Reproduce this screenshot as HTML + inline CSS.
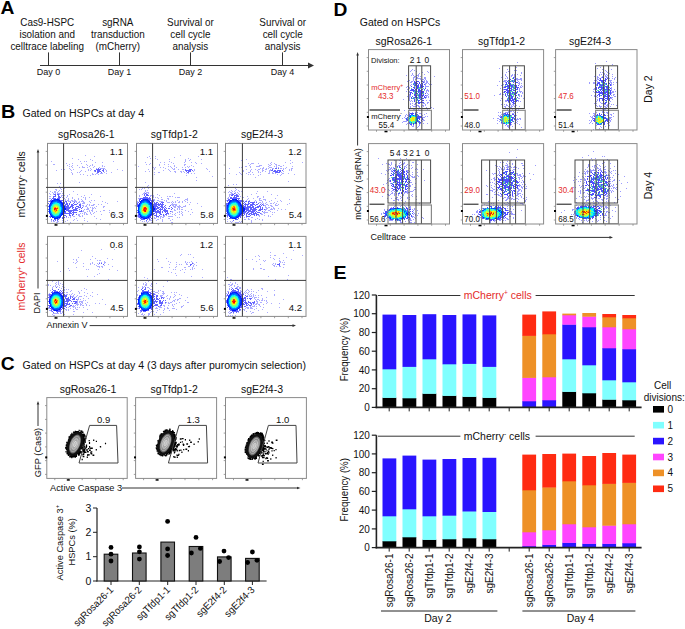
<!DOCTYPE html>
<html><head><meta charset="utf-8"><style>
html,body{margin:0;padding:0;background:#fff;}
svg{display:block;}
text{font-family:"Liberation Sans",sans-serif;}
</style></head><body>
<svg width="685" height="629" viewBox="0 0 685 629">
<defs><radialGradient id="cg" cx="50%" cy="50%" r="50%"><stop offset="0" stop-color="#c4c4c4"/><stop offset=".6" stop-color="#999"/><stop offset="1" stop-color="#606060"/></radialGradient></defs>
<rect width="685" height="629" fill="#fff"/>
<text transform="translate(0.6 14.3) scale(1.1 1)" font-size="17.5" font-weight="bold" fill="#000">A</text>
<path d="M40 65.5L310 65.5" stroke="#333" stroke-width="1"/>
<path d="M308 62.6L314 65.5L308 68.4Z" fill="#333"/>
<path d="M48.5 52.4L48.5 65.5" stroke="#333" stroke-width="1"/>
<path d="M119.5 52.4L119.5 65.5" stroke="#333" stroke-width="1"/>
<path d="M190.5 52.4L190.5 65.5" stroke="#333" stroke-width="1"/>
<path d="M282.5 52.4L282.5 65.5" stroke="#333" stroke-width="1"/>
<text transform="translate(47.2 26) scale(1 1.04)" text-anchor="middle" fill="#111" font-size="9.9">Cas9-HSPC</text>
<text transform="translate(47.2 38) scale(1 1.04)" text-anchor="middle" fill="#111" font-size="9.9">isolation and</text>
<text transform="translate(47.2 50) scale(1 1.04)" text-anchor="middle" fill="#111" font-size="9.9">celltrace labeling</text>
<text transform="translate(48.5 74.6) scale(1 1.04)" text-anchor="middle" fill="#111" font-size="9">Day 0</text>
<text transform="translate(117.8 26) scale(1 1.04)" text-anchor="middle" fill="#111" font-size="9.9">sgRNA</text>
<text transform="translate(117.8 38) scale(1 1.04)" text-anchor="middle" fill="#111" font-size="9.9">transduction</text>
<text transform="translate(117.8 50) scale(1 1.04)" text-anchor="middle" fill="#111" font-size="9.9">(mCherry)</text>
<text transform="translate(119.5 74.6) scale(1 1.04)" text-anchor="middle" fill="#111" font-size="9">Day 1</text>
<text transform="translate(190.4 26) scale(1 1.04)" text-anchor="middle" fill="#111" font-size="9.9">Survival or</text>
<text transform="translate(190.4 38) scale(1 1.04)" text-anchor="middle" fill="#111" font-size="9.9">cell cycle</text>
<text transform="translate(190.4 50) scale(1 1.04)" text-anchor="middle" fill="#111" font-size="9.9">analysis</text>
<text transform="translate(190.5 74.6) scale(1 1.04)" text-anchor="middle" fill="#111" font-size="9">Day 2</text>
<text transform="translate(282.7 26) scale(1 1.04)" text-anchor="middle" fill="#111" font-size="9.9">Survival or</text>
<text transform="translate(282.7 38) scale(1 1.04)" text-anchor="middle" fill="#111" font-size="9.9">cell cycle</text>
<text transform="translate(282.7 50) scale(1 1.04)" text-anchor="middle" fill="#111" font-size="9.9">analysis</text>
<text transform="translate(282.5 74.6) scale(1 1.04)" text-anchor="middle" fill="#111" font-size="9">Day 4</text>
<text transform="translate(1 117.6) scale(1.13 1)" font-size="17.5" font-weight="bold" fill="#000">B</text>
<text transform="translate(22.4 116.6) scale(1 1.04)" fill="#111" font-size="10.6">Gated on HSPCs at day 4</text>
<text transform="translate(86.4 137.6) scale(1 1.04)" text-anchor="middle" fill="#111" font-size="10.5">sgRosa26-1</text>
<text transform="translate(174.3 137.6) scale(1 1.04)" text-anchor="middle" fill="#111" font-size="10.5">sgTfdp1-2</text>
<text transform="translate(262 137.6) scale(1 1.04)" text-anchor="middle" fill="#111" font-size="10.5">sgE2f4-3</text>
<path d="M85 155.5h1M94 156.5h1M72 158.5h1M78 159.5h1M90 159.5h1M92 160.5h1M51 161.5h1M80 161.5h1M84 161.5h1M86 161.5h1M113 161.5h1M95 162.5h1M102 162.5h1M66 163.5h1M72 163.5h1M81 163.5h1M53 164.5h1M54 164.5h1M69 164.5h1M86 164.5h1M92 164.5h1M67 165.5h1M72 165.5h1M77 165.5h1M87 165.5h1M90 165.5h1M92 165.5h1M102 165.5h1M69 166.5h1M71 166.5h1M82 166.5h1M89 166.5h1M94 166.5h1M102 166.5h1M104 166.5h1M72 167.5h1M79 167.5h1M82 167.5h1M83 167.5h1M84 167.5h1M87 167.5h1M93 167.5h1M99 167.5h1M69 168.5h1M90 168.5h1M96 168.5h1M100 168.5h1M101 168.5h1M102 168.5h1M103 168.5h1M104 168.5h1M61 169.5h1M64 169.5h1M70 169.5h1M73 169.5h1M88 169.5h1M91 169.5h1M105 169.5h1M117 169.5h1M56 170.5h1M71 170.5h1M81 170.5h1M88 170.5h1M90 170.5h1M106 170.5h1M122 170.5h1M80 171.5h1M85 171.5h1M94 171.5h1M106 171.5h1M71 172.5h1M77 172.5h1M79 172.5h1M104 172.5h1M111 172.5h1M72 173.5h1M92 173.5h1M96 173.5h1M97 173.5h1M100 173.5h1M101 173.5h1M102 173.5h1M106 173.5h1M72 174.5h1M80 174.5h1M83 174.5h1M92 174.5h1M93 174.5h1M95 174.5h1M98 174.5h1M87 175.5h1M90 175.5h1M79 182.5h1M57 183.5h1M60 183.5h1M59 186.5h1M60 188.5h1M64 188.5h1M55 189.5h1M56 189.5h1M61 189.5h1M56 190.5h1M59 190.5h1M50 191.5h1M54 191.5h1M55 191.5h1M58 191.5h1M61 191.5h1M73 191.5h1M52 192.5h1M54 192.5h1M55 192.5h1M57 192.5h1M49 193.5h1M53 193.5h1M55 193.5h1M57 193.5h1M58 193.5h1M59 193.5h1M60 193.5h1M62 193.5h1M50 194.5h1M53 194.5h1M59 194.5h1M69 194.5h1M77 194.5h1M91 194.5h1M61 195.5h1M62 195.5h1M64 195.5h1M67 195.5h1M84 195.5h1M49 196.5h1M50 196.5h1M61 196.5h1M67 196.5h1M81 196.5h1M100 196.5h1M62 197.5h1M63 197.5h1M66 197.5h1M72 197.5h1M83 197.5h1M85 197.5h1M89 197.5h1M49 198.5h1M50 198.5h1M64 198.5h1M68 198.5h1M72 198.5h1M78 198.5h1M85 198.5h1M65 199.5h1M68 199.5h1M74 199.5h1M78 199.5h1M81 199.5h1M85 199.5h1M65 200.5h1M67 200.5h1M68 200.5h1M71 200.5h1M72 200.5h1M74 200.5h1M75 200.5h1M82 200.5h1M91 200.5h1M94 200.5h1M48 201.5h1M68 201.5h1M69 201.5h1M70 201.5h1M72 201.5h1M73 201.5h1M74 201.5h1M75 201.5h1M76 201.5h1M79 201.5h1M81 201.5h1M82 201.5h1M83 201.5h1M89 201.5h1M102 201.5h1M117 201.5h1M76 202.5h1M78 202.5h1M79 202.5h1M83 202.5h1M84 202.5h1M90 202.5h1M105 202.5h1M80 203.5h1M82 203.5h1M83 203.5h1M84 203.5h1M107 203.5h1M87 204.5h1M89 204.5h1M93 204.5h1M94 204.5h1M98 204.5h1M101 204.5h1M82 205.5h1M83 205.5h1M86 205.5h1M89 205.5h1M91 205.5h1M92 205.5h1M93 205.5h1M83 206.5h1M85 206.5h1M86 206.5h1M96 206.5h1M103 206.5h1M104 206.5h1M87 207.5h1M90 207.5h1M92 207.5h1M94 207.5h1M103 207.5h1M87 208.5h1M88 208.5h1M92 208.5h1M93 208.5h1M95 208.5h1M84 209.5h1M86 209.5h1M87 209.5h1M88 209.5h1M92 209.5h1M83 210.5h1M89 210.5h1M91 210.5h1M92 210.5h1M103 210.5h1M104 210.5h1M109 210.5h1M82 211.5h1M83 211.5h1M87 211.5h1M89 211.5h1M92 211.5h1M96 211.5h1M100 211.5h1M84 212.5h1M85 212.5h1M90 212.5h1M94 212.5h1M109 212.5h1M80 213.5h1M82 213.5h1M84 213.5h1M86 213.5h1M90 213.5h1M93 213.5h1M78 214.5h1M79 214.5h1M84 214.5h1M86 214.5h1M87 214.5h1M91 214.5h1M101 214.5h1M115 214.5h1M78 215.5h1M79 215.5h1M82 215.5h1M70 216.5h1M73 216.5h1M74 216.5h1M79 216.5h1M80 216.5h1M82 216.5h1M94 216.5h1M66 217.5h1M68 217.5h1M70 217.5h1M63 218.5h1M76 218.5h1M84 218.5h1M96 218.5h1M74 219.5h1M100 219.5h1M51 220.5h1M62 220.5h1M67 220.5h1M73 220.5h1M77 220.5h1M84 220.5h1M51 221.5h1M53 221.5h1M54 221.5h1M57 221.5h1M58 221.5h1M65 221.5h1M87 221.5h1M56 222.5h1M57 222.5h1M62 222.5h1M70 222.5h1" stroke="#3a3aff" stroke-opacity="0.42" stroke-width="1"/>
<path d="M98 168.5h1M96 169.5h1M97 169.5h1M98 169.5h1M99 169.5h1M100 169.5h1M103 169.5h1M94 170.5h1M95 170.5h1M97 170.5h1M98 170.5h1M99 170.5h1M102 170.5h1M103 170.5h1M95 171.5h1M97 171.5h1M98 171.5h1M99 171.5h1M100 171.5h1M103 171.5h1M97 172.5h1M98 172.5h1M101 172.5h1M54 194.5h1M55 194.5h1M57 194.5h1M58 194.5h1M55 195.5h1M58 195.5h1M53 196.5h1M54 196.5h1M55 196.5h1M58 196.5h1M59 196.5h1M53 197.5h1M58 197.5h1M59 197.5h1M60 197.5h1M52 198.5h1M53 198.5h1M54 198.5h1M55 198.5h1M57 198.5h1M58 198.5h1M59 198.5h1M51 199.5h1M53 199.5h1M59 199.5h1M63 199.5h1M50 200.5h1M51 200.5h1M60 200.5h1M61 200.5h1M62 200.5h1M49 201.5h1M50 201.5h1M61 201.5h1M65 201.5h1M66 201.5h1M50 202.5h1M62 202.5h1M64 202.5h1M66 202.5h1M70 202.5h1M74 202.5h1M48 203.5h1M63 203.5h1M64 203.5h1M66 203.5h1M67 203.5h1M69 203.5h1M73 203.5h1M77 203.5h1M49 204.5h1M63 204.5h1M65 204.5h1M66 204.5h1M67 204.5h1M69 204.5h1M71 204.5h1M72 204.5h1M74 204.5h1M75 204.5h1M76 204.5h1M79 204.5h1M80 204.5h1M64 205.5h1M65 205.5h1M67 205.5h1M68 205.5h1M71 205.5h1M72 205.5h1M73 205.5h1M79 205.5h1M80 205.5h1M48 206.5h1M65 206.5h1M66 206.5h1M67 206.5h1M68 206.5h1M70 206.5h1M71 206.5h1M72 206.5h1M76 206.5h1M77 206.5h1M78 206.5h1M80 206.5h1M65 207.5h1M66 207.5h1M67 207.5h1M68 207.5h1M69 207.5h1M70 207.5h1M72 207.5h1M73 207.5h1M75 207.5h1M78 207.5h1M79 207.5h1M80 207.5h1M82 207.5h1M66 208.5h1M67 208.5h1M68 208.5h1M69 208.5h1M72 208.5h1M75 208.5h1M76 208.5h1M77 208.5h1M81 208.5h1M48 209.5h1M66 209.5h1M67 209.5h1M68 209.5h1M73 209.5h1M74 209.5h1M75 209.5h1M76 209.5h1M79 209.5h1M66 210.5h1M67 210.5h1M68 210.5h1M69 210.5h1M70 210.5h1M71 210.5h1M72 210.5h1M73 210.5h1M74 210.5h1M75 210.5h1M76 210.5h1M77 210.5h1M81 210.5h1M48 211.5h1M65 211.5h1M68 211.5h1M69 211.5h1M70 211.5h1M71 211.5h1M73 211.5h1M79 211.5h1M80 211.5h1M81 211.5h1M64 212.5h1M65 212.5h1M69 212.5h1M70 212.5h1M72 212.5h1M73 212.5h1M74 212.5h1M75 212.5h1M76 212.5h1M49 213.5h1M63 213.5h1M64 213.5h1M65 213.5h1M66 213.5h1M67 213.5h1M68 213.5h1M69 213.5h1M70 213.5h1M71 213.5h1M73 213.5h1M63 214.5h1M69 214.5h1M72 214.5h1M73 214.5h1M76 214.5h1M50 215.5h1M63 215.5h1M64 215.5h1M65 215.5h1M69 215.5h1M70 215.5h1M72 215.5h1M49 216.5h1M50 216.5h1M63 216.5h1M66 216.5h1M50 217.5h1M60 217.5h1M62 217.5h1M64 217.5h1M58 218.5h1M59 218.5h1M62 218.5h1M51 219.5h1M54 219.5h1M55 219.5h1M57 219.5h1M58 219.5h1M53 220.5h1M55 220.5h1M57 220.5h1" stroke="#2e2eff" stroke-opacity="0.75" stroke-width="1"/>
<path d="M57 199.5h1M58 199.5h1M52 200.5h1M59 200.5h1M51 201.5h1M52 201.5h1M60 201.5h1M51 202.5h1M61 202.5h1M50 203.5h1M62 203.5h1M62 204.5h1M63 205.5h1M49 206.5h1M63 206.5h1M64 206.5h1M64 207.5h1M64 208.5h1M65 208.5h1M64 209.5h1M65 209.5h1M63 211.5h1M64 211.5h1M63 212.5h1M62 213.5h1M50 214.5h1M62 214.5h1M51 216.5h1M60 216.5h1M52 217.5h1M59 217.5h1M54 218.5h1M55 218.5h1M57 218.5h1" stroke="#0019ff" stroke-width="1"/>
<path d="M54 199.5h1M55 199.5h1M56 199.5h1M53 200.5h1M54 200.5h1M57 200.5h1M58 200.5h1M59 201.5h1M60 202.5h1M61 203.5h1M50 204.5h1M49 205.5h1M62 205.5h1M49 207.5h1M62 207.5h1M63 207.5h1M49 208.5h1M63 208.5h1M49 209.5h1M63 209.5h1M49 210.5h1M63 210.5h1M64 210.5h1M49 211.5h1M49 212.5h1M62 212.5h1M61 213.5h1M61 214.5h1M51 215.5h1M61 215.5h1M52 216.5h1M53 217.5h1M57 217.5h1M58 217.5h1M56 218.5h1" stroke="#0032ff" stroke-width="1"/>
<path d="M55 200.5h1M56 200.5h1M53 201.5h1M58 201.5h1M51 203.5h1M61 204.5h1M50 205.5h1M61 205.5h1M62 206.5h1M62 208.5h1M62 209.5h1M62 210.5h1M62 211.5h1M50 213.5h1M60 215.5h1M59 216.5h1M54 217.5h1M55 217.5h1M56 217.5h1" stroke="#004cff" stroke-width="1"/>
<path d="M54 201.5h1M55 201.5h1M57 201.5h1M52 202.5h1M58 202.5h1M59 202.5h1M52 203.5h1M60 203.5h1M51 204.5h1M50 206.5h1M61 206.5h1M50 211.5h1M61 211.5h1M50 212.5h1M61 212.5h1M51 214.5h1M60 214.5h1M52 215.5h1M59 215.5h1M53 216.5h1M54 216.5h1M57 216.5h1M58 216.5h1" stroke="#0065ff" stroke-width="1"/>
<path d="M56 201.5h1M57 202.5h1M60 204.5h1M50 208.5h1M61 210.5h1M51 213.5h1M60 213.5h1M56 216.5h1" stroke="#007fff" stroke-width="1"/>
<path d="M53 202.5h1M59 203.5h1M51 205.5h1M60 205.5h1M50 207.5h1M61 207.5h1M61 209.5h1M50 210.5h1M59 214.5h1" stroke="#0099ff" stroke-width="1"/>
<path d="M54 202.5h1M60 206.5h1M61 208.5h1M50 209.5h1M60 212.5h1M52 214.5h1M53 215.5h1M58 215.5h1M55 216.5h1" stroke="#00b2ff" stroke-width="1"/>
<path d="M55 202.5h1M56 202.5h1M53 203.5h1M51 212.5h1" stroke="#00ccff" stroke-width="1"/>
<path d="M54 203.5h1M52 204.5h1M59 213.5h1M57 215.5h1" stroke="#00e5ff" stroke-width="1"/>
<path d="M58 203.5h1M59 204.5h1M59 205.5h1M60 207.5h1M60 208.5h1M60 210.5h1M51 211.5h1M60 211.5h1M54 215.5h1M55 215.5h1" stroke="#00ffff" stroke-width="1"/>
<path d="M55 203.5h1M56 203.5h1M53 204.5h1M58 204.5h1M52 205.5h1M51 206.5h1M51 207.5h1M58 214.5h1M56 215.5h1" stroke="#19ffe5" stroke-width="1"/>
<path d="M57 203.5h1M52 206.5h1M59 206.5h1M51 208.5h1M51 209.5h1M60 209.5h1M51 210.5h1M52 212.5h1M59 212.5h1M52 213.5h1M53 214.5h1M56 214.5h1" stroke="#32ffcc" stroke-width="1"/>
<path d="M57 204.5h1M58 205.5h1M59 207.5h1M59 210.5h1M53 213.5h1M58 213.5h1M54 214.5h1M55 214.5h1M57 214.5h1" stroke="#4cffb2" stroke-width="1"/>
<path d="M54 204.5h1M55 204.5h1M53 205.5h1M52 207.5h1M52 208.5h1M59 208.5h1M59 209.5h1M52 211.5h1M59 211.5h1M54 213.5h1M57 213.5h1" stroke="#65ff99" stroke-width="1"/>
<path d="M56 204.5h1M57 205.5h1M53 206.5h1M52 210.5h1M58 210.5h1M53 212.5h1M54 212.5h1M58 212.5h1M56 213.5h1" stroke="#7fff7f" stroke-width="1"/>
<path d="M54 205.5h1M56 205.5h1M54 206.5h1M58 206.5h1M52 209.5h1M58 211.5h1M57 212.5h1" stroke="#99ff65" stroke-width="1"/>
<path d="M55 205.5h1M57 206.5h1M58 207.5h1M53 209.5h1M55 213.5h1" stroke="#b2ff4c" stroke-width="1"/>
<path d="M53 208.5h1M58 208.5h1M53 211.5h1M57 211.5h1" stroke="#cbff33" stroke-width="1"/>
<path d="M55 206.5h1M58 209.5h1" stroke="#e5ff19" stroke-width="1"/>
<path d="M56 206.5h1M56 207.5h1M57 209.5h1M53 210.5h1M56 212.5h1" stroke="#ffff00" stroke-width="1"/>
<path d="M53 207.5h1M57 210.5h1M54 211.5h1M56 211.5h1M55 212.5h1" stroke="#ffe500" stroke-width="1"/>
<path d="M54 207.5h1M57 207.5h1M55 210.5h1" stroke="#ffb200" stroke-width="1"/>
<path d="M54 210.5h1M55 211.5h1" stroke="#ff9900" stroke-width="1"/>
<path d="M55 207.5h1" stroke="#ff7f00" stroke-width="1"/>
<path d="M56 208.5h1M55 209.5h1M56 209.5h1" stroke="#ff4c00" stroke-width="1"/>
<path d="M57 208.5h1M56 210.5h1" stroke="#ff3300" stroke-width="1"/>
<path d="M54 208.5h1" stroke="#ff1900" stroke-width="1"/>
<path d="M55 208.5h1M54 209.5h1" stroke="#ff0000" stroke-width="1"/>
<rect x="47.5" y="143.4" width="80" height="80" fill="none" stroke="#8a8a8a" stroke-width="1"/>
<path d="M47.5 151.4h-1.8M47.5 165h-1.8M47.5 178.6h-1.8M47.5 192.2h-1.8M47.5 205.8h-1.8M47.5 219.4h-1.8M55.5 223.4v1.8M69.1 223.4v1.8M82.7 223.4v1.8M96.3 223.4v1.8M109.9 223.4v1.8M123.5 223.4v1.8" stroke="#888" stroke-width=".8"/>
<path d="M63.6 143.4L63.6 223.4" stroke="#3a3a3a" stroke-width="1"/>
<path d="M46 187.4L127.5 187.4" stroke="#3a3a3a" stroke-width="1"/>
<text transform="translate(123.1 154.6) scale(1 1.04)" text-anchor="end" fill="#111" font-size="9.6">1.1</text>
<text transform="translate(123.5 218.4) scale(1 1.04)" text-anchor="end" fill="#111" font-size="9.6">6.3</text>
<rect x="45.9" y="214.9" width="2" height="2" fill="#000"/>
<rect x="54.5" y="224.2" width="3" height="1.5" fill="#000"/>
<path d="M180 155.5h1M149 156.5h1M155 156.5h1M198 156.5h1M147 157.5h1M174 157.5h1M150 158.5h1M155 158.5h1M188 158.5h1M157 159.5h1M169 159.5h1M185 159.5h1M190 159.5h1M201 159.5h1M152 160.5h1M185 160.5h1M189 160.5h1M169 161.5h1M185 161.5h1M145 162.5h1M160 162.5h1M164 162.5h1M171 162.5h1M184 162.5h1M191 162.5h1M195 162.5h1M150 163.5h1M173 163.5h1M196 163.5h1M201 163.5h1M146 164.5h1M149 164.5h1M159 164.5h1M164 164.5h1M168 164.5h1M184 164.5h1M185 164.5h1M159 165.5h1M174 165.5h1M184 165.5h1M191 165.5h1M138 166.5h1M152 166.5h1M168 166.5h1M170 166.5h1M174 166.5h1M187 166.5h1M189 166.5h1M193 166.5h1M152 167.5h1M153 167.5h1M155 167.5h1M160 167.5h1M163 167.5h1M171 167.5h1M176 167.5h1M182 167.5h1M185 167.5h1M188 167.5h1M152 168.5h1M154 168.5h1M165 168.5h1M172 168.5h1M174 168.5h1M206 168.5h1M148 169.5h1M154 169.5h1M168 169.5h1M173 169.5h1M174 169.5h1M178 169.5h1M182 169.5h1M183 169.5h1M194 169.5h1M207 169.5h1M152 170.5h1M163 170.5h1M169 170.5h1M194 170.5h1M145 171.5h1M149 171.5h1M170 171.5h1M174 171.5h1M175 171.5h1M180 171.5h1M181 171.5h1M183 171.5h1M193 171.5h1M209 171.5h1M154 172.5h1M158 172.5h1M159 172.5h1M175 172.5h1M181 172.5h1M184 172.5h1M186 173.5h1M188 173.5h1M191 173.5h1M194 173.5h1M154 174.5h1M186 175.5h1M212 176.5h1M196 177.5h1M196 180.5h1M145 182.5h1M148 185.5h1M147 186.5h1M142 188.5h1M144 188.5h1M148 188.5h1M139 189.5h1M141 189.5h1M145 190.5h1M147 190.5h1M145 191.5h1M144 192.5h1M146 192.5h1M147 192.5h1M148 192.5h1M143 193.5h1M144 193.5h1M146 193.5h1M148 193.5h1M174 193.5h1M142 194.5h1M157 194.5h1M139 195.5h1M150 195.5h1M151 195.5h1M153 195.5h1M159 195.5h1M139 196.5h1M150 196.5h1M152 196.5h1M153 196.5h1M167 196.5h1M169 196.5h1M170 196.5h1M172 196.5h1M153 197.5h1M155 197.5h1M157 197.5h1M161 197.5h1M175 197.5h1M177 197.5h1M178 197.5h1M179 197.5h1M138 198.5h1M139 198.5h1M158 198.5h1M167 198.5h1M168 198.5h1M187 198.5h1M153 199.5h1M154 199.5h1M161 199.5h1M162 199.5h1M168 199.5h1M185 199.5h1M186 199.5h1M187 199.5h1M154 200.5h1M157 200.5h1M158 200.5h1M164 200.5h1M166 200.5h1M177 200.5h1M184 200.5h1M187 200.5h1M137 201.5h1M159 201.5h1M160 201.5h1M161 201.5h1M162 201.5h1M166 201.5h1M172 201.5h1M175 201.5h1M179 201.5h1M182 201.5h1M185 201.5h1M137 202.5h1M167 202.5h1M168 202.5h1M169 202.5h1M171 202.5h1M173 202.5h1M175 202.5h1M178 202.5h1M179 202.5h1M182 202.5h1M187 202.5h1M190 202.5h1M172 203.5h1M197 203.5h1M171 204.5h1M172 204.5h1M173 204.5h1M174 204.5h1M175 204.5h1M176 204.5h1M189 204.5h1M172 205.5h1M173 205.5h1M175 205.5h1M176 205.5h1M179 205.5h1M185 205.5h1M173 206.5h1M174 206.5h1M175 206.5h1M177 206.5h1M178 206.5h1M179 206.5h1M180 206.5h1M183 206.5h1M184 206.5h1M185 206.5h1M201 206.5h1M174 207.5h1M175 207.5h1M178 207.5h1M179 207.5h1M181 207.5h1M182 207.5h1M177 208.5h1M179 208.5h1M174 209.5h1M177 209.5h1M179 209.5h1M181 209.5h1M182 209.5h1M191 209.5h1M174 210.5h1M175 210.5h1M185 210.5h1M171 211.5h1M172 211.5h1M179 211.5h1M181 211.5h1M188 211.5h1M172 212.5h1M177 212.5h1M179 212.5h1M182 212.5h1M192 212.5h1M170 213.5h1M175 213.5h1M181 213.5h1M168 214.5h1M172 214.5h1M174 214.5h1M179 214.5h1M182 214.5h1M190 214.5h1M137 215.5h1M164 215.5h1M166 215.5h1M175 215.5h1M182 215.5h1M137 216.5h1M160 216.5h1M161 216.5h1M163 216.5h1M164 216.5h1M168 216.5h1M169 216.5h1M170 216.5h1M171 216.5h1M172 216.5h1M138 217.5h1M154 217.5h1M156 217.5h1M158 217.5h1M160 217.5h1M162 217.5h1M163 217.5h1M177 217.5h1M179 217.5h1M152 218.5h1M154 218.5h1M155 218.5h1M160 218.5h1M168 218.5h1M169 218.5h1M150 219.5h1M157 219.5h1M158 219.5h1M162 219.5h1M172 219.5h1M140 220.5h1M149 220.5h1M150 220.5h1M151 220.5h1M156 220.5h1M162 220.5h1M170 220.5h1M142 221.5h1M144 221.5h1M146 221.5h1M148 221.5h1M162 221.5h1M147 222.5h1M151 222.5h1M152 222.5h1M171 222.5h1M172 222.5h1" stroke="#3a3aff" stroke-opacity="0.42" stroke-width="1"/>
<path d="M185 169.5h1M189 169.5h1M190 169.5h1M191 169.5h1M185 170.5h1M186 170.5h1M187 170.5h1M188 170.5h1M189 170.5h1M190 170.5h1M192 170.5h1M186 171.5h1M188 171.5h1M189 171.5h1M190 171.5h1M187 172.5h1M188 172.5h1M145 193.5h1M144 194.5h1M146 194.5h1M147 194.5h1M144 195.5h1M146 195.5h1M147 195.5h1M148 195.5h1M145 196.5h1M143 197.5h1M144 197.5h1M145 197.5h1M146 197.5h1M147 197.5h1M149 197.5h1M140 198.5h1M141 198.5h1M142 198.5h1M143 198.5h1M144 198.5h1M145 198.5h1M146 198.5h1M147 198.5h1M148 198.5h1M149 198.5h1M150 198.5h1M139 199.5h1M140 199.5h1M142 199.5h1M148 199.5h1M149 199.5h1M150 199.5h1M139 200.5h1M149 200.5h1M150 200.5h1M151 200.5h1M153 200.5h1M139 201.5h1M151 201.5h1M153 201.5h1M138 202.5h1M151 202.5h1M152 202.5h1M154 202.5h1M156 202.5h1M157 202.5h1M161 202.5h1M162 202.5h1M163 202.5h1M137 203.5h1M152 203.5h1M154 203.5h1M155 203.5h1M156 203.5h1M158 203.5h1M160 203.5h1M162 203.5h1M137 204.5h1M138 204.5h1M152 204.5h1M153 204.5h1M154 204.5h1M155 204.5h1M156 204.5h1M157 204.5h1M158 204.5h1M159 204.5h1M160 204.5h1M161 204.5h1M162 204.5h1M163 204.5h1M137 205.5h1M153 205.5h1M154 205.5h1M155 205.5h1M156 205.5h1M158 205.5h1M159 205.5h1M161 205.5h1M162 205.5h1M165 205.5h1M170 205.5h1M137 206.5h1M154 206.5h1M155 206.5h1M156 206.5h1M157 206.5h1M160 206.5h1M161 206.5h1M162 206.5h1M164 206.5h1M169 206.5h1M154 207.5h1M155 207.5h1M157 207.5h1M158 207.5h1M159 207.5h1M161 207.5h1M162 207.5h1M163 207.5h1M165 207.5h1M171 207.5h1M155 208.5h1M156 208.5h1M157 208.5h1M158 208.5h1M160 208.5h1M162 208.5h1M164 208.5h1M166 208.5h1M168 208.5h1M169 208.5h1M172 208.5h1M155 209.5h1M156 209.5h1M159 209.5h1M160 209.5h1M161 209.5h1M162 209.5h1M164 209.5h1M165 209.5h1M171 209.5h1M137 210.5h1M154 210.5h1M155 210.5h1M157 210.5h1M158 210.5h1M160 210.5h1M163 210.5h1M164 210.5h1M165 210.5h1M166 210.5h1M167 210.5h1M154 211.5h1M155 211.5h1M156 211.5h1M157 211.5h1M158 211.5h1M159 211.5h1M160 211.5h1M162 211.5h1M164 211.5h1M165 211.5h1M166 211.5h1M167 211.5h1M170 211.5h1M137 212.5h1M155 212.5h1M156 212.5h1M157 212.5h1M158 212.5h1M159 212.5h1M160 212.5h1M162 212.5h1M165 212.5h1M167 212.5h1M138 213.5h1M152 213.5h1M153 213.5h1M154 213.5h1M156 213.5h1M159 213.5h1M160 213.5h1M166 213.5h1M167 213.5h1M168 213.5h1M138 214.5h1M152 214.5h1M153 214.5h1M156 214.5h1M160 214.5h1M161 214.5h1M163 214.5h1M165 214.5h1M166 214.5h1M138 215.5h1M139 215.5h1M151 215.5h1M154 215.5h1M155 215.5h1M156 215.5h1M159 215.5h1M163 215.5h1M138 216.5h1M139 216.5h1M150 216.5h1M156 216.5h1M157 216.5h1M158 216.5h1M139 217.5h1M140 217.5h1M149 217.5h1M150 217.5h1M140 218.5h1M141 218.5h1M142 218.5h1M147 218.5h1M148 218.5h1M149 218.5h1M151 218.5h1M141 219.5h1M142 219.5h1M143 219.5h1M144 219.5h1M147 219.5h1M149 219.5h1M146 220.5h1" stroke="#2e2eff" stroke-opacity="0.75" stroke-width="1"/>
<path d="M143 199.5h1M145 199.5h1M147 199.5h1M141 200.5h1M140 201.5h1M149 201.5h1M140 202.5h1M150 202.5h1M139 203.5h1M150 203.5h1M151 203.5h1M138 205.5h1M152 205.5h1M138 206.5h1M153 206.5h1M152 207.5h1M153 207.5h1M153 208.5h1M154 208.5h1M153 209.5h1M154 209.5h1M153 210.5h1M138 211.5h1M152 211.5h1M153 211.5h1M138 212.5h1M152 212.5h1M139 214.5h1M151 214.5h1M150 215.5h1M140 216.5h1M141 217.5h1M148 217.5h1M144 218.5h1M145 218.5h1M146 218.5h1" stroke="#0019ff" stroke-width="1"/>
<path d="M144 199.5h1M146 199.5h1M142 200.5h1M143 200.5h1M146 200.5h1M147 200.5h1M148 200.5h1M141 201.5h1M148 201.5h1M149 202.5h1M139 204.5h1M151 204.5h1M139 205.5h1M152 206.5h1M138 207.5h1M138 208.5h1M152 208.5h1M138 209.5h1M152 209.5h1M138 210.5h1M152 210.5h1M151 212.5h1M151 213.5h1M150 214.5h1M140 215.5h1M148 216.5h1M149 216.5h1M142 217.5h1M147 217.5h1M143 218.5h1" stroke="#0032ff" stroke-width="1"/>
<path d="M144 200.5h1M145 200.5h1M142 201.5h1M147 201.5h1M141 202.5h1M148 202.5h1M140 203.5h1M149 203.5h1M150 204.5h1M150 205.5h1M151 205.5h1M151 206.5h1M151 207.5h1M151 208.5h1M151 209.5h1M151 210.5h1M151 211.5h1M139 213.5h1M140 214.5h1M149 215.5h1M141 216.5h1M143 217.5h1M144 217.5h1M145 217.5h1M146 217.5h1" stroke="#004cff" stroke-width="1"/>
<path d="M143 201.5h1M146 201.5h1M147 202.5h1M149 204.5h1M139 206.5h1M150 206.5h1M150 207.5h1M150 210.5h1M139 211.5h1M150 211.5h1M139 212.5h1M150 212.5h1M150 213.5h1M149 214.5h1M141 215.5h1M148 215.5h1M142 216.5h1M143 216.5h1M147 216.5h1" stroke="#0065ff" stroke-width="1"/>
<path d="M144 201.5h1M145 201.5h1M142 202.5h1M143 202.5h1M141 203.5h1M140 204.5h1M139 207.5h1M150 208.5h1M147 215.5h1M144 216.5h1M146 216.5h1" stroke="#007fff" stroke-width="1"/>
<path d="M146 202.5h1M148 203.5h1M140 205.5h1M139 208.5h1M140 213.5h1M149 213.5h1M148 214.5h1" stroke="#0099ff" stroke-width="1"/>
<path d="M144 202.5h1M148 204.5h1M139 209.5h1M150 209.5h1M149 211.5h1M140 212.5h1M149 212.5h1M145 216.5h1" stroke="#00b2ff" stroke-width="1"/>
<path d="M145 202.5h1M147 203.5h1M140 206.5h1M139 210.5h1M141 214.5h1M142 215.5h1" stroke="#00ccff" stroke-width="1"/>
<path d="M141 204.5h1M149 205.5h1M149 206.5h1M148 213.5h1" stroke="#00e5ff" stroke-width="1"/>
<path d="M142 203.5h1M146 203.5h1M149 207.5h1M149 209.5h1M147 214.5h1M143 215.5h1M145 215.5h1M146 215.5h1" stroke="#00ffff" stroke-width="1"/>
<path d="M143 203.5h1M142 204.5h1M141 205.5h1M148 205.5h1M149 208.5h1M140 209.5h1M140 210.5h1M140 211.5h1M142 214.5h1M144 215.5h1" stroke="#19ffe5" stroke-width="1"/>
<path d="M145 203.5h1M147 204.5h1M140 207.5h1M140 208.5h1M149 210.5h1M148 212.5h1M141 213.5h1M142 213.5h1M146 214.5h1" stroke="#32ffcc" stroke-width="1"/>
<path d="M144 203.5h1M141 206.5h1M148 206.5h1M148 207.5h1M141 212.5h1M147 213.5h1M143 214.5h1" stroke="#4cffb2" stroke-width="1"/>
<path d="M143 204.5h1M144 204.5h1M145 204.5h1M146 204.5h1M142 205.5h1M146 205.5h1M147 205.5h1M142 206.5h1M147 206.5h1M141 207.5h1M141 208.5h1M141 211.5h1M148 211.5h1M147 212.5h1M144 214.5h1M145 214.5h1" stroke="#65ff99" stroke-width="1"/>
<path d="M146 206.5h1M148 208.5h1M141 209.5h1M148 209.5h1M141 210.5h1M148 210.5h1M142 212.5h1M144 213.5h1M145 213.5h1" stroke="#7fff7f" stroke-width="1"/>
<path d="M145 205.5h1M147 207.5h1M143 213.5h1M146 213.5h1" stroke="#99ff65" stroke-width="1"/>
<path d="M143 205.5h1M144 205.5h1M142 207.5h1M147 208.5h1M147 211.5h1M146 212.5h1" stroke="#b2ff4c" stroke-width="1"/>
<path d="M142 208.5h1M147 209.5h1M147 210.5h1" stroke="#cbff33" stroke-width="1"/>
<path d="M145 206.5h1M142 211.5h1M145 212.5h1" stroke="#e5ff19" stroke-width="1"/>
<path d="M143 206.5h1M144 206.5h1M142 209.5h1M143 212.5h1M144 212.5h1" stroke="#ffff00" stroke-width="1"/>
<path d="M146 207.5h1M143 211.5h1M146 211.5h1" stroke="#ffe500" stroke-width="1"/>
<path d="M143 207.5h1M142 210.5h1M146 210.5h1" stroke="#ffcb00" stroke-width="1"/>
<path d="M143 208.5h1" stroke="#ff7f00" stroke-width="1"/>
<path d="M146 209.5h1M143 210.5h1" stroke="#ff4c00" stroke-width="1"/>
<path d="M144 207.5h1M146 208.5h1M143 209.5h1M145 209.5h1M144 211.5h1" stroke="#ff3300" stroke-width="1"/>
<path d="M145 207.5h1M145 208.5h1M144 209.5h1" stroke="#ff1900" stroke-width="1"/>
<path d="M144 208.5h1M144 210.5h1M145 210.5h1M145 211.5h1" stroke="#ff0000" stroke-width="1"/>
<rect x="136.5" y="143.4" width="81" height="80" fill="none" stroke="#8a8a8a" stroke-width="1"/>
<path d="M136.5 151.4h-1.8M136.5 165h-1.8M136.5 178.6h-1.8M136.5 192.2h-1.8M136.5 205.8h-1.8M136.5 219.4h-1.8M144.5 223.4v1.8M158.3 223.4v1.8M172.1 223.4v1.8M185.9 223.4v1.8M199.7 223.4v1.8M213.5 223.4v1.8" stroke="#888" stroke-width=".8"/>
<path d="M152.6 143.4L152.6 223.4" stroke="#3a3a3a" stroke-width="1"/>
<path d="M135 187.4L217.5 187.4" stroke="#3a3a3a" stroke-width="1"/>
<text transform="translate(213.1 154.6) scale(1 1.04)" text-anchor="end" fill="#111" font-size="9.6">1.1</text>
<text transform="translate(213.5 218.4) scale(1 1.04)" text-anchor="end" fill="#111" font-size="9.6">5.8</text>
<rect x="134.9" y="214.9" width="2" height="2" fill="#000"/>
<rect x="143.5" y="224.2" width="3" height="1.5" fill="#000"/>
<path d="M246 159.5h1M241 160.5h1M290 160.5h1M271 162.5h1M285 162.5h1M292 162.5h1M302 162.5h1M248 163.5h1M251 163.5h1M252 163.5h1M253 163.5h1M258 163.5h1M270 163.5h1M274 163.5h1M290 163.5h1M250 164.5h1M268 164.5h1M271 164.5h1M275 164.5h1M276 164.5h1M249 165.5h1M259 165.5h1M260 165.5h1M261 165.5h1M269 165.5h1M270 165.5h1M276 165.5h1M278 165.5h1M279 165.5h1M283 165.5h1M242 166.5h1M245 166.5h1M246 166.5h1M250 166.5h1M256 166.5h1M257 166.5h1M258 166.5h1M259 166.5h1M268 166.5h1M274 166.5h1M276 166.5h1M280 166.5h1M281 166.5h1M292 166.5h1M239 167.5h1M241 167.5h1M250 167.5h1M263 167.5h1M269 167.5h1M270 167.5h1M271 167.5h1M276 167.5h1M278 167.5h1M286 167.5h1M229 168.5h1M260 168.5h1M262 168.5h1M263 168.5h1M266 168.5h1M268 168.5h1M272 168.5h1M273 168.5h1M280 168.5h1M281 168.5h1M283 168.5h1M285 168.5h1M291 168.5h1M292 168.5h1M246 169.5h1M251 169.5h1M255 169.5h1M258 169.5h1M259 169.5h1M262 169.5h1M265 169.5h1M266 169.5h1M270 169.5h1M283 169.5h1M289 169.5h1M291 169.5h1M243 170.5h1M250 170.5h1M257 170.5h1M262 170.5h1M263 170.5h1M269 170.5h1M270 170.5h1M289 170.5h1M291 170.5h1M243 171.5h1M250 171.5h1M258 171.5h1M262 171.5h1M265 171.5h1M269 171.5h1M283 171.5h1M239 172.5h1M248 172.5h1M249 172.5h1M252 172.5h1M258 172.5h1M260 172.5h1M269 172.5h1M272 172.5h1M281 172.5h1M229 173.5h1M240 173.5h1M246 173.5h1M268 173.5h1M269 173.5h1M272 173.5h1M273 173.5h1M275 173.5h1M282 173.5h1M283 173.5h1M288 173.5h1M236 174.5h1M241 174.5h1M248 174.5h1M250 174.5h1M253 174.5h1M260 174.5h1M277 174.5h1M281 174.5h1M294 174.5h1M258 175.5h1M280 175.5h1M255 177.5h1M288 181.5h1M233 184.5h1M236 184.5h1M228 185.5h1M235 188.5h1M236 189.5h1M231 190.5h1M235 190.5h1M238 190.5h1M229 191.5h1M232 191.5h1M234 191.5h1M239 191.5h1M241 191.5h1M257 191.5h1M267 191.5h1M228 192.5h1M230 192.5h1M231 192.5h1M235 192.5h1M237 192.5h1M231 193.5h1M232 193.5h1M235 193.5h1M238 193.5h1M256 193.5h1M229 194.5h1M230 194.5h1M231 194.5h1M237 194.5h1M239 194.5h1M251 194.5h1M271 194.5h1M229 195.5h1M238 195.5h1M277 195.5h1M229 196.5h1M240 196.5h1M247 196.5h1M257 196.5h1M258 196.5h1M263 196.5h1M228 197.5h1M242 197.5h1M243 197.5h1M257 197.5h1M263 197.5h1M227 198.5h1M228 198.5h1M248 198.5h1M253 198.5h1M259 198.5h1M260 198.5h1M275 198.5h1M247 199.5h1M259 199.5h1M263 199.5h1M264 199.5h1M265 199.5h1M289 199.5h1M226 200.5h1M243 200.5h1M246 200.5h1M249 200.5h1M255 200.5h1M259 200.5h1M260 200.5h1M261 200.5h1M265 200.5h1M271 200.5h1M280 200.5h1M254 201.5h1M256 201.5h1M262 201.5h1M269 201.5h1M277 201.5h1M281 201.5h1M259 202.5h1M260 202.5h1M262 202.5h1M266 202.5h1M274 202.5h1M261 203.5h1M263 203.5h1M265 203.5h1M270 203.5h1M271 203.5h1M273 203.5h1M276 203.5h1M289 203.5h1M263 204.5h1M266 204.5h1M267 204.5h1M275 204.5h1M278 204.5h1M287 204.5h1M264 205.5h1M265 205.5h1M268 205.5h1M270 205.5h1M271 205.5h1M275 205.5h1M276 205.5h1M277 205.5h1M265 206.5h1M271 206.5h1M272 206.5h1M265 207.5h1M266 207.5h1M268 207.5h1M269 207.5h1M273 207.5h1M266 208.5h1M267 208.5h1M271 208.5h1M273 208.5h1M274 208.5h1M278 208.5h1M265 209.5h1M266 209.5h1M270 209.5h1M271 209.5h1M272 209.5h1M274 209.5h1M281 209.5h1M285 209.5h1M265 210.5h1M268 210.5h1M269 210.5h1M277 210.5h1M264 211.5h1M270 211.5h1M263 212.5h1M264 212.5h1M265 212.5h1M266 212.5h1M267 212.5h1M272 212.5h1M274 212.5h1M261 213.5h1M264 213.5h1M261 214.5h1M262 214.5h1M272 214.5h1M226 215.5h1M258 215.5h1M259 215.5h1M264 215.5h1M268 215.5h1M259 216.5h1M268 216.5h1M270 216.5h1M227 217.5h1M244 217.5h1M246 217.5h1M251 217.5h1M252 217.5h1M248 218.5h1M257 218.5h1M227 219.5h1M244 219.5h1M245 219.5h1M248 219.5h1M249 219.5h1M255 219.5h1M259 219.5h1M262 219.5h1M251 220.5h1M262 220.5h1M227 221.5h1M230 221.5h1M232 221.5h1M239 221.5h1M241 221.5h1M251 221.5h1M231 222.5h1M235 222.5h1M236 222.5h1M237 222.5h1M238 222.5h1M240 222.5h1M251 222.5h1" stroke="#3a3aff" stroke-opacity="0.42" stroke-width="1"/>
<path d="M275 168.5h1M276 168.5h1M278 168.5h1M272 169.5h1M271 170.5h1M272 170.5h1M274 170.5h1M275 170.5h1M277 170.5h1M278 170.5h1M279 170.5h1M280 170.5h1M282 170.5h1M273 171.5h1M274 171.5h1M275 171.5h1M276 171.5h1M277 171.5h1M279 171.5h1M280 171.5h1M275 172.5h1M276 172.5h1M277 172.5h1M278 172.5h1M279 172.5h1M234 193.5h1M232 194.5h1M233 194.5h1M236 194.5h1M231 195.5h1M232 195.5h1M234 195.5h1M235 195.5h1M236 195.5h1M237 195.5h1M234 196.5h1M236 196.5h1M237 196.5h1M238 196.5h1M230 197.5h1M231 197.5h1M233 197.5h1M234 197.5h1M235 197.5h1M236 197.5h1M230 198.5h1M231 198.5h1M232 198.5h1M233 198.5h1M234 198.5h1M235 198.5h1M236 198.5h1M237 198.5h1M238 198.5h1M239 198.5h1M228 199.5h1M229 199.5h1M238 199.5h1M227 200.5h1M228 200.5h1M229 200.5h1M238 200.5h1M239 200.5h1M240 200.5h1M241 200.5h1M227 201.5h1M239 201.5h1M240 201.5h1M241 201.5h1M243 201.5h1M245 201.5h1M246 201.5h1M248 201.5h1M249 201.5h1M228 202.5h1M240 202.5h1M244 202.5h1M248 202.5h1M250 202.5h1M251 202.5h1M252 202.5h1M253 202.5h1M254 202.5h1M256 202.5h1M226 203.5h1M227 203.5h1M243 203.5h1M245 203.5h1M248 203.5h1M249 203.5h1M252 203.5h1M253 203.5h1M258 203.5h1M226 204.5h1M227 204.5h1M241 204.5h1M244 204.5h1M245 204.5h1M246 204.5h1M247 204.5h1M248 204.5h1M250 204.5h1M251 204.5h1M252 204.5h1M253 204.5h1M254 204.5h1M256 204.5h1M257 204.5h1M260 204.5h1M262 204.5h1M226 205.5h1M243 205.5h1M245 205.5h1M247 205.5h1M250 205.5h1M251 205.5h1M252 205.5h1M255 205.5h1M259 205.5h1M261 205.5h1M263 205.5h1M226 206.5h1M243 206.5h1M244 206.5h1M245 206.5h1M247 206.5h1M248 206.5h1M249 206.5h1M250 206.5h1M252 206.5h1M253 206.5h1M257 206.5h1M258 206.5h1M259 206.5h1M260 206.5h1M226 207.5h1M244 207.5h1M245 207.5h1M246 207.5h1M247 207.5h1M248 207.5h1M249 207.5h1M250 207.5h1M251 207.5h1M252 207.5h1M253 207.5h1M255 207.5h1M256 207.5h1M257 207.5h1M258 207.5h1M260 207.5h1M262 207.5h1M226 208.5h1M245 208.5h1M246 208.5h1M247 208.5h1M248 208.5h1M250 208.5h1M251 208.5h1M253 208.5h1M254 208.5h1M255 208.5h1M260 208.5h1M262 208.5h1M226 209.5h1M245 209.5h1M246 209.5h1M247 209.5h1M248 209.5h1M250 209.5h1M251 209.5h1M252 209.5h1M253 209.5h1M254 209.5h1M255 209.5h1M256 209.5h1M259 209.5h1M260 209.5h1M261 209.5h1M262 209.5h1M264 209.5h1M226 210.5h1M246 210.5h1M247 210.5h1M248 210.5h1M249 210.5h1M250 210.5h1M252 210.5h1M253 210.5h1M254 210.5h1M255 210.5h1M258 210.5h1M259 210.5h1M260 210.5h1M226 211.5h1M244 211.5h1M245 211.5h1M246 211.5h1M248 211.5h1M249 211.5h1M250 211.5h1M251 211.5h1M252 211.5h1M253 211.5h1M254 211.5h1M256 211.5h1M262 211.5h1M243 212.5h1M244 212.5h1M245 212.5h1M247 212.5h1M248 212.5h1M251 212.5h1M252 212.5h1M253 212.5h1M255 212.5h1M257 212.5h1M258 212.5h1M259 212.5h1M226 213.5h1M227 213.5h1M242 213.5h1M243 213.5h1M244 213.5h1M246 213.5h1M247 213.5h1M249 213.5h1M250 213.5h1M251 213.5h1M253 213.5h1M254 213.5h1M255 213.5h1M256 213.5h1M260 213.5h1M227 214.5h1M241 214.5h1M242 214.5h1M244 214.5h1M246 214.5h1M248 214.5h1M249 214.5h1M251 214.5h1M252 214.5h1M253 214.5h1M254 214.5h1M256 214.5h1M257 214.5h1M258 214.5h1M227 215.5h1M228 215.5h1M240 215.5h1M241 215.5h1M242 215.5h1M243 215.5h1M246 215.5h1M250 215.5h1M254 215.5h1M256 215.5h1M227 216.5h1M239 216.5h1M240 216.5h1M246 216.5h1M247 216.5h1M248 216.5h1M249 216.5h1M238 217.5h1M240 217.5h1M229 218.5h1M230 218.5h1M231 218.5h1M236 218.5h1M238 218.5h1M235 219.5h1M236 219.5h1M237 219.5h1M233 220.5h1" stroke="#2e2eff" stroke-opacity="0.75" stroke-width="1"/>
<path d="M232 199.5h1M233 199.5h1M235 199.5h1M236 199.5h1M230 200.5h1M231 200.5h1M236 200.5h1M237 200.5h1M229 201.5h1M230 201.5h1M238 201.5h1M229 202.5h1M239 202.5h1M228 203.5h1M240 203.5h1M240 204.5h1M227 205.5h1M240 205.5h1M241 205.5h1M241 206.5h1M242 206.5h1M242 207.5h1M243 207.5h1M242 208.5h1M243 208.5h1M244 208.5h1M243 209.5h1M244 209.5h1M242 210.5h1M243 210.5h1M244 210.5h1M242 211.5h1M243 211.5h1M227 212.5h1M242 212.5h1M241 213.5h1M240 214.5h1M239 215.5h1M229 216.5h1M238 216.5h1M230 217.5h1M237 217.5h1M234 218.5h1M235 218.5h1" stroke="#0019ff" stroke-width="1"/>
<path d="M234 199.5h1M233 200.5h1M235 200.5h1M237 201.5h1M238 202.5h1M239 203.5h1M228 204.5h1M227 206.5h1M227 207.5h1M241 207.5h1M227 208.5h1M241 208.5h1M241 209.5h1M242 209.5h1M227 210.5h1M241 210.5h1M241 211.5h1M241 212.5h1M240 213.5h1M228 214.5h1M239 214.5h1M231 217.5h1M236 217.5h1M232 218.5h1M233 218.5h1" stroke="#0032ff" stroke-width="1"/>
<path d="M232 200.5h1M234 200.5h1M231 201.5h1M236 201.5h1M237 202.5h1M229 203.5h1M238 203.5h1M239 204.5h1M228 205.5h1M240 206.5h1M240 207.5h1M240 208.5h1M227 209.5h1M240 209.5h1M240 210.5h1M227 211.5h1M240 211.5h1M240 212.5h1M228 213.5h1M239 213.5h1M229 215.5h1M238 215.5h1M230 216.5h1M236 216.5h1M237 216.5h1M232 217.5h1M233 217.5h1M234 217.5h1M235 217.5h1" stroke="#004cff" stroke-width="1"/>
<path d="M232 201.5h1M233 201.5h1M234 201.5h1M235 201.5h1M230 202.5h1M238 204.5h1M239 205.5h1M228 206.5h1M239 206.5h1M228 211.5h1M228 212.5h1M239 212.5h1M229 214.5h1M238 214.5h1M230 215.5h1M237 215.5h1M231 216.5h1" stroke="#0065ff" stroke-width="1"/>
<path d="M231 202.5h1M236 202.5h1M238 205.5h1M228 207.5h1M228 209.5h1M228 210.5h1M239 210.5h1M239 211.5h1M229 213.5h1M238 213.5h1M232 216.5h1M235 216.5h1" stroke="#007fff" stroke-width="1"/>
<path d="M232 202.5h1M230 203.5h1M237 203.5h1M229 204.5h1M239 207.5h1M239 208.5h1M239 209.5h1M231 215.5h1" stroke="#0099ff" stroke-width="1"/>
<path d="M233 202.5h1M234 202.5h1M228 208.5h1M229 212.5h1M237 214.5h1M236 215.5h1M233 216.5h1M234 216.5h1" stroke="#00b2ff" stroke-width="1"/>
<path d="M235 202.5h1M231 203.5h1M230 204.5h1M237 204.5h1M229 205.5h1M238 206.5h1M238 212.5h1M230 214.5h1M232 215.5h1" stroke="#00ccff" stroke-width="1"/>
<path d="M236 203.5h1M229 206.5h1M237 213.5h1" stroke="#00e5ff" stroke-width="1"/>
<path d="M232 203.5h1M238 207.5h1M238 208.5h1M230 213.5h1M236 214.5h1M233 215.5h1M235 215.5h1" stroke="#00ffff" stroke-width="1"/>
<path d="M233 203.5h1M230 205.5h1M229 207.5h1M238 209.5h1M238 210.5h1M238 211.5h1M234 215.5h1" stroke="#19ffe5" stroke-width="1"/>
<path d="M234 203.5h1M235 203.5h1M232 204.5h1M235 204.5h1M236 204.5h1M236 205.5h1M237 205.5h1M229 208.5h1M229 209.5h1M229 210.5h1M229 211.5h1M237 212.5h1M231 214.5h1" stroke="#32ffcc" stroke-width="1"/>
<path d="M231 204.5h1M234 204.5h1M231 205.5h1M230 206.5h1M237 206.5h1M237 207.5h1M237 210.5h1M230 211.5h1M237 211.5h1M230 212.5h1M231 213.5h1M236 213.5h1M232 214.5h1M234 214.5h1M235 214.5h1" stroke="#4cffb2" stroke-width="1"/>
<path d="M230 207.5h1M237 208.5h1M237 209.5h1M233 214.5h1" stroke="#65ff99" stroke-width="1"/>
<path d="M233 204.5h1M233 205.5h1M236 206.5h1M236 207.5h1M230 208.5h1M230 209.5h1M230 210.5h1M231 212.5h1M236 212.5h1M232 213.5h1M235 213.5h1" stroke="#7fff7f" stroke-width="1"/>
<path d="M232 205.5h1M234 205.5h1M231 206.5h1M236 211.5h1M234 213.5h1" stroke="#99ff65" stroke-width="1"/>
<path d="M235 205.5h1M231 210.5h1M236 210.5h1M233 212.5h1M233 213.5h1" stroke="#b2ff4c" stroke-width="1"/>
<path d="M231 208.5h1M236 208.5h1M236 209.5h1M231 211.5h1M232 212.5h1M235 212.5h1" stroke="#cbff33" stroke-width="1"/>
<path d="M232 211.5h1" stroke="#e5ff19" stroke-width="1"/>
<path d="M232 206.5h1M235 206.5h1M235 211.5h1" stroke="#ffff00" stroke-width="1"/>
<path d="M231 207.5h1M235 207.5h1M234 211.5h1M234 212.5h1" stroke="#ffe500" stroke-width="1"/>
<path d="M231 209.5h1M233 211.5h1" stroke="#ffcb00" stroke-width="1"/>
<path d="M232 207.5h1M235 208.5h1M232 210.5h1" stroke="#ffb200" stroke-width="1"/>
<path d="M234 206.5h1M233 207.5h1M232 209.5h1M235 210.5h1" stroke="#ff9900" stroke-width="1"/>
<path d="M233 206.5h1M235 209.5h1" stroke="#ff7f00" stroke-width="1"/>
<path d="M233 210.5h1M234 210.5h1" stroke="#ff6500" stroke-width="1"/>
<path d="M234 207.5h1M232 208.5h1" stroke="#ff4c00" stroke-width="1"/>
<path d="M234 208.5h1" stroke="#ff3300" stroke-width="1"/>
<path d="M233 208.5h1" stroke="#ff1900" stroke-width="1"/>
<path d="M233 209.5h1M234 209.5h1" stroke="#ff0000" stroke-width="1"/>
<rect x="225.5" y="143.4" width="80.5" height="80" fill="none" stroke="#8a8a8a" stroke-width="1"/>
<path d="M225.5 151.4h-1.8M225.5 165h-1.8M225.5 178.6h-1.8M225.5 192.2h-1.8M225.5 205.8h-1.8M225.5 219.4h-1.8M233.5 223.4v1.8M247.2 223.4v1.8M260.9 223.4v1.8M274.6 223.4v1.8M288.3 223.4v1.8M302 223.4v1.8" stroke="#888" stroke-width=".8"/>
<path d="M242.4 143.4L242.4 223.4" stroke="#3a3a3a" stroke-width="1"/>
<path d="M224 187.4L306 187.4" stroke="#3a3a3a" stroke-width="1"/>
<text transform="translate(301.6 154.6) scale(1 1.04)" text-anchor="end" fill="#111" font-size="9.6">1.2</text>
<text transform="translate(302 218.4) scale(1 1.04)" text-anchor="end" fill="#111" font-size="9.6">5.4</text>
<rect x="223.9" y="214.9" width="2" height="2" fill="#000"/>
<rect x="232.5" y="224.2" width="3" height="1.5" fill="#000"/>
<path d="M101 249.5h1M114 249.5h1M81 250.5h1M92 256.5h1M78 257.5h1M95 258.5h1M107 258.5h1M73 259.5h1M76 259.5h1M90 259.5h1M112 259.5h1M76 260.5h1M97 260.5h1M99 260.5h1M100 260.5h1M57 261.5h1M77 261.5h1M104 261.5h1M73 262.5h1M76 262.5h1M92 262.5h1M99 262.5h1M101 262.5h1M104 262.5h1M105 262.5h1M75 263.5h1M83 263.5h1M90 263.5h1M92 263.5h1M97 263.5h1M104 263.5h1M90 264.5h1M94 264.5h1M98 264.5h1M108 264.5h1M96 265.5h1M104 265.5h1M83 266.5h1M97 266.5h1M98 266.5h1M99 266.5h1M101 266.5h1M102 266.5h1M112 266.5h1M76 267.5h1M99 267.5h1M102 267.5h1M68 268.5h1M86 269.5h1M88 269.5h1M98 269.5h1M109 269.5h1M69 270.5h1M117 270.5h1M60 271.5h1M99 273.5h1M97 274.5h1M87 276.5h1M94 276.5h1M108 279.5h1M53 280.5h1M52 281.5h1M58 281.5h1M56 282.5h1M58 282.5h1M55 283.5h1M58 283.5h1M60 283.5h1M48 284.5h1M56 284.5h1M58 284.5h1M62 284.5h1M48 285.5h1M50 285.5h1M55 285.5h1M59 285.5h1M53 286.5h1M55 286.5h1M57 286.5h1M62 286.5h1M52 287.5h1M59 287.5h1M64 287.5h1M52 288.5h1M61 288.5h1M84 288.5h1M63 289.5h1M64 289.5h1M66 289.5h1M68 289.5h1M86 289.5h1M50 290.5h1M62 290.5h1M64 290.5h1M71 290.5h1M81 290.5h1M70 291.5h1M78 291.5h1M64 292.5h1M66 292.5h1M67 292.5h1M79 292.5h1M84 292.5h1M92 292.5h1M49 293.5h1M72 293.5h1M79 293.5h1M87 293.5h1M48 294.5h1M66 294.5h1M67 294.5h1M69 294.5h1M71 294.5h1M74 294.5h1M97 294.5h1M48 295.5h1M70 295.5h1M73 295.5h1M77 295.5h1M84 295.5h1M90 295.5h1M71 296.5h1M72 296.5h1M73 296.5h1M76 296.5h1M79 296.5h1M80 296.5h1M81 296.5h1M86 296.5h1M92 296.5h1M74 297.5h1M75 297.5h1M78 297.5h1M78 298.5h1M83 298.5h1M88 298.5h1M77 299.5h1M78 299.5h1M80 299.5h1M102 299.5h1M77 300.5h1M83 300.5h1M85 300.5h1M77 301.5h1M79 301.5h1M80 301.5h1M81 301.5h1M82 301.5h1M77 302.5h1M79 302.5h1M81 302.5h1M82 302.5h1M87 302.5h1M76 303.5h1M77 303.5h1M80 303.5h1M82 303.5h1M85 303.5h1M95 303.5h1M99 303.5h1M76 304.5h1M77 304.5h1M78 304.5h1M80 304.5h1M81 304.5h1M86 304.5h1M105 304.5h1M73 305.5h1M75 305.5h1M77 305.5h1M80 305.5h1M82 305.5h1M83 305.5h1M86 305.5h1M89 305.5h1M70 306.5h1M72 306.5h1M73 306.5h1M74 306.5h1M48 307.5h1M68 307.5h1M73 307.5h1M75 307.5h1M77 307.5h1M79 307.5h1M83 307.5h1M48 308.5h1M49 308.5h1M70 308.5h1M75 308.5h1M65 309.5h1M66 309.5h1M68 309.5h1M73 309.5h1M76 309.5h1M77 309.5h1M87 309.5h1M49 310.5h1M50 310.5h1M66 310.5h1M68 310.5h1M51 311.5h1M62 311.5h1M63 311.5h1M73 311.5h1M74 311.5h1M60 312.5h1M62 312.5h1M83 312.5h1M92 312.5h1M53 313.5h1M54 313.5h1M55 313.5h1M56 313.5h1M57 313.5h1M58 313.5h1M60 313.5h1M61 313.5h1M63 313.5h1M52 314.5h1M64 314.5h1M73 314.5h1M53 315.5h1M54 315.5h1" stroke="#3a3aff" stroke-opacity="0.42" stroke-width="1"/>
<path d="M99 263.5h1M101 263.5h1M103 264.5h1M56 287.5h1M52 289.5h1M58 289.5h1M53 290.5h1M54 290.5h1M55 290.5h1M60 290.5h1M52 291.5h1M54 291.5h1M55 291.5h1M56 291.5h1M57 291.5h1M59 291.5h1M61 291.5h1M51 292.5h1M52 292.5h1M53 292.5h1M59 292.5h1M60 292.5h1M62 292.5h1M60 293.5h1M61 293.5h1M62 293.5h1M49 294.5h1M50 294.5h1M51 294.5h1M61 294.5h1M63 294.5h1M64 294.5h1M49 295.5h1M50 295.5h1M62 295.5h1M63 295.5h1M64 295.5h1M65 295.5h1M66 295.5h1M49 296.5h1M63 296.5h1M64 296.5h1M65 296.5h1M66 296.5h1M70 296.5h1M48 297.5h1M49 297.5h1M63 297.5h1M65 297.5h1M68 297.5h1M70 297.5h1M72 297.5h1M49 298.5h1M65 298.5h1M66 298.5h1M67 298.5h1M68 298.5h1M70 298.5h1M73 298.5h1M74 298.5h1M64 299.5h1M66 299.5h1M67 299.5h1M68 299.5h1M69 299.5h1M72 299.5h1M73 299.5h1M74 299.5h1M76 299.5h1M64 300.5h1M66 300.5h1M67 300.5h1M68 300.5h1M69 300.5h1M70 300.5h1M48 301.5h1M64 301.5h1M65 301.5h1M66 301.5h1M67 301.5h1M68 301.5h1M71 301.5h1M73 301.5h1M74 301.5h1M75 301.5h1M76 301.5h1M64 302.5h1M67 302.5h1M75 302.5h1M76 302.5h1M64 303.5h1M65 303.5h1M66 303.5h1M67 303.5h1M69 303.5h1M72 303.5h1M74 303.5h1M75 303.5h1M64 304.5h1M66 304.5h1M67 304.5h1M68 304.5h1M69 304.5h1M48 305.5h1M49 305.5h1M63 305.5h1M64 305.5h1M65 305.5h1M66 305.5h1M70 305.5h1M71 305.5h1M49 306.5h1M62 306.5h1M63 306.5h1M64 306.5h1M65 306.5h1M69 306.5h1M49 307.5h1M62 307.5h1M66 307.5h1M50 308.5h1M51 308.5h1M62 308.5h1M63 308.5h1M64 308.5h1M51 309.5h1M52 309.5h1M60 309.5h1M61 309.5h1M51 310.5h1M53 310.5h1M58 310.5h1M59 310.5h1M60 310.5h1M52 311.5h1M56 311.5h1M57 311.5h1M58 311.5h1M59 311.5h1M60 311.5h1M53 312.5h1M57 312.5h1" stroke="#2e2eff" stroke-opacity="0.75" stroke-width="1"/>
<path d="M54 292.5h1M56 292.5h1M57 292.5h1M58 292.5h1M52 293.5h1M59 293.5h1M60 294.5h1M51 295.5h1M61 295.5h1M50 296.5h1M62 296.5h1M62 297.5h1M63 298.5h1M49 299.5h1M63 299.5h1M49 300.5h1M49 301.5h1M63 301.5h1M49 302.5h1M63 302.5h1M49 303.5h1M63 303.5h1M63 304.5h1M50 306.5h1M51 307.5h1M61 307.5h1M60 308.5h1M59 309.5h1M54 310.5h1M55 310.5h1M56 310.5h1M57 310.5h1" stroke="#0019ff" stroke-width="1"/>
<path d="M55 292.5h1M53 293.5h1M52 294.5h1M61 296.5h1M50 297.5h1M62 298.5h1M62 299.5h1M63 300.5h1M62 302.5h1M50 304.5h1M62 304.5h1M50 305.5h1M62 305.5h1M61 306.5h1M60 307.5h1M52 308.5h1M53 309.5h1M54 309.5h1M58 309.5h1" stroke="#0032ff" stroke-width="1"/>
<path d="M54 293.5h1M55 293.5h1M56 293.5h1M57 293.5h1M58 293.5h1M59 294.5h1M52 295.5h1M60 295.5h1M51 296.5h1M61 297.5h1M50 298.5h1M61 298.5h1M62 300.5h1M62 301.5h1M50 303.5h1M62 303.5h1M61 305.5h1M52 307.5h1M53 308.5h1M59 308.5h1M55 309.5h1M56 309.5h1M57 309.5h1" stroke="#004cff" stroke-width="1"/>
<path d="M53 294.5h1M54 294.5h1M58 294.5h1M59 295.5h1M60 296.5h1M51 297.5h1M50 299.5h1M61 299.5h1M50 300.5h1M50 302.5h1M61 303.5h1M61 304.5h1M51 306.5h1M60 306.5h1M59 307.5h1M56 308.5h1M57 308.5h1M58 308.5h1" stroke="#0065ff" stroke-width="1"/>
<path d="M55 294.5h1M56 294.5h1M57 294.5h1M50 301.5h1M61 301.5h1M61 302.5h1M51 305.5h1M60 305.5h1M53 307.5h1M54 308.5h1M55 308.5h1" stroke="#007fff" stroke-width="1"/>
<path d="M53 295.5h1M58 295.5h1M52 296.5h1M60 297.5h1M60 298.5h1M61 300.5h1M51 304.5h1M52 306.5h1" stroke="#0099ff" stroke-width="1"/>
<path d="M59 296.5h1M51 298.5h1" stroke="#00b2ff" stroke-width="1"/>
<path d="M57 295.5h1M60 304.5h1M59 306.5h1M57 307.5h1M58 307.5h1" stroke="#00ccff" stroke-width="1"/>
<path d="M54 295.5h1M55 295.5h1M56 295.5h1M52 297.5h1M51 299.5h1M51 300.5h1M60 300.5h1M51 301.5h1M51 302.5h1M51 303.5h1M60 303.5h1" stroke="#00e5ff" stroke-width="1"/>
<path d="M53 296.5h1M58 296.5h1M59 297.5h1M60 299.5h1M60 301.5h1M60 302.5h1M52 305.5h1M54 307.5h1" stroke="#00ffff" stroke-width="1"/>
<path d="M52 298.5h1M59 305.5h1M53 306.5h1M58 306.5h1M55 307.5h1M56 307.5h1" stroke="#19ffe5" stroke-width="1"/>
<path d="M57 296.5h1M53 297.5h1M59 298.5h1M54 306.5h1" stroke="#32ffcc" stroke-width="1"/>
<path d="M54 296.5h1M55 296.5h1M58 297.5h1M52 299.5h1M59 299.5h1M52 303.5h1M52 304.5h1M59 304.5h1M53 305.5h1M58 305.5h1M56 306.5h1M57 306.5h1" stroke="#4cffb2" stroke-width="1"/>
<path d="M56 296.5h1M54 297.5h1M57 297.5h1M53 298.5h1M52 300.5h1M59 300.5h1M52 301.5h1M59 301.5h1M52 302.5h1M59 302.5h1M59 303.5h1M53 304.5h1M58 304.5h1M55 306.5h1" stroke="#65ff99" stroke-width="1"/>
<path d="M55 297.5h1M56 297.5h1M54 298.5h1M58 298.5h1M54 304.5h1M54 305.5h1M57 305.5h1" stroke="#7fff7f" stroke-width="1"/>
<path d="M58 299.5h1M53 302.5h1M53 303.5h1M58 303.5h1M55 305.5h1" stroke="#99ff65" stroke-width="1"/>
<path d="M57 298.5h1M53 301.5h1M56 305.5h1" stroke="#b2ff4c" stroke-width="1"/>
<path d="M56 298.5h1M57 299.5h1M53 300.5h1M58 301.5h1M57 304.5h1" stroke="#cbff33" stroke-width="1"/>
<path d="M53 299.5h1M58 300.5h1M58 302.5h1" stroke="#e5ff19" stroke-width="1"/>
<path d="M54 303.5h1M55 304.5h1M56 304.5h1" stroke="#ffff00" stroke-width="1"/>
<path d="M55 298.5h1M56 303.5h1" stroke="#ffe500" stroke-width="1"/>
<path d="M54 299.5h1M57 302.5h1M57 303.5h1" stroke="#ffcb00" stroke-width="1"/>
<path d="M55 301.5h1M57 301.5h1M54 302.5h1" stroke="#ffb200" stroke-width="1"/>
<path d="M56 299.5h1" stroke="#ff9900" stroke-width="1"/>
<path d="M54 300.5h1M56 300.5h1M57 300.5h1" stroke="#ff7f00" stroke-width="1"/>
<path d="M54 301.5h1M55 303.5h1" stroke="#ff4c00" stroke-width="1"/>
<path d="M55 302.5h1" stroke="#ff3300" stroke-width="1"/>
<path d="M55 299.5h1M55 300.5h1M56 301.5h1M56 302.5h1" stroke="#ff0000" stroke-width="1"/>
<rect x="47.5" y="236.4" width="80" height="80" fill="none" stroke="#8a8a8a" stroke-width="1"/>
<path d="M47.5 244.4h-1.8M47.5 258h-1.8M47.5 271.6h-1.8M47.5 285.2h-1.8M47.5 298.8h-1.8M47.5 312.4h-1.8M55.5 316.4v1.8M69.1 316.4v1.8M82.7 316.4v1.8M96.3 316.4v1.8M109.9 316.4v1.8M123.5 316.4v1.8" stroke="#888" stroke-width=".8"/>
<path d="M63.6 236.4L63.6 316.4" stroke="#3a3a3a" stroke-width="1"/>
<path d="M46 280.4L127.5 280.4" stroke="#3a3a3a" stroke-width="1"/>
<text transform="translate(123.1 247.6) scale(1 1.04)" text-anchor="end" fill="#111" font-size="9.6">0.8</text>
<text transform="translate(123.5 311.4) scale(1 1.04)" text-anchor="end" fill="#111" font-size="9.6">4.5</text>
<rect x="45.9" y="307.9" width="2" height="2" fill="#000"/>
<rect x="54.5" y="317.2" width="3" height="1.5" fill="#000"/>
<path d="M181 254.5h1M188 254.5h1M190 254.5h1M180 255.5h1M193 257.5h1M166 258.5h1M157 259.5h1M158 261.5h1M168 261.5h1M185 261.5h1M191 261.5h1M170 262.5h1M176 262.5h1M185 262.5h1M187 262.5h1M189 262.5h1M192 262.5h1M196 262.5h1M186 263.5h1M193 263.5h1M169 264.5h1M176 264.5h1M179 264.5h1M181 264.5h1M186 264.5h1M187 264.5h1M194 264.5h1M193 265.5h1M196 265.5h1M176 266.5h1M188 266.5h1M189 266.5h1M193 266.5h1M161 267.5h1M162 267.5h1M169 267.5h1M175 267.5h1M184 267.5h1M185 267.5h1M192 267.5h1M192 268.5h1M194 268.5h1M154 269.5h1M173 269.5h1M175 269.5h1M182 269.5h1M185 269.5h1M190 269.5h1M192 269.5h1M202 269.5h1M180 270.5h1M168 271.5h1M171 272.5h1M184 272.5h1M175 273.5h1M176 275.5h1M191 276.5h1M144 277.5h1M202 277.5h1M147 278.5h1M149 280.5h1M148 281.5h1M167 281.5h1M145 282.5h1M143 283.5h1M146 283.5h1M151 283.5h1M156 283.5h1M143 284.5h1M145 284.5h1M146 284.5h1M151 284.5h1M145 285.5h1M146 285.5h1M150 285.5h1M142 286.5h1M144 286.5h1M151 286.5h1M163 286.5h1M138 287.5h1M142 287.5h1M143 287.5h1M147 287.5h1M148 287.5h1M149 288.5h1M150 289.5h1M151 289.5h1M152 289.5h1M138 290.5h1M152 290.5h1M158 290.5h1M160 290.5h1M137 291.5h1M151 291.5h1M152 291.5h1M153 291.5h1M154 291.5h1M158 291.5h1M162 291.5h1M163 291.5h1M152 292.5h1M155 292.5h1M156 292.5h1M157 292.5h1M163 292.5h1M171 292.5h1M174 292.5h1M176 292.5h1M154 293.5h1M158 293.5h1M162 293.5h1M163 293.5h1M164 293.5h1M137 294.5h1M155 294.5h1M163 294.5h1M174 294.5h1M179 294.5h1M137 295.5h1M160 295.5h1M161 295.5h1M162 295.5h1M167 295.5h1M175 295.5h1M181 295.5h1M160 296.5h1M161 296.5h1M166 296.5h1M170 296.5h1M174 296.5h1M163 297.5h1M164 297.5h1M170 297.5h1M173 297.5h1M187 297.5h1M167 298.5h1M169 298.5h1M179 298.5h1M180 298.5h1M169 299.5h1M175 299.5h1M177 299.5h1M178 299.5h1M173 300.5h1M174 300.5h1M177 300.5h1M185 300.5h1M172 301.5h1M174 301.5h1M166 302.5h1M168 302.5h1M170 302.5h1M171 302.5h1M179 302.5h1M187 302.5h1M188 302.5h1M165 303.5h1M168 303.5h1M169 303.5h1M176 303.5h1M172 304.5h1M174 304.5h1M163 305.5h1M164 305.5h1M168 305.5h1M172 305.5h1M183 305.5h1M159 306.5h1M160 306.5h1M164 306.5h1M173 306.5h1M181 306.5h1M182 306.5h1M156 307.5h1M159 307.5h1M160 307.5h1M161 307.5h1M167 307.5h1M181 307.5h1M137 308.5h1M138 308.5h1M155 308.5h1M156 308.5h1M157 308.5h1M164 308.5h1M167 308.5h1M168 308.5h1M172 308.5h1M173 308.5h1M174 308.5h1M159 309.5h1M164 309.5h1M176 309.5h1M157 310.5h1M163 310.5h1M169 310.5h1M140 311.5h1M151 311.5h1M153 311.5h1M140 312.5h1M150 312.5h1M156 312.5h1M163 312.5h1M138 313.5h1M142 313.5h1M148 313.5h1M149 313.5h1M141 314.5h1M142 314.5h1M144 314.5h1M148 314.5h1M149 314.5h1M154 314.5h1M160 314.5h1M143 315.5h1M148 315.5h1" stroke="#3a3aff" stroke-opacity="0.42" stroke-width="1"/>
<path d="M192 263.5h1M190 264.5h1M191 264.5h1M190 265.5h1M145 287.5h1M142 288.5h1M145 288.5h1M141 289.5h1M144 289.5h1M145 289.5h1M142 290.5h1M143 290.5h1M148 290.5h1M142 291.5h1M143 291.5h1M144 291.5h1M145 291.5h1M146 291.5h1M147 291.5h1M148 291.5h1M141 292.5h1M142 292.5h1M148 292.5h1M149 292.5h1M150 292.5h1M150 293.5h1M151 293.5h1M153 293.5h1M150 294.5h1M152 294.5h1M153 294.5h1M154 294.5h1M139 295.5h1M151 295.5h1M152 295.5h1M153 295.5h1M156 295.5h1M157 295.5h1M153 296.5h1M154 296.5h1M156 296.5h1M157 296.5h1M138 297.5h1M152 297.5h1M153 297.5h1M156 297.5h1M161 297.5h1M162 297.5h1M138 298.5h1M154 298.5h1M156 298.5h1M157 298.5h1M159 298.5h1M161 298.5h1M163 298.5h1M137 299.5h1M153 299.5h1M154 299.5h1M156 299.5h1M157 299.5h1M158 299.5h1M153 300.5h1M155 300.5h1M159 300.5h1M160 300.5h1M163 300.5h1M165 300.5h1M153 301.5h1M154 301.5h1M155 301.5h1M156 301.5h1M157 301.5h1M159 301.5h1M160 301.5h1M162 301.5h1M153 302.5h1M154 302.5h1M156 302.5h1M159 302.5h1M160 302.5h1M161 302.5h1M162 302.5h1M165 302.5h1M137 303.5h1M153 303.5h1M154 303.5h1M159 303.5h1M160 303.5h1M161 303.5h1M162 303.5h1M137 304.5h1M138 304.5h1M155 304.5h1M156 304.5h1M157 304.5h1M161 304.5h1M152 305.5h1M154 305.5h1M155 305.5h1M156 305.5h1M157 305.5h1M160 305.5h1M161 305.5h1M138 306.5h1M151 306.5h1M152 306.5h1M153 306.5h1M158 306.5h1M139 307.5h1M151 307.5h1M152 307.5h1M139 308.5h1M150 308.5h1M151 308.5h1M141 309.5h1M151 309.5h1M140 310.5h1M141 310.5h1M142 310.5h1M147 310.5h1M148 310.5h1M141 311.5h1M143 311.5h1M144 311.5h1M145 311.5h1" stroke="#2e2eff" stroke-opacity="0.75" stroke-width="1"/>
<path d="M147 292.5h1M141 293.5h1M150 295.5h1M139 296.5h1M151 296.5h1M139 297.5h1M152 298.5h1M138 299.5h1M152 299.5h1M138 300.5h1M152 300.5h1M152 301.5h1M138 302.5h1M152 302.5h1M138 303.5h1M152 303.5h1M152 304.5h1M151 305.5h1M150 307.5h1M149 308.5h1M148 309.5h1M143 310.5h1M144 310.5h1M145 310.5h1M146 310.5h1" stroke="#0019ff" stroke-width="1"/>
<path d="M143 292.5h1M144 292.5h1M145 292.5h1M146 292.5h1M142 293.5h1M143 293.5h1M147 293.5h1M148 293.5h1M141 294.5h1M148 294.5h1M149 294.5h1M140 295.5h1M149 295.5h1M150 297.5h1M151 297.5h1M139 298.5h1M151 298.5h1M151 299.5h1M151 300.5h1M138 301.5h1M139 304.5h1M151 304.5h1M139 305.5h1M139 306.5h1M150 306.5h1M140 307.5h1M141 308.5h1M142 309.5h1M147 309.5h1" stroke="#0032ff" stroke-width="1"/>
<path d="M144 293.5h1M146 293.5h1M142 294.5h1M140 296.5h1M150 296.5h1M139 299.5h1M151 301.5h1M151 302.5h1M139 303.5h1M151 303.5h1M150 305.5h1M140 306.5h1M141 307.5h1M149 307.5h1M148 308.5h1M143 309.5h1M144 309.5h1M145 309.5h1M146 309.5h1" stroke="#004cff" stroke-width="1"/>
<path d="M145 293.5h1M143 294.5h1M146 294.5h1M147 294.5h1M141 295.5h1M148 295.5h1M149 296.5h1M150 298.5h1M139 300.5h1M139 301.5h1M139 302.5h1M150 303.5h1M150 304.5h1M140 305.5h1M149 306.5h1M142 308.5h1M143 308.5h1M144 308.5h1M147 308.5h1" stroke="#0065ff" stroke-width="1"/>
<path d="M144 294.5h1M145 294.5h1M142 295.5h1M147 295.5h1M140 297.5h1M150 299.5h1M150 300.5h1M150 301.5h1M149 305.5h1M148 307.5h1M146 308.5h1" stroke="#007fff" stroke-width="1"/>
<path d="M149 297.5h1M140 304.5h1M141 306.5h1M142 307.5h1M145 308.5h1" stroke="#0099ff" stroke-width="1"/>
<path d="M141 296.5h1M140 298.5h1M149 298.5h1M150 302.5h1M148 306.5h1M147 307.5h1" stroke="#00b2ff" stroke-width="1"/>
<path d="M148 296.5h1M148 297.5h1M140 302.5h1M140 303.5h1M143 307.5h1" stroke="#00ccff" stroke-width="1"/>
<path d="M143 295.5h1M146 295.5h1M142 296.5h1M147 296.5h1M141 297.5h1M140 299.5h1M149 299.5h1M140 301.5h1M149 303.5h1M149 304.5h1M145 307.5h1" stroke="#00e5ff" stroke-width="1"/>
<path d="M145 295.5h1M140 300.5h1M141 305.5h1M147 306.5h1M146 307.5h1" stroke="#00ffff" stroke-width="1"/>
<path d="M144 295.5h1M149 300.5h1M149 301.5h1M149 302.5h1M148 305.5h1M142 306.5h1" stroke="#19ffe5" stroke-width="1"/>
<path d="M141 298.5h1M148 298.5h1M141 299.5h1M148 299.5h1M141 303.5h1M141 304.5h1M144 307.5h1" stroke="#32ffcc" stroke-width="1"/>
<path d="M143 296.5h1M145 296.5h1M146 296.5h1M142 297.5h1M147 297.5h1M148 300.5h1M148 303.5h1M148 304.5h1M142 305.5h1M147 305.5h1M143 306.5h1M144 306.5h1M145 306.5h1M146 306.5h1" stroke="#4cffb2" stroke-width="1"/>
<path d="M144 296.5h1M143 297.5h1M142 298.5h1M147 298.5h1M141 300.5h1M141 301.5h1M148 301.5h1M141 302.5h1M148 302.5h1M144 305.5h1" stroke="#65ff99" stroke-width="1"/>
<path d="M144 297.5h1M145 297.5h1M146 297.5h1M143 305.5h1M145 305.5h1M146 305.5h1" stroke="#7fff7f" stroke-width="1"/>
<path d="M146 298.5h1M142 304.5h1M146 304.5h1M147 304.5h1" stroke="#99ff65" stroke-width="1"/>
<path d="M144 298.5h1M142 299.5h1M147 299.5h1M143 304.5h1" stroke="#b2ff4c" stroke-width="1"/>
<path d="M143 298.5h1M147 300.5h1M142 303.5h1M144 304.5h1" stroke="#cbff33" stroke-width="1"/>
<path d="M142 302.5h1M143 302.5h1M147 302.5h1" stroke="#e5ff19" stroke-width="1"/>
<path d="M145 298.5h1M145 299.5h1M142 300.5h1M147 303.5h1" stroke="#ffff00" stroke-width="1"/>
<path d="M143 299.5h1M142 301.5h1M146 303.5h1M145 304.5h1" stroke="#ffe500" stroke-width="1"/>
<path d="M144 299.5h1M146 299.5h1M143 300.5h1M146 300.5h1M146 301.5h1M145 303.5h1" stroke="#ffcb00" stroke-width="1"/>
<path d="M146 302.5h1" stroke="#ffb200" stroke-width="1"/>
<path d="M143 303.5h1" stroke="#ff9900" stroke-width="1"/>
<path d="M143 301.5h1M147 301.5h1M144 303.5h1" stroke="#ff7f00" stroke-width="1"/>
<path d="M144 300.5h1" stroke="#ff6500" stroke-width="1"/>
<path d="M145 301.5h1M144 302.5h1" stroke="#ff3300" stroke-width="1"/>
<path d="M144 301.5h1" stroke="#ff1900" stroke-width="1"/>
<path d="M145 300.5h1M145 302.5h1" stroke="#ff0000" stroke-width="1"/>
<rect x="136.5" y="236.4" width="81" height="80" fill="none" stroke="#8a8a8a" stroke-width="1"/>
<path d="M136.5 244.4h-1.8M136.5 258h-1.8M136.5 271.6h-1.8M136.5 285.2h-1.8M136.5 298.8h-1.8M136.5 312.4h-1.8M144.5 316.4v1.8M158.3 316.4v1.8M172.1 316.4v1.8M185.9 316.4v1.8M199.7 316.4v1.8M213.5 316.4v1.8" stroke="#888" stroke-width=".8"/>
<path d="M152.6 236.4L152.6 316.4" stroke="#3a3a3a" stroke-width="1"/>
<path d="M135 280.4L217.5 280.4" stroke="#3a3a3a" stroke-width="1"/>
<text transform="translate(213.1 247.6) scale(1 1.04)" text-anchor="end" fill="#111" font-size="9.6">1.2</text>
<text transform="translate(213.5 311.4) scale(1 1.04)" text-anchor="end" fill="#111" font-size="9.6">5.6</text>
<rect x="134.9" y="307.9" width="2" height="2" fill="#000"/>
<rect x="143.5" y="317.2" width="3" height="1.5" fill="#000"/>
<path d="M293 250.5h1M270 252.5h1M283 253.5h1M258 255.5h1M270 255.5h1M274 255.5h1M275 255.5h1M302 255.5h1M255 256.5h1M259 256.5h1M270 257.5h1M286 257.5h1M273 258.5h1M279 258.5h1M246 259.5h1M252 259.5h1M259 259.5h1M274 259.5h1M291 259.5h1M263 260.5h1M265 260.5h1M279 260.5h1M283 260.5h1M256 261.5h1M264 261.5h1M279 261.5h1M280 261.5h1M280 262.5h1M282 262.5h1M284 262.5h1M273 263.5h1M275 263.5h1M260 264.5h1M272 264.5h1M275 264.5h1M283 264.5h1M284 264.5h1M273 265.5h1M274 265.5h1M274 266.5h1M276 266.5h1M279 266.5h1M280 266.5h1M283 267.5h1M253 268.5h1M260 268.5h1M261 268.5h1M253 269.5h1M263 269.5h1M264 269.5h1M288 275.5h1M268 276.5h1M227 277.5h1M230 279.5h1M231 279.5h1M275 279.5h1M287 279.5h1M230 282.5h1M235 282.5h1M232 283.5h1M235 283.5h1M228 284.5h1M229 284.5h1M231 284.5h1M232 284.5h1M237 284.5h1M230 285.5h1M231 285.5h1M234 285.5h1M229 286.5h1M234 286.5h1M237 286.5h1M238 286.5h1M231 287.5h1M236 287.5h1M237 287.5h1M239 287.5h1M240 287.5h1M229 288.5h1M237 288.5h1M239 288.5h1M240 288.5h1M261 288.5h1M262 288.5h1M229 289.5h1M247 289.5h1M251 289.5h1M262 289.5h1M240 290.5h1M246 290.5h1M248 290.5h1M258 290.5h1M274 290.5h1M227 291.5h1M228 291.5h1M240 291.5h1M241 291.5h1M245 291.5h1M249 291.5h1M251 291.5h1M253 291.5h1M267 291.5h1M242 292.5h1M244 292.5h1M246 292.5h1M248 292.5h1M256 292.5h1M226 293.5h1M243 293.5h1M245 293.5h1M247 293.5h1M251 293.5h1M248 294.5h1M250 294.5h1M253 294.5h1M274 294.5h1M226 295.5h1M247 295.5h1M249 295.5h1M251 295.5h1M253 295.5h1M255 295.5h1M258 295.5h1M261 295.5h1M274 295.5h1M226 296.5h1M249 296.5h1M250 296.5h1M251 296.5h1M253 296.5h1M252 297.5h1M254 297.5h1M255 297.5h1M256 297.5h1M258 297.5h1M266 297.5h1M254 298.5h1M262 298.5h1M255 299.5h1M257 299.5h1M258 299.5h1M262 299.5h1M283 299.5h1M256 300.5h1M259 300.5h1M261 300.5h1M262 300.5h1M264 300.5h1M266 300.5h1M256 301.5h1M257 301.5h1M266 301.5h1M257 302.5h1M260 302.5h1M261 302.5h1M267 302.5h1M254 303.5h1M256 303.5h1M257 303.5h1M266 303.5h1M271 303.5h1M279 303.5h1M253 304.5h1M255 304.5h1M256 304.5h1M258 304.5h1M259 304.5h1M263 304.5h1M251 305.5h1M254 305.5h1M259 305.5h1M250 306.5h1M252 306.5h1M253 306.5h1M254 306.5h1M256 306.5h1M260 306.5h1M246 307.5h1M247 307.5h1M248 307.5h1M250 307.5h1M251 307.5h1M263 307.5h1M279 307.5h1M245 308.5h1M247 308.5h1M248 308.5h1M250 308.5h1M251 308.5h1M252 308.5h1M256 308.5h1M242 309.5h1M243 309.5h1M244 309.5h1M254 309.5h1M262 309.5h1M240 310.5h1M242 310.5h1M244 310.5h1M258 310.5h1M229 311.5h1M242 311.5h1M246 311.5h1M250 311.5h1M228 312.5h1M230 312.5h1M238 312.5h1M252 312.5h1M253 312.5h1M267 312.5h1M229 313.5h1M230 313.5h1M233 313.5h1M242 313.5h1M251 313.5h1M228 315.5h1M230 315.5h1M232 315.5h1M235 315.5h1" stroke="#3a3aff" stroke-opacity="0.42" stroke-width="1"/>
<path d="M279 263.5h1M277 264.5h1M278 264.5h1M279 264.5h1M279 265.5h1M232 288.5h1M235 288.5h1M236 288.5h1M231 289.5h1M233 289.5h1M237 289.5h1M238 289.5h1M232 290.5h1M233 290.5h1M234 290.5h1M235 290.5h1M238 290.5h1M231 291.5h1M232 291.5h1M233 291.5h1M234 291.5h1M235 291.5h1M236 291.5h1M237 291.5h1M238 291.5h1M228 292.5h1M230 292.5h1M231 292.5h1M237 292.5h1M238 292.5h1M239 292.5h1M240 292.5h1M228 293.5h1M238 293.5h1M239 293.5h1M240 293.5h1M242 293.5h1M227 294.5h1M229 294.5h1M239 294.5h1M240 294.5h1M241 294.5h1M243 294.5h1M227 295.5h1M228 295.5h1M240 295.5h1M241 295.5h1M242 295.5h1M245 295.5h1M241 296.5h1M242 296.5h1M246 296.5h1M247 296.5h1M241 297.5h1M242 297.5h1M244 297.5h1M245 297.5h1M227 298.5h1M242 298.5h1M243 298.5h1M244 298.5h1M245 298.5h1M247 298.5h1M249 298.5h1M250 298.5h1M251 298.5h1M242 299.5h1M243 299.5h1M245 299.5h1M250 299.5h1M226 300.5h1M242 300.5h1M243 300.5h1M244 300.5h1M245 300.5h1M226 301.5h1M242 301.5h1M243 301.5h1M245 301.5h1M248 301.5h1M254 301.5h1M226 302.5h1M242 302.5h1M244 302.5h1M245 302.5h1M246 302.5h1M248 302.5h1M249 302.5h1M250 302.5h1M252 302.5h1M253 302.5h1M254 302.5h1M242 303.5h1M243 303.5h1M245 303.5h1M246 303.5h1M247 303.5h1M250 303.5h1M251 303.5h1M253 303.5h1M227 304.5h1M242 304.5h1M243 304.5h1M244 304.5h1M246 304.5h1M248 304.5h1M251 304.5h1M227 305.5h1M241 305.5h1M242 305.5h1M246 305.5h1M247 305.5h1M249 305.5h1M250 305.5h1M240 306.5h1M241 306.5h1M242 306.5h1M244 306.5h1M245 306.5h1M227 307.5h1M240 307.5h1M241 307.5h1M229 308.5h1M239 308.5h1M229 309.5h1M230 309.5h1M239 309.5h1M240 309.5h1M230 310.5h1M231 310.5h1M236 310.5h1M237 310.5h1M239 310.5h1M232 311.5h1M233 311.5h1M234 311.5h1M235 311.5h1M236 311.5h1M237 311.5h1M238 311.5h1M231 312.5h1M233 312.5h1M236 312.5h1" stroke="#2e2eff" stroke-opacity="0.75" stroke-width="1"/>
<path d="M234 292.5h1M235 292.5h1M236 292.5h1M230 293.5h1M237 293.5h1M230 294.5h1M238 294.5h1M239 295.5h1M228 296.5h1M240 296.5h1M228 297.5h1M241 298.5h1M227 299.5h1M241 299.5h1M227 300.5h1M241 300.5h1M227 301.5h1M241 301.5h1M227 302.5h1M241 302.5h1M227 303.5h1M241 303.5h1M241 304.5h1M240 305.5h1M228 306.5h1M239 307.5h1M238 308.5h1M237 309.5h1M232 310.5h1M233 310.5h1M234 310.5h1M235 310.5h1" stroke="#0019ff" stroke-width="1"/>
<path d="M232 292.5h1M233 292.5h1M231 293.5h1M232 293.5h1M236 293.5h1M229 295.5h1M238 295.5h1M239 296.5h1M240 297.5h1M240 298.5h1M240 300.5h1M240 302.5h1M240 303.5h1M240 304.5h1M228 305.5h1M239 306.5h1M229 307.5h1M230 308.5h1M236 309.5h1" stroke="#0032ff" stroke-width="1"/>
<path d="M233 293.5h1M235 293.5h1M231 294.5h1M237 294.5h1M229 296.5h1M239 297.5h1M228 298.5h1M228 299.5h1M240 299.5h1M240 301.5h1M228 302.5h1M228 304.5h1M229 306.5h1M230 307.5h1M238 307.5h1M237 308.5h1M231 309.5h1M232 309.5h1M233 309.5h1M234 309.5h1M235 309.5h1" stroke="#004cff" stroke-width="1"/>
<path d="M234 293.5h1M233 294.5h1M236 294.5h1M230 295.5h1M237 295.5h1M238 296.5h1M229 297.5h1M238 297.5h1M239 298.5h1M239 299.5h1M228 300.5h1M228 301.5h1M228 303.5h1M239 303.5h1M239 304.5h1M229 305.5h1M239 305.5h1M238 306.5h1M237 307.5h1M231 308.5h1M236 308.5h1" stroke="#0065ff" stroke-width="1"/>
<path d="M232 294.5h1M234 294.5h1M235 294.5h1M236 295.5h1M230 296.5h1M239 300.5h1M239 301.5h1M239 302.5h1M232 308.5h1M233 308.5h1M234 308.5h1M235 308.5h1" stroke="#007fff" stroke-width="1"/>
<path d="M231 295.5h1M229 298.5h1M229 304.5h1M238 305.5h1M230 306.5h1M231 307.5h1" stroke="#0099ff" stroke-width="1"/>
<path d="M237 296.5h1M238 298.5h1M236 307.5h1" stroke="#00b2ff" stroke-width="1"/>
<path d="M235 295.5h1M229 299.5h1" stroke="#00ccff" stroke-width="1"/>
<path d="M232 295.5h1M233 295.5h1M230 297.5h1M238 299.5h1M229 301.5h1M229 303.5h1M238 303.5h1M238 304.5h1M231 306.5h1M237 306.5h1M232 307.5h1M234 307.5h1" stroke="#00e5ff" stroke-width="1"/>
<path d="M231 296.5h1M237 297.5h1M229 300.5h1M238 300.5h1M238 302.5h1M233 307.5h1M235 307.5h1" stroke="#00ffff" stroke-width="1"/>
<path d="M234 295.5h1M236 296.5h1M229 302.5h1M230 305.5h1M236 306.5h1" stroke="#19ffe5" stroke-width="1"/>
<path d="M232 296.5h1M233 296.5h1M235 296.5h1M231 297.5h1M230 298.5h1M237 298.5h1M238 301.5h1M230 304.5h1M237 304.5h1M237 305.5h1M235 306.5h1" stroke="#32ffcc" stroke-width="1"/>
<path d="M234 296.5h1M236 297.5h1M230 299.5h1M237 299.5h1M231 305.5h1M232 306.5h1M233 306.5h1" stroke="#4cffb2" stroke-width="1"/>
<path d="M232 297.5h1M235 297.5h1M230 300.5h1M237 300.5h1M230 301.5h1M230 302.5h1M230 303.5h1M237 303.5h1M231 304.5h1M236 304.5h1M236 305.5h1M234 306.5h1" stroke="#65ff99" stroke-width="1"/>
<path d="M233 297.5h1M231 298.5h1M236 298.5h1M237 301.5h1M237 302.5h1M232 305.5h1M233 305.5h1M234 305.5h1M235 305.5h1" stroke="#7fff7f" stroke-width="1"/>
<path d="M235 298.5h1M231 299.5h1M232 299.5h1M236 299.5h1M231 303.5h1M236 303.5h1" stroke="#99ff65" stroke-width="1"/>
<path d="M232 298.5h1M233 298.5h1M231 301.5h1M231 302.5h1M232 304.5h1" stroke="#b2ff4c" stroke-width="1"/>
<path d="M234 297.5h1M236 301.5h1M235 304.5h1" stroke="#cbff33" stroke-width="1"/>
<path d="M234 298.5h1M236 300.5h1M236 302.5h1M234 304.5h1" stroke="#e5ff19" stroke-width="1"/>
<path d="M235 299.5h1M231 300.5h1M235 302.5h1M235 303.5h1M233 304.5h1" stroke="#ffff00" stroke-width="1"/>
<path d="M232 303.5h1" stroke="#ffe500" stroke-width="1"/>
<path d="M232 300.5h1M235 300.5h1" stroke="#ffcb00" stroke-width="1"/>
<path d="M232 302.5h1" stroke="#ffb200" stroke-width="1"/>
<path d="M233 303.5h1M234 303.5h1" stroke="#ff7f00" stroke-width="1"/>
<path d="M234 299.5h1M235 301.5h1" stroke="#ff4c00" stroke-width="1"/>
<path d="M233 299.5h1M234 300.5h1" stroke="#ff3300" stroke-width="1"/>
<path d="M233 300.5h1M232 301.5h1M233 301.5h1" stroke="#ff1900" stroke-width="1"/>
<path d="M234 301.5h1M233 302.5h1M234 302.5h1" stroke="#ff0000" stroke-width="1"/>
<rect x="225.5" y="236.4" width="80.5" height="80" fill="none" stroke="#8a8a8a" stroke-width="1"/>
<path d="M225.5 244.4h-1.8M225.5 258h-1.8M225.5 271.6h-1.8M225.5 285.2h-1.8M225.5 298.8h-1.8M225.5 312.4h-1.8M233.5 316.4v1.8M247.2 316.4v1.8M260.9 316.4v1.8M274.6 316.4v1.8M288.3 316.4v1.8M302 316.4v1.8" stroke="#888" stroke-width=".8"/>
<path d="M242.4 236.4L242.4 316.4" stroke="#3a3a3a" stroke-width="1"/>
<path d="M224 280.4L306 280.4" stroke="#3a3a3a" stroke-width="1"/>
<text transform="translate(301.6 247.6) scale(1 1.04)" text-anchor="end" fill="#111" font-size="9.6">1.1</text>
<text transform="translate(302 311.4) scale(1 1.04)" text-anchor="end" fill="#111" font-size="9.6">4.2</text>
<rect x="223.9" y="307.9" width="2" height="2" fill="#000"/>
<rect x="232.5" y="317.2" width="3" height="1.5" fill="#000"/>
<path d="M38 288.5L38 151" stroke="#333" stroke-width="1"/>
<path d="M36.7 152.5L38 149L39.3 152.5Z" fill="#333"/>
<text transform="translate(40.3 303) rotate(-90) scale(1 1.04)" text-anchor="middle" fill="#111" font-size="9">DAPI</text>
<text transform="translate(24.6 184.3) rotate(-90) scale(1 1.04)" text-anchor="middle" fill="#111" font-size="10.5">mCherry<tspan font-size="0.62em" dy="-0.45em">-</tspan><tspan dy="0.28em"> </tspan>cells</text>
<text transform="translate(24.6 276.5) rotate(-90) scale(1 1.04)" text-anchor="middle" fill="#e42b2b" font-size="10.5">mCherry<tspan font-size="0.62em" dy="-0.45em">+</tspan><tspan dy="0.28em"> </tspan>cells</text>
<text transform="translate(46.4 328.2) scale(1 1.04)" fill="#111" font-size="9">Annexin V</text>
<path d="M89.6 325.6L294 325.6" stroke="#333" stroke-width="1"/>
<path d="M292.5 324.3L296 325.6L292.5 326.9Z" fill="#333"/>
<text transform="translate(0.8 370.2) scale(1.1 1)" font-size="17.5" font-weight="bold" fill="#000">C</text>
<text transform="translate(22.4 369.2) scale(1 1.04)" fill="#111" font-size="10.6">Gated on HSPCs at day 4 (3 days after puromycin selection)</text>
<text transform="translate(88 393) scale(1 1.04)" text-anchor="middle" fill="#111" font-size="10.5">sgRosa26-1</text>
<text transform="translate(174.2 393) scale(1 1.04)" text-anchor="middle" fill="#111" font-size="10.5">sgTfdp1-2</text>
<text transform="translate(262 393) scale(1 1.04)" text-anchor="middle" fill="#111" font-size="10.5">sgE2f4-3</text>
<rect x="46.8" y="397.6" width="80.4" height="80.8" fill="none" stroke="#8a8a8a" stroke-width="1"/>
<path d="M46.8 405.6h-1.8M46.8 419.4h-1.8M46.8 433.1h-1.8M46.8 446.9h-1.8M46.8 460.6h-1.8M46.8 474.4h-1.8M54.8 478.4v1.8M68.5 478.4v1.8M82.2 478.4v1.8M95.8 478.4v1.8M109.5 478.4v1.8M123.2 478.4v1.8" stroke="#888" stroke-width=".8"/>
<path d="M81.7 432.2h1.8M68.5 437h1.2M71 456.4h1.2M80 451.4h1.2M67 448.1h1.8M82.5 445.8h1.2M68.4 452h1.2M78.1 455.1h1.2M70.2 435h1.8M82.1 448h1.2M66.7 447h1.2M77 433.5h1.2M71.5 455h1.8M67 445h1.2M80.4 432.9h1.2M80.2 434.3h1.2M70.4 435.5h1.8M76 433.8h1.2M74.2 456.1h1.2M69.7 455.1h1.2M84.5 438.5h1.8M82.3 447.1h1.2M83.2 441.6h1.2M67.3 443.3h1.2M81.6 434.1h1.8M82.8 440.1h1.2M66.6 447.5h1.2M73.3 433.5h1.2M69.8 456.8h1.8M68.6 440.6h1.2M84.3 435.8h1.2M80.9 448.3h1.2M69.9 437.5h1.8M83.1 437.6h1.2M67.8 440.9h1.2M83.1 437.5h1.2M71.5 436.6h1.8M79.2 433.9h1.2M82 448.4h1.2M78.7 453.4h1.2M66.5 453.3h1.8M78.9 451.3h1.2M66.4 442.6h1.2M80.8 452.2h1.2M71.3 435.6h1.8M73 432.1h1.2M72.7 454.8h1.2M69.1 452.7h1.2M68.8 454.7h1.8M74.8 457.1h1.2M83 438.7h1.2M82.6 442h1.2M66.7 453.7h1.8M78.5 433.6h1.2M74.4 455.9h1.2M82.8 436h1.2M72.4 435.9h1.8M72.3 456.4h1.2M76.9 453h1.2M78.1 453.9h1.2M83 446.6h1.8M73.4 456.6h1.2M70.2 438.3h1.2M70.5 454h1.2M71.7 455.4h1.8M67.6 448.8h1.2M68.9 453.2h1.2M74.7 454.4h1.2M77.4 432.1h1.8M68.7 441.1h1.2M71.1 454.1h1.2M75.8 454.4h1.2M67.1 452.1h1.8M81.1 435.9h1.2M82.1 448h1.2M66.9 453.5h1.2M67.5 444.1h1.8M78.2 433.5h1.2M65.7 445.2h1.2M82.8 442.4h1.2M71.7 435.1h1.8M80.4 434.2h1.2M78.2 431.9h1.2M82 435.3h1.2M80.6 434.1h1.8M83 434.1h1.2M72.7 456.3h1.2M83.8 443.4h1.2M75.6 453.8h1.8M71.2 457.4h1.2M80.4 431.2h1.2M80.3 432.6h1.2M83.2 439.6h1.8M69.5 455.7h1.2M66.3 444.3h1.2M82.8 441h1.2M70.7 435.8h1.8M72 456.3h1.2M84.7 440.7h1.2M77.2 431.9h1.2M79.1 451.4h1.8M67.2 451.6h1.2M67.8 450.1h1.2M76.3 431.9h1.2M80.4 452.5h1.8M75.4 433.2h1.2M66.9 448.4h1.2M73.5 456.8h1.2M67.8 442.9h1.8M81.4 436.2h1.2M82.9 442.6h1.2M84.1 440h1.2M73.8 454.3h1.8M73.3 432.1h1.2M73.4 432.4h1.2M67.2 453.2h1.2M82 444h1.8M83 437.2h1.2M84.5 436.7h1.2M82.3 436.6h1.2M67.5 448.8h1.8M81.1 435h1.2M67.8 450.8h1.2M79.1 432.7h1.2M75.3 455.6h1.8M79.1 453.1h1.2M79.8 452.9h1.2M76.7 433.6h1.2M82.6 438.7h1.8M71.3 433.5h1.2M78.3 452.5h1.2M69.4 439.7h1.2M67.2 448.1h1.8M66 447.7h1.2M82.7 441h1.2M83.2 435h1.2M68.5 441.5h1.8M78 455h1.2M72.1 434.8h1.2M71.4 433.5h1.2M74.1 432.6h1.8M67.4 446.3h1.2M83.3 444.3h1.2M65.3 448.2h1.2M83.6 435.8h1.8M79.7 451.3h1.2M73.7 455.7h1.2M83.6 441.1h1.2M77 431.6h1.8M79.7 434.4h1.2M73.1 454.4h1.2M78.7 432.8h1.2M71.2 434.9h1.8M75.8 456.4h1.2M81.3 447.4h1.2M77.5 431.9h1.2M83.1 442.4h1.8M79.4 451.5h1.2M71.2 457.3h1.2M74.6 456h1.2M81.8 449.4h1.8M78.6 430.4h1.2M83.9 435h1.2M69.8 453.7h1.2M78.1 454.7h1.8M82.9 442.8h1.2M66.2 442.5h1.2M75.4 432.9h1.2M74.7 454h1.8M77.9 432.3h1.2M80.3 452.3h1.2M70.3 436h1.2M82.8 434.5h1.8M76 433.1h1.2M67.9 440.2h1.2M67.8 455.3h1.2M67.9 454h1.8M66.7 447.7h1.2M68.7 438.2h1.2M78.3 452.7h1.2M65.1 447.5h1.8M66.1 447.3h1.2M66.1 445.6h1.2M67.7 442.6h1.2M82.2 445.6h1.8M68.3 439.2h1.2M74.7 431.7h1.2M68.6 437.3h1.2M77.8 433.1h1.8M67.4 444.7h1.2M68.3 454.6h1.2M81.9 449.1h1.2M78.6 433.2h1.8M66 449.6h1.2M69.5 436.4h1.2M80.3 431h1.2M71.8 456.9h1.8M80.6 433.7h1.2M77.5 453.7h1.2M71.2 457.5h1.2M76.6 431.7h1.8M74.3 454.2h1.2M80.5 451.7h1.2M77 452.7h1.2M81.5 435.3h1.8M68.9 439.8h1.2M78.3 432.3h1.2M65.8 449h1.2M75.1 431.6h1.8M70.9 435.7h1.2M70.8 435h1.2M75.9 454.1h1.2M80.9 448.6h1.8M65.5 451.7h1.2M83.5 442.8h1.2M74.8 431.4h1.2M68.7 437.3h1.8M83.7 444.1h1.2M73.2 456.6h1.2M81.9 448.6h1.2M80.7 431.2h1.8M69.2 456.7h1.2M79.2 452.9h1.2M81.1 431.4h1.2M76.6 452.9h1.8M66.9 446.9h1.2M84.6 439.8h1.2M71.1 455.3h1.2M75.5 454.1h1.8M81.8 432.4h1.2M86.7 457.3h1.2M95.8 441.4h1.2M92.5 455.3h1.8M82.5 451.6h1.2M84 451h1.2M83.2 447.9h1.2M81.1 448h1.8M83.1 454.5h1.2M83.4 452.9h1.2M82.8 446.8h1.2M86.1 450h1.8M84.6 448.5h1.2M82.1 448.5h1.2M93.1 440.3h1.2M82.9 447.2h1.8M82.8 454.2h1.2M90.3 452.6h1.2M82.2 454.9h1.2M84.7 452.3h1.8M87.6 451.7h1.2M82.6 450.2h1.2M82.5 450.9h1.2M90.5 451.9h1.8M90.2 448.4h1.2M90.4 453.6h1.2M100 446.9h1.2M88 454.9h1.8M89 446.6h1.2M84.7 452.4h1.2M85.4 447.1h1.2M82.6 456.6h1.8M104.9 443.5h1.2M82 447.4h1.2M91.1 453.7h1.2M84 442.3h1.8M84.2 450h1.2M82.6 449.7h1.2M88.6 440.6h1.2M87 451.6h1.8M81.6 459.5h1.2M95.7 449.8h1.2M83.4 451.2h1.2M91 448.3h1.8M87.9 448.6h1.2M85.9 445.3h1.2M87.2 454.7h1.2M89 450.2h1.8M87.1 455.4h1.2M83.6 444.3h1.2M88.9 442.8h1.2M83.4 446.1h1.8M86 446.4h1.2M87.3 451.8h1.2M85.7 447.5h1.2M83.3 450.4h1.8M89.3 447.9h1.2M99.8 446.6h1.2M83.5 452.6h1.2M82.8 449.5h1.8M88.9 443.3h1.2" stroke="#000" stroke-width="1.4"/>
<g transform="translate(75 444) rotate(21)"><ellipse rx="7.8" ry="12.5" fill="#111"/><ellipse rx="5.2" ry="10.0" fill="url(#cg)"/><ellipse rx="4.0" ry="8.2" fill="none" stroke="#d0d0d0" stroke-width=".5"/><ellipse rx="2.6" ry="5.6" fill="none" stroke="#e0e0e0" stroke-width=".5"/><ellipse rx="1.2" ry="2.8" fill="none" stroke="#eee" stroke-width=".5"/></g>
<path d="M89.6 425.4L116.6 425.4L118 463L79 463Z" fill="none" stroke="#444" stroke-width="1"/>
<text transform="translate(103.6 422.6) scale(1 1.04)" text-anchor="middle" fill="#111" font-size="9.5">0.9</text>
<rect x="45.2" y="456.4" width="2" height="2" fill="#000"/>
<rect x="66.8" y="479.2" width="3" height="1.5" fill="#000"/>
<rect x="135.6" y="397.6" width="81" height="80.8" fill="none" stroke="#8a8a8a" stroke-width="1"/>
<path d="M135.6 405.6h-1.8M135.6 419.4h-1.8M135.6 433.1h-1.8M135.6 446.9h-1.8M135.6 460.6h-1.8M135.6 474.4h-1.8M143.6 478.4v1.8M157.4 478.4v1.8M171.2 478.4v1.8M185 478.4v1.8M198.8 478.4v1.8M212.6 478.4v1.8" stroke="#888" stroke-width=".8"/>
<path d="M173.6 441.6h1.8M161.3 453.6h1.2M171.1 433.2h1.2M172.8 432.3h1.2M157 446h1.8M175 438.7h1.2M166.1 455.1h1.2M155.7 448h1.2M163.1 454.7h1.8M174.3 441.5h1.2M169.5 430.7h1.2M162.5 453.4h1.2M169 451.5h1.8M168.9 450.9h1.2M158.2 441.3h1.2M160.7 436.3h1.2M160 436h1.8M172.5 436.5h1.2M170 431.8h1.2M161.7 453.4h1.2M159.2 437.1h1.8M172.5 445.6h1.2M173.5 444.5h1.2M173.1 438.7h1.2M170.8 449.6h1.8M171.9 447.2h1.2M172.6 448.4h1.2M169.9 451.3h1.2M173.6 443.5h1.8M158 453.9h1.2M169.2 432.4h1.2M157.4 445.2h1.2M172.3 432.9h1.8M157.2 446.1h1.2M169.2 429.3h1.2M164.2 432.5h1.2M162.9 431.5h1.8M173.2 439h1.2M161.5 455h1.2M157.9 441.9h1.2M157.5 452.9h1.8M159.9 439.1h1.2M160.4 434.1h1.2M157.5 449.1h1.2M173.7 434.8h1.8M159.9 438.3h1.2M160.8 437h1.2M160.4 434.9h1.2M170.2 451.7h1.8M171.8 434.7h1.2M172.1 435.3h1.2M173.7 441.4h1.2M158.2 451h1.8M160.4 452.5h1.2M161.3 436.6h1.2M157.9 447.3h1.2M163.6 433.7h1.8M169 450.2h1.2M172.3 433.9h1.2M173.8 432.7h1.2M170.6 448.8h1.8M168.8 451.1h1.2M161.4 453.6h1.2M165.3 455.7h1.2M174.9 437.7h1.8M174 436.7h1.2M166.9 452.5h1.2M158.5 449.1h1.2M157.6 448.8h1.8M159.2 452.8h1.2M173 441.1h1.2M161.3 433.6h1.2M173 435.9h1.8M156.3 448.7h1.2M172.9 435.4h1.2M159.5 439.7h1.2M174.8 439.1h1.8M172.4 434.5h1.2M172.3 445.8h1.2M161 435.8h1.2M166.3 453.8h1.8M159.1 440.8h1.2M174.8 436.2h1.2M170 432.5h1.2M172.9 443.1h1.8M157 444.9h1.2M163 454.5h1.2M174.7 440.4h1.2M169.8 452.7h1.8M159.8 453.5h1.2M162.3 435.5h1.2M171 448.2h1.2M163.4 433.1h1.8M164.4 433h1.2M158.4 443.4h1.2M174 438.2h1.2M156.2 449.1h1.8M169.6 451.4h1.2M170.4 432.1h1.2M174.5 444.7h1.2M157.2 440.9h1.8M163.8 433h1.2M161.5 436.6h1.2M157.3 445.5h1.2M171.8 448h1.8M174.7 439.7h1.2M169.4 451.4h1.2M164 432.4h1.2M173.7 446.2h1.8M157.7 442.9h1.2M174.1 443.6h1.2M173.2 438.5h1.2M159.3 451.5h1.8M161.6 436.1h1.2M168.9 431.1h1.2M167 452.2h1.2M171.4 431.6h1.8M158.4 451h1.2M160.6 437.5h1.2M164.6 432.3h1.2M161.1 454h1.8M168.3 454h1.2M170.8 433.1h1.2M160.7 437.5h1.2M158.1 447h1.8M164 453.3h1.2M161.5 434.6h1.2M169.1 432.1h1.2M156.7 446.6h1.8M163.4 433.8h1.2M161.5 435.3h1.2M169.5 429.4h1.2M164.5 430.8h1.8M168.6 430.5h1.2M156.7 449.6h1.2M174 441h1.2M164.7 455.6h1.8M160.6 437.5h1.2M157.7 446.2h1.2M160.5 455.6h1.2M159.9 453.1h1.8M168.8 431.7h1.2M168.2 432.2h1.2M164.3 455.1h1.2M166.7 430.9h1.8M173.2 446.4h1.2M157 444.9h1.2M156 446.1h1.2M168.3 432.6h1.8M174.3 434.8h1.2M157.1 446.1h1.2M173 434.7h1.2M172.2 446.8h1.8M159.2 436.1h1.2M158.6 442.7h1.2M173.7 444.3h1.2M173 441.5h1.8M173.1 434.5h1.2M156.1 448.4h1.2M158.3 444.7h1.2M173.9 437h1.8M169.5 431.9h1.2M174.5 443.1h1.2M162.3 434.3h1.2M172.8 434.5h1.8M162.9 453.5h1.2M157.5 446.3h1.2M170.5 450.7h1.2M168.5 432.4h1.8M170.6 433.5h1.2M172.5 431.7h1.2M175.3 437.6h1.2M161.1 434.1h1.8M174.7 437h1.2M162 455.8h1.2M164.5 430.5h1.2M169.2 452.1h1.8M170.4 432h1.2M168.5 432.6h1.2M168.6 452.8h1.2M165.7 430.4h1.8M169.3 450.4h1.2M158.9 454.6h1.2M170.7 451.3h1.2M175 442.5h1.8M164.8 430.6h1.2M156.8 444.8h1.2M167.3 431.1h1.2M174.3 437.9h1.8M171.2 433.3h1.2M157.4 453.6h1.2M173.8 436.5h1.2M170.1 450.9h1.8M165.6 431.9h1.2M165 433.3h1.2M173.5 447.2h1.2M170.3 432.8h1.8M165.8 454h1.2M166.9 432.4h1.2M173 448.1h1.2M173.7 440.9h1.8M156.9 447.1h1.2M174.2 445.4h1.2M159.4 438.3h1.2M167.6 452.3h1.8M162.1 455.9h1.2M172.1 430.6h1.2M159.6 435.1h1.2M164 434.1h1.8M164.5 433.2h1.2M173 435.5h1.2M174.9 438.1h1.2M165.5 432.6h1.8M155.8 445.4h1.2M171.9 432h1.2M169.3 453.5h1.2M159.5 437h1.8M164 453.3h1.2M156.6 451h1.2M170 449.3h1.2M170.9 431.7h1.8M172.6 432.9h1.2M156.5 449.2h1.2M157.8 451.3h1.2M165.5 430h1.8M166.5 430h1.2M162.8 434h1.2M159.8 454.8h1.2M162.1 434.9h1.8M173.1 438.8h1.2M179.9 442.4h1.2M174.4 451.9h1.2M175 443h1.8M198.7 439h1.2M173.5 450.8h1.2M176.4 446.5h1.2M175.8 445.9h1.8M183 445.2h1.2M178.8 450.5h1.2M178.2 445.4h1.2M177.1 455.4h1.8M172.7 450.9h1.2M176.9 446.5h1.2M182.7 444.1h1.2M185.4 449.3h1.8M176.3 455.1h1.2M173.8 452.7h1.2M174.3 446.5h1.2M182.6 444.6h1.8M173.7 449.2h1.2M176.1 447h1.2M173.6 449.3h1.2M172.3 448.3h1.8M193.5 444.2h1.2M175 448.8h1.2M176.7 457.3h1.2M179.8 439h1.8M188.9 446.5h1.2M181.7 441.9h1.2M197.6 441.8h1.2M190.1 442.3h1.8M173.7 440h1.2M173.2 456.8h1.2M180.3 450.2h1.2M186.3 444h1.8M183.1 449.6h1.2M171.9 442.3h1.2M172.6 449.8h1.2M178 444.2h1.8M173.3 449.5h1.2M174.4 457.3h1.2M174.8 444.4h1.2M173.6 449.3h1.8M178.3 454.5h1.2M187.8 450.8h1.2M189.1 440.2h1.2M181.8 438.6h1.8M187.9 446.6h1.2M172.4 442.4h1.2M173.3 449.7h1.2M176.1 446.8h1.8M176.7 450.7h1.2M174.7 438.5h1.2M176.1 449.3h1.2M174.6 450h1.8M181.3 452.2h1.2M176.8 444.8h1.2M173.8 442.9h1.2M172.9 445.2h1.8M184.8 439.7h1.2" stroke="#000" stroke-width="1.4"/>
<g transform="translate(165.6 443) rotate(21)"><ellipse rx="7.8" ry="12.5" fill="#111"/><ellipse rx="5.2" ry="10.0" fill="url(#cg)"/><ellipse rx="4.0" ry="8.2" fill="none" stroke="#d0d0d0" stroke-width=".5"/><ellipse rx="2.6" ry="5.6" fill="none" stroke="#e0e0e0" stroke-width=".5"/><ellipse rx="1.2" ry="2.8" fill="none" stroke="#eee" stroke-width=".5"/></g>
<path d="M179 425.4L206.4 425.4L207.6 463L168.4 463Z" fill="none" stroke="#444" stroke-width="1"/>
<text transform="translate(193.2 422.6) scale(1 1.04)" text-anchor="middle" fill="#111" font-size="9.5">1.3</text>
<rect x="134" y="456.4" width="2" height="2" fill="#000"/>
<rect x="155.6" y="479.2" width="3" height="1.5" fill="#000"/>
<rect x="225.5" y="397.6" width="80.9" height="80.8" fill="none" stroke="#8a8a8a" stroke-width="1"/>
<path d="M225.5 405.6h-1.8M225.5 419.4h-1.8M225.5 433.1h-1.8M225.5 446.9h-1.8M225.5 460.6h-1.8M225.5 474.4h-1.8M233.5 478.4v1.8M247.3 478.4v1.8M261.1 478.4v1.8M274.8 478.4v1.8M288.6 478.4v1.8M302.4 478.4v1.8" stroke="#888" stroke-width=".8"/>
<path d="M251.8 435.9h1.8M248.6 442.4h1.2M248 438.8h1.2M247.1 450h1.2M249.6 459.4h1.8M262.9 441.2h1.2M256.5 454.7h1.2M261.2 447.3h1.2M247 444h1.8M258.9 436.1h1.2M246.2 443h1.2M245.1 450h1.2M249.1 440.6h1.8M259.5 435.7h1.2M251.6 437.2h1.2M261.4 448.5h1.2M247.5 455.7h1.8M245.6 452.7h1.2M249.9 438.5h1.2M254 456.4h1.2M248.5 458.9h1.8M246.7 444.4h1.2M253.5 435.4h1.2M253.1 433.6h1.2M248.4 441.1h1.8M247.7 441.7h1.2M248.7 455.6h1.2M257 434h1.2M249.3 458.5h1.8M263.2 442.5h1.2M259.7 452.9h1.2M253.4 434h1.2M255.2 458.3h1.8M249.5 439h1.2M260.8 449.2h1.2M248 458.4h1.2M245.8 451.7h1.8M252.7 434.6h1.2M254.6 456.1h1.2M254.8 435.5h1.2M262.5 444.7h1.8M258 435.1h1.2M247.4 457.9h1.2M253.5 457.5h1.2M262.3 443.5h1.8M252.6 436.7h1.2M252.3 457.1h1.2M262 442.9h1.2M248.1 442.7h1.8M252.1 456.4h1.2M250.5 456.1h1.2M255.9 456h1.2M254.7 435.4h1.8M251.6 459.2h1.2M260.1 434.4h1.2M246.9 452.8h1.2M261.7 436h1.8M256.7 454.4h1.2M259.9 451.5h1.2M253.6 435.6h1.2M262.4 445.9h1.8M263.3 446.3h1.2M249.6 458h1.2M253.8 458.4h1.2M258.3 455.4h1.8M262 436.2h1.2M258.9 452.6h1.2M260.1 453.6h1.2M261.6 448.9h1.8M247.1 452.9h1.2M256.8 432.4h1.2M257.9 454.5h1.2M250.1 436.1h1.8M260.2 452.7h1.2M245.4 450.5h1.2M261.4 433.9h1.2M246.9 442.8h1.8M254.7 433.2h1.2M262.8 449.3h1.2M261.1 452.4h1.2M259.7 436.3h1.8M262.6 442.1h1.2M257 454.6h1.2M260.7 451.2h1.2M255.1 456.8h1.8M246.7 449.6h1.2M254.9 457.5h1.2M260.2 452.3h1.2M258.9 433.6h1.8M247.1 450.6h1.2M256.7 455h1.2M248.7 455.1h1.2M252.2 457.7h1.8M247.6 439.6h1.2M249.5 455.9h1.2M247.6 441h1.2M246.1 446.2h1.8M262.7 442.2h1.2M261.6 438.4h1.2M259.3 435.1h1.2M249.3 438.1h1.8M247.3 446.1h1.2M260.8 438.4h1.2M250.2 438.5h1.2M245.7 447h1.8M249.3 456h1.2M249.8 457.9h1.2M260.3 452h1.2M254 456.2h1.8M254.3 459.1h1.2M256.6 435.4h1.2M251 435.1h1.2M260.2 434.2h1.8M245.3 446.9h1.2M258.2 453.1h1.2M252.2 435.8h1.2M248.7 456.6h1.8M262.6 439h1.2M257.6 435.5h1.2M249.9 459h1.2M250.7 438.9h1.8M249.6 437h1.2M255.1 457.1h1.2M251.2 457.5h1.2M247 447.5h1.8M256 432.6h1.2M263.7 446h1.2M246.2 443.5h1.2M262.6 437.5h1.8M258.4 453.2h1.2M251.6 458.4h1.2M257.9 434.3h1.2M259.7 432.9h1.8M250.5 436.3h1.2M244.7 449.8h1.2M249.9 439.3h1.2M261.9 448h1.8M259.6 453.2h1.2M258.8 455.8h1.2M255.2 433.8h1.2M260.8 433.4h1.8M262.1 435h1.2M253.1 436h1.2M258 435.4h1.2M261.6 447.7h1.8M246.7 454.1h1.2M245 446.9h1.2M245.8 452.6h1.2M244.6 452h1.8M261.3 437.1h1.2M262.2 438.6h1.2M256 433.3h1.2M261.1 433.5h1.8M260.3 449.3h1.2M252.3 434.1h1.2M250.8 437h1.2M248.2 442.9h1.8M262.4 438h1.2M247.7 441.9h1.2M246.8 448.9h1.2M250.4 457.5h1.8M253.8 456.3h1.2M246 454.1h1.2M245.6 451.6h1.2M249.8 437.1h1.8M247.2 446.6h1.2M258.5 434.9h1.2M251.6 457.1h1.2M261.6 439.7h1.8M260.5 437.6h1.2M247.7 458.2h1.2M262.5 448h1.2M248.9 439.8h1.8M247.8 456.3h1.2M252.4 457.6h1.2M258.8 452.8h1.2M262.1 435.9h1.8M244.5 449.9h1.2M254.8 458.6h1.2M252.1 458.5h1.2M253.2 436.4h1.8M259.2 435.9h1.2M247.5 440.8h1.2M260.7 435.2h1.2M262.6 447.7h1.8M249.6 458.7h1.2M258.7 433.6h1.2M249.5 456.7h1.2M252.6 434.5h1.8M258.6 434.5h1.2M263 439.1h1.2M257.6 455.8h1.2M244.6 450h1.8M246.6 446.3h1.2M252.1 436.7h1.2M247.1 452.1h1.2M246.7 445.8h1.8M257.8 434.8h1.2M248.3 441.8h1.2M256 435.3h1.2M251.1 436h1.8M264.2 440.4h1.2M257.8 432.7h1.2M245.7 450.2h1.2M244.8 452.3h1.8M263.2 442.9h1.2M249.2 457.4h1.2M260 436.8h1.2M261.7 435h1.8M263.1 437.1h1.2M250.5 438.3h1.2M263.1 444.4h1.2M244.7 448.1h1.8M257.2 454.9h1.2M260.1 437.2h1.2M251.7 459.2h1.2M254.5 436h1.8M263.2 440.5h1.2M260.1 437.1h1.2M248.6 440.2h1.2M250.1 436.4h1.8M262.1 437.6h1.2M245.6 445.2h1.2M249.1 441.1h1.2M249.7 456.9h1.8M253.3 435.6h1.2M260.2 436.4h1.2M254.9 458.7h1.2M257.1 433.2h1.8M247.8 442.1h1.2M262.6 455h1.2M273.6 450.6h1.2M262.5 453.9h1.8M260.6 447h1.2M262.9 451h1.2M266.8 452.7h1.2M269.9 447.8h1.8M261.1 456h1.2M267 458.4h1.2M266.8 453.2h1.2M275.7 440.2h1.8M268.4 452.9h1.2M262.6 452.1h1.2M266.2 457.8h1.2M270.5 448.3h1.8M275.4 449.6h1.2M265.5 449.2h1.2M262.2 455.6h1.2M264.9 453.7h1.8M267 453.4h1.2M265.3 458.5h1.2M266.4 450.9h1.2M267.7 446.8h1.8M275.5 457.7h1.2M263.7 443.4h1.2M261.7 450.2h1.2M264.6 446.8h1.8M270.2 459h1.2M262.4 449.1h1.2M262.6 461.4h1.2M264 448.8h1.8M261.8 455.9h1.2M268.4 449.3h1.2M260.7 452.9h1.2M261.9 457.5h1.8M263.8 449.1h1.2M266.6 443.2h1.2M262.6 455.2h1.2M271.2 442.2h1.8M263.4 457.5h1.2M263.1 449.7h1.2M272.1 455.3h1.2M266.6 447.2h1.8M271.4 450.9h1.2M264.3 451.9h1.2M266.8 458.3h1.2M267.1 460.8h1.8M269.1 447.9h1.2M272.2 448.6h1.2M264.4 451.5h1.2M263.1 455.6h1.8M267.5 454.3h1.2M261.6 455.8h1.2M268.4 441h1.2M261.9 464.2h1.8M268 451.1h1.2M261.9 449.2h1.2M264.7 445.7h1.2M271.7 443.1h1.8M268.1 451.7h1.2" stroke="#000" stroke-width="1.4"/>
<g transform="translate(254.4 446) rotate(21)"><ellipse rx="7.8" ry="12.5" fill="#111"/><ellipse rx="5.2" ry="10.0" fill="url(#cg)"/><ellipse rx="4.0" ry="8.2" fill="none" stroke="#d0d0d0" stroke-width=".5"/><ellipse rx="2.6" ry="5.6" fill="none" stroke="#e0e0e0" stroke-width=".5"/><ellipse rx="1.2" ry="2.8" fill="none" stroke="#eee" stroke-width=".5"/></g>
<path d="M268.4 425.4L296 425.4L297 463L258 463Z" fill="none" stroke="#444" stroke-width="1"/>
<text transform="translate(282.7 422.6) scale(1 1.04)" text-anchor="middle" fill="#111" font-size="9.5">1.0</text>
<rect x="223.9" y="456.4" width="2" height="2" fill="#000"/>
<rect x="245.5" y="479.2" width="3" height="1.5" fill="#000"/>
<path d="M38 426L38 403" stroke="#333" stroke-width="1"/>
<path d="M36.7 404.5L38 401L39.3 404.5Z" fill="#333"/>
<text transform="translate(41.4 452.5) rotate(-90) scale(1 1.04)" text-anchor="middle" fill="#111" font-size="9.3">GFP (Cas9)</text>
<text transform="translate(50 491.2) scale(1 1.04)" fill="#111" font-size="9.3">Active Caspase 3</text>
<path d="M122 488L298.5 488" stroke="#333" stroke-width="1"/>
<path d="M297 486.7L300.5 488L297 489.3Z" fill="#333"/>
<path d="M97 508L97 581.5" stroke="#222" stroke-width="1.2"/>
<path d="M96.4 581L266.6 581" stroke="#222" stroke-width="1.2"/>
<path d="M93 581L97 581" stroke="#222" stroke-width="1"/>
<text transform="translate(91.4 584.7) scale(1 1.04)" text-anchor="end" fill="#111" font-size="10.5">0</text>
<path d="M93 556.7L97 556.7" stroke="#222" stroke-width="1"/>
<text transform="translate(91.4 560.4) scale(1 1.04)" text-anchor="end" fill="#111" font-size="10.5">1</text>
<path d="M93 532.3L97 532.3" stroke="#222" stroke-width="1"/>
<text transform="translate(91.4 536) scale(1 1.04)" text-anchor="end" fill="#111" font-size="10.5">2</text>
<path d="M93 508L97 508" stroke="#222" stroke-width="1"/>
<text transform="translate(91.4 511.7) scale(1 1.04)" text-anchor="end" fill="#111" font-size="10.5">3</text>
<rect x="104.2" y="554.2" width="13.6" height="26.8" fill="#7d7d7d" stroke="#111" stroke-width="1.1"/>
<circle cx="111" cy="547.4" r="2.4" fill="#000"/>
<circle cx="111" cy="554.2" r="2.4" fill="#000"/>
<circle cx="111" cy="561" r="2.4" fill="#000"/>
<path d="M111 581L111 585" stroke="#222" stroke-width="1"/>
<text transform="translate(114 590.5) rotate(-45) scale(1 1.04)" text-anchor="end" fill="#111" font-size="9.6">sgRosa26-1</text>
<rect x="132.5" y="553" width="13.6" height="28" fill="#7d7d7d" stroke="#111" stroke-width="1.1"/>
<circle cx="139.4" cy="546.9" r="2.4" fill="#000"/>
<circle cx="139.4" cy="551.8" r="2.4" fill="#000"/>
<circle cx="139.4" cy="559.1" r="2.4" fill="#000"/>
<path d="M139.3 581L139.3 585" stroke="#222" stroke-width="1"/>
<text transform="translate(142.3 590.5) rotate(-45) scale(1 1.04)" text-anchor="end" fill="#111" font-size="9.6">sgRosa26-2</text>
<rect x="160.9" y="542.1" width="13.6" height="38.9" fill="#7d7d7d" stroke="#111" stroke-width="1.1"/>
<circle cx="167.6" cy="521.4" r="2.4" fill="#000"/>
<circle cx="167.6" cy="548.9" r="2.4" fill="#000"/>
<circle cx="167.6" cy="555.5" r="2.4" fill="#000"/>
<path d="M167.7 581L167.7 585" stroke="#222" stroke-width="1"/>
<text transform="translate(170.7 590.5) rotate(-45) scale(1 1.04)" text-anchor="end" fill="#111" font-size="9.6">sgTfdp1-1</text>
<rect x="189.2" y="546.5" width="13.6" height="34.5" fill="#7d7d7d" stroke="#111" stroke-width="1.1"/>
<circle cx="196" cy="537.4" r="2.4" fill="#000"/>
<circle cx="191.4" cy="553" r="2.4" fill="#000"/>
<circle cx="200.4" cy="548.4" r="2.4" fill="#000"/>
<path d="M196 581L196 585" stroke="#222" stroke-width="1"/>
<text transform="translate(199 590.5) rotate(-45) scale(1 1.04)" text-anchor="end" fill="#111" font-size="9.6">sgTfdp1-2</text>
<rect x="217.5" y="556.9" width="13.6" height="24.1" fill="#7d7d7d" stroke="#111" stroke-width="1.1"/>
<circle cx="224" cy="551.1" r="2.4" fill="#000"/>
<circle cx="219.6" cy="561.5" r="2.4" fill="#000"/>
<circle cx="228.6" cy="557.6" r="2.4" fill="#000"/>
<path d="M224.3 581L224.3 585" stroke="#222" stroke-width="1"/>
<text transform="translate(227.3 590.5) rotate(-45) scale(1 1.04)" text-anchor="end" fill="#111" font-size="9.6">sgE2f4-2</text>
<rect x="245.6" y="558.4" width="13.6" height="22.6" fill="#7d7d7d" stroke="#111" stroke-width="1.1"/>
<circle cx="252.4" cy="552" r="2.4" fill="#000"/>
<circle cx="247.6" cy="562.5" r="2.4" fill="#000"/>
<circle cx="257" cy="560.3" r="2.4" fill="#000"/>
<path d="M252.4 581L252.4 585" stroke="#222" stroke-width="1"/>
<text transform="translate(255.4 590.5) rotate(-45) scale(1 1.04)" text-anchor="end" fill="#111" font-size="9.6">sgE2f4-3</text>
<text transform="translate(62.7 542.6) rotate(-90) scale(1 1.04)" text-anchor="middle" fill="#111" font-size="9.3">Active Caspase 3<tspan font-size="6" dy="-3.6">+</tspan></text>
<text transform="translate(75.3 541.8) rotate(-90) scale(1 1.04)" text-anchor="middle" fill="#111" font-size="9.3">HSPCs (%)</text>
<text transform="translate(333.4 15.6) scale(1.1 1)" font-size="17.5" font-weight="bold" fill="#000">D</text>
<text transform="translate(359.8 25.6) scale(1 1.04)" fill="#111" font-size="10.5">Gated on HSPCs</text>
<text transform="translate(403.8 45) scale(1 1.04)" text-anchor="middle" fill="#111" font-size="10.5">sgRosa26-1</text>
<text transform="translate(501.5 45) scale(1 1.04)" text-anchor="middle" fill="#111" font-size="10.5">sgTfdp1-2</text>
<text transform="translate(590 45) scale(1 1.04)" text-anchor="middle" fill="#111" font-size="10.5">sgE2f4-3</text>
<path d="M412 69.5h1M411 70.5h1M414 70.5h1M410 71.5h1M416 71.5h1M427 71.5h1M422 72.5h1M428 72.5h1M412 73.5h1M419 73.5h1M412 74.5h1M418 74.5h1M424 74.5h1M406 75.5h1M411 75.5h1M413 75.5h1M416 75.5h1M417 75.5h1M418 75.5h1M414 76.5h1M415 76.5h1M418 76.5h1M420 76.5h1M434 76.5h1M413 77.5h1M414 77.5h1M416 77.5h1M417 77.5h1M424 77.5h1M425 77.5h1M413 78.5h1M416 78.5h1M417 78.5h1M418 78.5h1M419 78.5h1M420 78.5h1M424 78.5h1M425 78.5h1M413 79.5h1M415 79.5h1M420 79.5h1M422 79.5h1M423 79.5h1M425 79.5h1M409 80.5h1M413 80.5h1M424 80.5h1M426 80.5h1M407 81.5h1M408 81.5h1M411 81.5h1M412 81.5h1M423 81.5h1M424 81.5h1M426 81.5h1M427 81.5h1M430 81.5h1M410 82.5h1M411 82.5h1M424 82.5h1M426 82.5h1M427 82.5h1M408 83.5h1M425 83.5h1M426 83.5h1M428 83.5h1M411 84.5h1M425 84.5h1M429 84.5h1M431 84.5h1M410 85.5h1M425 85.5h1M407 86.5h1M408 86.5h1M425 86.5h1M426 86.5h1M427 86.5h1M428 86.5h1M406 87.5h1M408 87.5h1M409 87.5h1M425 87.5h1M409 88.5h1M407 89.5h1M427 89.5h1M426 90.5h1M427 90.5h1M428 90.5h1M406 91.5h1M409 91.5h1M426 91.5h1M428 91.5h1M409 92.5h1M426 92.5h1M408 93.5h1M427 93.5h1M409 94.5h1M428 94.5h1M409 95.5h1M410 95.5h1M426 95.5h1M427 95.5h1M407 96.5h1M409 96.5h1M410 96.5h1M426 96.5h1M428 96.5h1M409 97.5h1M426 97.5h1M428 97.5h1M409 98.5h1M425 98.5h1M403 99.5h1M409 99.5h1M409 100.5h1M411 100.5h1M426 100.5h1M429 100.5h1M410 101.5h1M412 101.5h1M427 102.5h1M428 102.5h1M410 103.5h1M412 103.5h1M423 103.5h1M424 103.5h1M427 103.5h1M410 104.5h1M414 104.5h1M415 104.5h1M425 104.5h1M412 105.5h1M416 105.5h1M417 105.5h1M418 105.5h1M422 105.5h1M423 105.5h1M425 105.5h1M410 106.5h1M413 106.5h1M414 106.5h1M415 106.5h1M416 106.5h1M418 106.5h1M419 106.5h1M421 106.5h1M423 106.5h1M410 107.5h1M419 107.5h1M426 107.5h1M431 107.5h1M411 108.5h1M418 108.5h1M433 108.5h1M409 109.5h1M413 109.5h1M414 109.5h1M418 109.5h1M427 109.5h1M404 110.5h1M409 110.5h1M419 110.5h1M421 110.5h1M416 111.5h1M408 112.5h1M409 112.5h1M412 112.5h1M415 112.5h1M416 112.5h1M417 112.5h1M409 113.5h1M419 113.5h1M420 113.5h1M421 113.5h1M426 113.5h1M406 114.5h1M408 114.5h1M421 114.5h1M424 114.5h1M400 115.5h1M405 115.5h1M407 115.5h1M422 115.5h1M405 116.5h1M425 116.5h1M427 116.5h1M404 117.5h1M422 117.5h1M423 117.5h1M424 117.5h1M402 118.5h1M405 118.5h1M423 119.5h1M406 120.5h1M423 120.5h1M424 120.5h1M403 121.5h1M404 121.5h1M405 121.5h1M406 121.5h1M422 121.5h1M402 122.5h1M407 123.5h1M420 123.5h1M423 123.5h1M427 123.5h1M406 124.5h1M408 124.5h1M419 124.5h1M411 125.5h1M413 125.5h1M419 125.5h1M408 126.5h1M412 126.5h1M413 126.5h1M418 126.5h1M417 127.5h1M415 129.5h1M422 129.5h1" stroke="#3a3aff" stroke-opacity="0.5" stroke-width="1"/>
<path d="M421 80.5h1M414 81.5h1M416 81.5h1M417 81.5h1M418 81.5h1M421 81.5h1M422 81.5h1M414 82.5h1M415 82.5h1M416 82.5h1M419 82.5h1M423 82.5h1M414 83.5h1M415 83.5h1M416 83.5h1M417 83.5h1M419 83.5h1M421 83.5h1M422 83.5h1M413 84.5h1M415 84.5h1M416 84.5h1M418 84.5h1M420 84.5h1M422 84.5h1M424 84.5h1M414 85.5h1M415 85.5h1M417 85.5h1M418 85.5h1M420 85.5h1M421 85.5h1M422 85.5h1M411 86.5h1M416 86.5h1M417 86.5h1M418 86.5h1M420 86.5h1M421 86.5h1M422 86.5h1M423 86.5h1M413 87.5h1M414 87.5h1M417 87.5h1M418 87.5h1M420 87.5h1M421 87.5h1M422 87.5h1M414 88.5h1M416 88.5h1M417 88.5h1M425 88.5h1M411 89.5h1M412 89.5h1M413 89.5h1M415 89.5h1M416 89.5h1M418 89.5h1M419 89.5h1M421 89.5h1M422 89.5h1M424 89.5h1M410 90.5h1M411 90.5h1M412 90.5h1M413 90.5h1M414 90.5h1M416 90.5h1M418 90.5h1M419 90.5h1M420 90.5h1M421 90.5h1M413 91.5h1M415 91.5h1M416 91.5h1M418 91.5h1M419 91.5h1M420 91.5h1M421 91.5h1M422 91.5h1M423 91.5h1M410 92.5h1M411 92.5h1M415 92.5h1M418 92.5h1M420 92.5h1M421 92.5h1M422 92.5h1M423 92.5h1M410 93.5h1M412 93.5h1M415 93.5h1M416 93.5h1M417 93.5h1M419 93.5h1M420 93.5h1M421 93.5h1M425 93.5h1M410 94.5h1M414 94.5h1M415 94.5h1M419 94.5h1M420 94.5h1M421 94.5h1M423 94.5h1M414 95.5h1M415 95.5h1M416 95.5h1M418 95.5h1M419 95.5h1M420 95.5h1M421 95.5h1M422 95.5h1M423 95.5h1M425 95.5h1M412 96.5h1M415 96.5h1M416 96.5h1M419 96.5h1M420 96.5h1M422 96.5h1M424 96.5h1M411 97.5h1M414 97.5h1M415 97.5h1M416 97.5h1M417 97.5h1M419 97.5h1M420 97.5h1M421 97.5h1M424 97.5h1M425 97.5h1M411 98.5h1M413 98.5h1M416 98.5h1M419 98.5h1M421 98.5h1M422 98.5h1M423 98.5h1M414 99.5h1M417 99.5h1M420 99.5h1M421 99.5h1M414 100.5h1M418 100.5h1M419 100.5h1M422 100.5h1M423 100.5h1M414 101.5h1M418 101.5h1M421 101.5h1M416 102.5h1M418 102.5h1M419 102.5h1M420 102.5h1M421 102.5h1M422 102.5h1M423 102.5h1M415 103.5h1M418 103.5h1M419 103.5h1M410 113.5h1M411 113.5h1M412 113.5h1M413 113.5h1M415 113.5h1M409 114.5h1M411 114.5h1M412 114.5h1M415 114.5h1M417 114.5h1M409 115.5h1M415 115.5h1M418 115.5h1M417 116.5h1M418 116.5h1M419 116.5h1M420 116.5h1M421 116.5h1M407 117.5h1M408 117.5h1M417 117.5h1M418 117.5h1M419 117.5h1M420 117.5h1M421 117.5h1M406 118.5h1M418 118.5h1M419 118.5h1M422 118.5h1M406 119.5h1M407 119.5h1M419 119.5h1M422 119.5h1M407 120.5h1M421 120.5h1M408 121.5h1M417 121.5h1M418 121.5h1M419 121.5h1M409 122.5h1M416 122.5h1M419 122.5h1M420 122.5h1M409 123.5h1M411 123.5h1M415 123.5h1M416 123.5h1M419 123.5h1M410 124.5h1M411 124.5h1M413 124.5h1" stroke="#2e2eff" stroke-opacity="0.85" stroke-width="1"/>
<path d="M413 83.5h1M414 84.5h1M416 85.5h1M414 86.5h1M416 87.5h1M419 87.5h1M411 88.5h1M418 88.5h1M419 88.5h1M420 88.5h1M423 88.5h1M415 90.5h1M424 90.5h1M414 91.5h1M417 91.5h1M414 92.5h1M416 92.5h1M419 92.5h1M414 93.5h1M422 93.5h1M423 93.5h1M417 94.5h1M418 94.5h1M417 95.5h1M418 96.5h1M413 97.5h1M418 97.5h1M412 98.5h1M414 98.5h1M417 98.5h1M418 98.5h1M420 98.5h1M416 100.5h1M417 100.5h1M417 102.5h1M416 114.5h1M416 115.5h1M417 115.5h1M408 116.5h1M407 118.5h1M418 120.5h1M408 122.5h1M418 122.5h1M410 123.5h1M414 123.5h1" stroke="#30c8a0" stroke-opacity=".8" stroke-width="1"/>
<path d="M413 115.5h1M409 116.5h1M410 116.5h1M410 117.5h1M408 118.5h1M417 118.5h1M417 119.5h1M417 120.5h1M415 122.5h1M413 123.5h1" stroke="#004cff" stroke-width="1"/>
<path d="M410 115.5h1" stroke="#0065ff" stroke-width="1"/>
<path d="M409 118.5h1" stroke="#007fff" stroke-width="1"/>
<path d="M411 122.5h1" stroke="#0099ff" stroke-width="1"/>
<path d="M415 116.5h1M416 117.5h1" stroke="#00b2ff" stroke-width="1"/>
<path d="M411 115.5h1M412 115.5h1M408 119.5h1" stroke="#00ccff" stroke-width="1"/>
<path d="M414 115.5h1M409 121.5h1M410 121.5h1M410 122.5h1" stroke="#00e5ff" stroke-width="1"/>
<path d="M408 120.5h1" stroke="#00ffff" stroke-width="1"/>
<path d="M411 116.5h1M416 118.5h1M415 120.5h1M414 122.5h1" stroke="#19ffe5" stroke-width="1"/>
<path d="M414 116.5h1M416 116.5h1M409 117.5h1M409 119.5h1M416 119.5h1M413 121.5h1M415 121.5h1M416 121.5h1" stroke="#32ffcc" stroke-width="1"/>
<path d="M413 116.5h1M415 118.5h1M415 119.5h1M409 120.5h1M412 122.5h1" stroke="#4cffb2" stroke-width="1"/>
<path d="M412 116.5h1M412 121.5h1M414 121.5h1" stroke="#65ff99" stroke-width="1"/>
<path d="M416 120.5h1M413 122.5h1M412 123.5h1" stroke="#7fff7f" stroke-width="1"/>
<path d="M411 117.5h1M410 119.5h1" stroke="#99ff65" stroke-width="1"/>
<path d="M414 117.5h1M411 119.5h1M414 119.5h1M410 120.5h1M414 120.5h1M411 121.5h1" stroke="#cbff33" stroke-width="1"/>
<path d="M410 118.5h1M411 118.5h1M414 118.5h1M412 120.5h1" stroke="#e5ff19" stroke-width="1"/>
<path d="M412 117.5h1M413 117.5h1M415 117.5h1M412 118.5h1M413 118.5h1M412 119.5h1M413 119.5h1M411 120.5h1M413 120.5h1" stroke="#ffe500" stroke-width="1"/>
<rect x="368.5" y="49.6" width="81" height="80.4" fill="none" stroke="#8a8a8a" stroke-width="1"/>
<path d="M368.5 57.6h-1.8M368.5 71.3h-1.8M368.5 85h-1.8M368.5 98.6h-1.8M368.5 112.3h-1.8M368.5 126h-1.8M376.5 130v1.8M390.3 130v1.8M404.1 130v1.8M417.9 130v1.8M431.7 130v1.8M445.5 130v1.8" stroke="#888" stroke-width=".8"/>
<rect x="366.9" y="116" width="2" height="2" fill="#000"/>
<rect x="384.5" y="130.8" width="3" height="1.5" fill="#000"/>
<rect x="408.6" y="65.8" width="22" height="42.7" fill="none" stroke="#4a4a4a" stroke-width="1"/>
<rect x="408.6" y="110.3" width="22.8" height="19.3" fill="none" stroke="#8a8a8a" stroke-width="1.2"/>
<path d="M416.2 65.8L416.2 129.6" stroke="#4a4a4a" stroke-width="1"/>
<path d="M421.8 65.8L421.8 129.6" stroke="#4a4a4a" stroke-width="1"/>
<path d="M369.5 110L400 110" stroke="#777" stroke-width="2"/>
<path d="M517 62.5h1M516 67.5h1M499 68.5h1M507 69.5h1M514 70.5h1M516 70.5h1M508 71.5h1M509 71.5h1M506 72.5h1M509 72.5h1M515 72.5h1M521 72.5h1M502 73.5h1M509 73.5h1M521 73.5h1M505 74.5h1M512 74.5h1M514 74.5h1M517 74.5h1M505 75.5h1M511 75.5h1M512 75.5h1M514 75.5h1M520 75.5h1M502 76.5h1M506 76.5h1M511 76.5h1M514 76.5h1M515 76.5h1M501 77.5h1M507 77.5h1M514 77.5h1M505 78.5h1M507 78.5h1M516 78.5h1M517 78.5h1M520 78.5h1M521 78.5h1M502 79.5h1M516 79.5h1M517 79.5h1M518 79.5h1M519 79.5h1M520 79.5h1M521 79.5h1M504 80.5h1M505 80.5h1M506 80.5h1M517 80.5h1M521 80.5h1M499 81.5h1M503 81.5h1M504 81.5h1M505 81.5h1M518 81.5h1M505 82.5h1M519 82.5h1M518 83.5h1M519 83.5h1M521 83.5h1M503 84.5h1M519 84.5h1M497 85.5h1M501 85.5h1M502 85.5h1M521 85.5h1M504 86.5h1M520 86.5h1M522 86.5h1M503 87.5h1M520 87.5h1M521 87.5h1M500 88.5h1M519 88.5h1M503 89.5h1M519 89.5h1M519 90.5h1M519 91.5h1M520 91.5h1M521 91.5h1M503 92.5h1M520 92.5h1M522 92.5h1M500 93.5h1M522 93.5h1M499 94.5h1M500 94.5h1M502 94.5h1M503 94.5h1M519 94.5h1M494 95.5h1M519 95.5h1M521 95.5h1M519 96.5h1M521 96.5h1M524 97.5h1M501 98.5h1M518 98.5h1M519 98.5h1M523 98.5h1M500 100.5h1M502 100.5h1M505 100.5h1M506 100.5h1M518 100.5h1M505 101.5h1M506 101.5h1M518 101.5h1M520 101.5h1M508 102.5h1M510 103.5h1M501 104.5h1M504 104.5h1M506 104.5h1M509 104.5h1M510 104.5h1M512 104.5h1M513 104.5h1M506 105.5h1M507 105.5h1M511 105.5h1M513 105.5h1M516 105.5h1M504 106.5h1M505 106.5h1M508 106.5h1M511 106.5h1M512 106.5h1M514 106.5h1M515 106.5h1M519 106.5h1M505 107.5h1M510 107.5h1M511 107.5h1M505 108.5h1M515 108.5h1M507 109.5h1M512 109.5h1M516 109.5h1M518 109.5h1M507 110.5h1M509 110.5h1M508 111.5h1M510 111.5h1M511 111.5h1M513 111.5h1M498 112.5h1M500 112.5h1M505 112.5h1M506 112.5h1M507 112.5h1M508 112.5h1M514 112.5h1M517 112.5h1M502 113.5h1M503 113.5h1M512 113.5h1M513 113.5h1M515 113.5h1M501 114.5h1M515 114.5h1M498 115.5h1M500 115.5h1M515 115.5h1M516 115.5h1M499 116.5h1M500 116.5h1M493 118.5h1M497 118.5h1M498 118.5h1M517 118.5h1M519 118.5h1M520 118.5h1M499 119.5h1M516 119.5h1M517 119.5h1M518 119.5h1M520 119.5h1M497 120.5h1M516 120.5h1M499 121.5h1M517 121.5h1M515 122.5h1M516 122.5h1M497 123.5h1M501 123.5h1M514 123.5h1M517 123.5h1M511 124.5h1M515 124.5h1M519 124.5h1M502 125.5h1M505 125.5h1M507 125.5h1M508 125.5h1M510 125.5h1M502 126.5h1M507 126.5h1M508 126.5h1M512 126.5h1M508 127.5h1M521 127.5h1" stroke="#3a3aff" stroke-opacity="0.5" stroke-width="1"/>
<path d="M513 77.5h1M509 78.5h1M513 78.5h1M510 79.5h1M514 79.5h1M515 79.5h1M508 80.5h1M509 80.5h1M512 80.5h1M514 80.5h1M507 81.5h1M509 81.5h1M510 81.5h1M512 81.5h1M514 81.5h1M515 81.5h1M506 82.5h1M508 82.5h1M513 82.5h1M516 82.5h1M517 82.5h1M506 83.5h1M508 83.5h1M509 83.5h1M510 83.5h1M505 84.5h1M506 84.5h1M509 84.5h1M510 84.5h1M513 84.5h1M515 84.5h1M507 85.5h1M508 85.5h1M510 85.5h1M511 85.5h1M512 85.5h1M514 85.5h1M515 85.5h1M516 85.5h1M518 85.5h1M505 86.5h1M506 86.5h1M507 86.5h1M508 86.5h1M509 86.5h1M511 86.5h1M512 86.5h1M515 86.5h1M516 86.5h1M504 87.5h1M505 87.5h1M508 87.5h1M509 87.5h1M511 87.5h1M513 87.5h1M515 87.5h1M516 87.5h1M517 87.5h1M518 87.5h1M507 88.5h1M508 88.5h1M509 88.5h1M510 88.5h1M511 88.5h1M514 88.5h1M515 88.5h1M517 88.5h1M504 89.5h1M505 89.5h1M506 89.5h1M507 89.5h1M511 89.5h1M516 89.5h1M517 89.5h1M506 90.5h1M507 90.5h1M508 90.5h1M509 90.5h1M510 90.5h1M511 90.5h1M513 90.5h1M514 90.5h1M504 91.5h1M505 91.5h1M507 91.5h1M508 91.5h1M517 91.5h1M504 92.5h1M506 92.5h1M507 92.5h1M508 92.5h1M510 92.5h1M512 92.5h1M513 92.5h1M516 92.5h1M507 93.5h1M510 93.5h1M512 93.5h1M514 93.5h1M515 93.5h1M516 93.5h1M505 94.5h1M507 94.5h1M509 94.5h1M510 94.5h1M514 94.5h1M518 94.5h1M505 95.5h1M508 95.5h1M510 95.5h1M511 95.5h1M515 95.5h1M516 95.5h1M506 96.5h1M509 96.5h1M511 96.5h1M512 96.5h1M515 96.5h1M508 97.5h1M511 97.5h1M512 97.5h1M515 97.5h1M517 97.5h1M508 98.5h1M510 98.5h1M511 98.5h1M512 98.5h1M514 98.5h1M507 99.5h1M509 99.5h1M510 99.5h1M512 99.5h1M513 99.5h1M514 99.5h1M515 99.5h1M507 100.5h1M508 100.5h1M510 100.5h1M511 100.5h1M512 100.5h1M513 100.5h1M516 100.5h1M517 100.5h1M508 101.5h1M509 101.5h1M511 101.5h1M513 101.5h1M514 101.5h1M516 101.5h1M509 102.5h1M512 102.5h1M513 102.5h1M513 103.5h1M514 103.5h1M504 113.5h1M505 113.5h1M507 113.5h1M509 113.5h1M503 114.5h1M505 114.5h1M506 114.5h1M507 114.5h1M508 114.5h1M509 114.5h1M512 114.5h1M513 114.5h1M502 115.5h1M509 115.5h1M510 115.5h1M514 115.5h1M501 116.5h1M514 116.5h1M500 117.5h1M501 117.5h1M511 117.5h1M512 117.5h1M513 117.5h1M515 117.5h1M512 118.5h1M514 118.5h1M500 119.5h1M511 119.5h1M512 119.5h1M514 119.5h1M501 120.5h1M511 120.5h1M512 120.5h1M513 121.5h1M501 122.5h1M502 122.5h1M510 122.5h1M511 122.5h1M502 123.5h1M503 123.5h1M504 123.5h1M509 123.5h1M510 123.5h1M506 124.5h1M510 124.5h1" stroke="#2e2eff" stroke-opacity="0.85" stroke-width="1"/>
<path d="M512 78.5h1M511 80.5h1M513 80.5h1M508 81.5h1M511 81.5h1M513 81.5h1M515 82.5h1M515 83.5h1M507 84.5h1M511 84.5h1M512 84.5h1M505 85.5h1M509 85.5h1M513 85.5h1M510 86.5h1M513 86.5h1M514 86.5h1M507 87.5h1M512 87.5h1M514 87.5h1M513 88.5h1M512 89.5h1M513 89.5h1M515 89.5h1M515 90.5h1M510 91.5h1M511 91.5h1M512 91.5h1M515 91.5h1M514 92.5h1M517 92.5h1M505 93.5h1M508 93.5h1M509 93.5h1M511 93.5h1M513 93.5h1M511 94.5h1M512 94.5h1M513 94.5h1M507 95.5h1M509 95.5h1M513 95.5h1M518 95.5h1M508 96.5h1M510 96.5h1M513 96.5h1M510 97.5h1M507 98.5h1M509 98.5h1M516 98.5h1M508 99.5h1M516 99.5h1M504 114.5h1M503 115.5h1M511 115.5h1M510 116.5h1M511 116.5h1M501 118.5h1M513 118.5h1M501 119.5h1M500 120.5h1M501 121.5h1M512 121.5h1M508 123.5h1" stroke="#30c8a0" stroke-opacity=".8" stroke-width="1"/>
<path d="M504 115.5h1M506 115.5h1M502 121.5h1" stroke="#004cff" stroke-width="1"/>
<path d="M507 116.5h1M506 122.5h1" stroke="#0065ff" stroke-width="1"/>
<path d="M508 116.5h1M502 119.5h1M508 122.5h1" stroke="#007fff" stroke-width="1"/>
<path d="M508 115.5h1M503 116.5h1M508 120.5h1" stroke="#0099ff" stroke-width="1"/>
<path d="M510 120.5h1M510 121.5h1M504 122.5h1M509 122.5h1" stroke="#00b2ff" stroke-width="1"/>
<path d="M505 115.5h1M509 117.5h1M510 119.5h1" stroke="#00ccff" stroke-width="1"/>
<path d="M503 121.5h1M506 123.5h1" stroke="#00e5ff" stroke-width="1"/>
<path d="M503 117.5h1M510 117.5h1M503 118.5h1M503 119.5h1M509 119.5h1M509 121.5h1" stroke="#00ffff" stroke-width="1"/>
<path d="M504 116.5h1" stroke="#19ffe5" stroke-width="1"/>
<path d="M507 115.5h1M502 117.5h1M509 120.5h1M505 123.5h1M507 123.5h1" stroke="#32ffcc" stroke-width="1"/>
<path d="M509 116.5h1M507 117.5h1M508 118.5h1M509 118.5h1M510 118.5h1M502 120.5h1M503 120.5h1M503 122.5h1M507 122.5h1" stroke="#4cffb2" stroke-width="1"/>
<path d="M506 116.5h1M508 117.5h1M505 118.5h1M506 120.5h1" stroke="#65ff99" stroke-width="1"/>
<path d="M507 118.5h1M508 121.5h1" stroke="#7fff7f" stroke-width="1"/>
<path d="M505 116.5h1M502 118.5h1M505 119.5h1M507 119.5h1M504 120.5h1M506 121.5h1M507 121.5h1" stroke="#99ff65" stroke-width="1"/>
<path d="M505 121.5h1M505 122.5h1" stroke="#b2ff4c" stroke-width="1"/>
<path d="M504 117.5h1" stroke="#cbff33" stroke-width="1"/>
<path d="M506 117.5h1M508 119.5h1M507 120.5h1" stroke="#e5ff19" stroke-width="1"/>
<path d="M506 119.5h1M504 121.5h1" stroke="#ffff00" stroke-width="1"/>
<path d="M505 117.5h1M504 118.5h1M506 118.5h1M504 119.5h1M505 120.5h1" stroke="#ffe500" stroke-width="1"/>
<rect x="462.5" y="49.6" width="81.1" height="80.4" fill="none" stroke="#8a8a8a" stroke-width="1"/>
<path d="M462.5 57.6h-1.8M462.5 71.3h-1.8M462.5 85h-1.8M462.5 98.6h-1.8M462.5 112.3h-1.8M462.5 126h-1.8M470.5 130v1.8M484.3 130v1.8M498.1 130v1.8M512 130v1.8M525.8 130v1.8M539.6 130v1.8" stroke="#888" stroke-width=".8"/>
<rect x="460.9" y="116" width="2" height="2" fill="#000"/>
<rect x="478.5" y="130.8" width="3" height="1.5" fill="#000"/>
<rect x="502.6" y="65.8" width="21.8" height="42.7" fill="none" stroke="#4a4a4a" stroke-width="1"/>
<rect x="502.6" y="110.3" width="22.6" height="19.3" fill="none" stroke="#8a8a8a" stroke-width="1.2"/>
<path d="M509.6 65.8L509.6 129.6" stroke="#4a4a4a" stroke-width="1"/>
<path d="M515.4 65.8L515.4 129.6" stroke="#4a4a4a" stroke-width="1"/>
<path d="M463.5 110L478.5 110" stroke="#777" stroke-width="2"/>
<path d="M606 61.5h1M595 63.5h1M612 64.5h1M600 67.5h1M597 68.5h1M602 69.5h1M611 69.5h1M605 70.5h1M608 70.5h1M595 71.5h1M606 71.5h1M608 71.5h1M600 72.5h1M602 72.5h1M607 72.5h1M603 73.5h1M604 73.5h1M609 73.5h1M599 74.5h1M601 74.5h1M604 74.5h1M606 74.5h1M612 74.5h1M599 75.5h1M603 75.5h1M605 75.5h1M607 75.5h1M594 76.5h1M597 76.5h1M602 76.5h1M605 76.5h1M606 76.5h1M612 76.5h1M597 77.5h1M598 77.5h1M601 77.5h1M606 77.5h1M607 77.5h1M608 77.5h1M615 77.5h1M595 78.5h1M597 78.5h1M599 78.5h1M609 78.5h1M612 78.5h1M614 78.5h1M597 79.5h1M598 79.5h1M608 79.5h1M614 79.5h1M594 80.5h1M595 80.5h1M596 80.5h1M609 80.5h1M610 80.5h1M611 80.5h1M597 81.5h1M610 81.5h1M589 82.5h1M593 82.5h1M594 82.5h1M597 82.5h1M610 82.5h1M611 82.5h1M613 82.5h1M616 82.5h1M589 83.5h1M593 83.5h1M594 83.5h1M595 83.5h1M611 83.5h1M595 84.5h1M596 84.5h1M611 84.5h1M613 84.5h1M595 85.5h1M596 85.5h1M611 85.5h1M595 86.5h1M611 87.5h1M594 88.5h1M611 88.5h1M593 89.5h1M594 89.5h1M595 89.5h1M611 89.5h1M614 89.5h1M611 90.5h1M593 91.5h1M612 91.5h1M613 91.5h1M615 91.5h1M594 92.5h1M611 92.5h1M612 92.5h1M613 92.5h1M611 93.5h1M595 94.5h1M613 94.5h1M614 94.5h1M617 94.5h1M591 95.5h1M594 95.5h1M611 95.5h1M613 95.5h1M594 96.5h1M595 96.5h1M596 96.5h1M614 96.5h1M615 96.5h1M597 97.5h1M611 97.5h1M612 97.5h1M595 98.5h1M610 98.5h1M611 98.5h1M595 99.5h1M597 99.5h1M612 99.5h1M597 100.5h1M596 101.5h1M599 101.5h1M610 101.5h1M595 102.5h1M600 102.5h1M608 102.5h1M594 103.5h1M596 103.5h1M601 103.5h1M602 103.5h1M608 103.5h1M609 103.5h1M604 104.5h1M605 104.5h1M607 104.5h1M611 104.5h1M613 104.5h1M596 105.5h1M599 105.5h1M603 105.5h1M606 105.5h1M607 105.5h1M616 105.5h1M597 106.5h1M599 106.5h1M600 106.5h1M601 106.5h1M604 106.5h1M605 106.5h1M607 106.5h1M610 106.5h1M600 107.5h1M605 107.5h1M606 107.5h1M599 108.5h1M601 108.5h1M603 108.5h1M606 108.5h1M602 109.5h1M604 109.5h1M605 109.5h1M597 110.5h1M601 110.5h1M604 110.5h1M606 110.5h1M607 110.5h1M602 111.5h1M603 111.5h1M595 112.5h1M596 112.5h1M602 112.5h1M603 112.5h1M604 112.5h1M606 112.5h1M607 112.5h1M589 113.5h1M593 113.5h1M594 113.5h1M603 113.5h1M607 113.5h1M613 113.5h1M594 114.5h1M595 114.5h1M610 114.5h1M611 114.5h1M593 115.5h1M594 115.5h1M607 115.5h1M611 115.5h1M590 116.5h1M592 116.5h1M608 116.5h1M613 116.5h1M591 117.5h1M592 117.5h1M609 117.5h1M610 117.5h1M611 117.5h1M592 118.5h1M609 118.5h1M610 118.5h1M592 119.5h1M609 119.5h1M611 119.5h1M589 120.5h1M591 120.5h1M609 120.5h1M610 120.5h1M591 121.5h1M608 121.5h1M610 121.5h1M590 122.5h1M608 122.5h1M609 122.5h1M589 123.5h1M592 123.5h1M607 123.5h1M596 125.5h1M609 125.5h1M600 126.5h1M605 126.5h1M601 127.5h1M599 128.5h1M593 129.5h1M608 129.5h1" stroke="#3a3aff" stroke-opacity="0.5" stroke-width="1"/>
<path d="M602 77.5h1M603 77.5h1M600 78.5h1M603 78.5h1M605 78.5h1M607 78.5h1M600 79.5h1M605 79.5h1M606 79.5h1M599 80.5h1M600 80.5h1M601 80.5h1M602 80.5h1M603 80.5h1M604 80.5h1M605 80.5h1M608 80.5h1M601 81.5h1M602 81.5h1M603 81.5h1M605 81.5h1M598 82.5h1M599 82.5h1M602 82.5h1M603 82.5h1M604 82.5h1M608 82.5h1M597 83.5h1M598 83.5h1M599 83.5h1M604 83.5h1M606 83.5h1M608 83.5h1M609 83.5h1M597 84.5h1M599 84.5h1M600 84.5h1M602 84.5h1M603 84.5h1M606 84.5h1M610 84.5h1M597 85.5h1M600 85.5h1M601 85.5h1M602 85.5h1M604 85.5h1M608 85.5h1M610 85.5h1M599 86.5h1M601 86.5h1M605 86.5h1M606 86.5h1M607 86.5h1M608 86.5h1M596 87.5h1M598 87.5h1M599 87.5h1M600 87.5h1M601 87.5h1M602 87.5h1M603 87.5h1M604 87.5h1M606 87.5h1M607 87.5h1M608 87.5h1M596 88.5h1M598 88.5h1M601 88.5h1M602 88.5h1M603 88.5h1M604 88.5h1M607 88.5h1M610 88.5h1M596 89.5h1M600 89.5h1M601 89.5h1M604 89.5h1M605 89.5h1M606 89.5h1M607 89.5h1M608 89.5h1M609 89.5h1M600 90.5h1M602 90.5h1M603 90.5h1M604 90.5h1M607 90.5h1M610 90.5h1M596 91.5h1M598 91.5h1M599 91.5h1M601 91.5h1M603 91.5h1M604 91.5h1M606 91.5h1M607 91.5h1M610 91.5h1M596 92.5h1M597 92.5h1M598 92.5h1M599 92.5h1M600 92.5h1M601 92.5h1M602 92.5h1M604 92.5h1M605 92.5h1M606 92.5h1M607 92.5h1M608 92.5h1M610 92.5h1M599 93.5h1M600 93.5h1M601 93.5h1M602 93.5h1M603 93.5h1M604 93.5h1M605 93.5h1M607 93.5h1M608 93.5h1M610 93.5h1M598 94.5h1M599 94.5h1M602 94.5h1M606 94.5h1M607 94.5h1M610 94.5h1M597 95.5h1M599 95.5h1M601 95.5h1M604 95.5h1M605 95.5h1M607 95.5h1M608 95.5h1M609 95.5h1M599 96.5h1M603 96.5h1M604 96.5h1M605 96.5h1M606 96.5h1M607 96.5h1M609 96.5h1M603 97.5h1M604 97.5h1M607 97.5h1M608 97.5h1M610 97.5h1M599 98.5h1M600 98.5h1M601 98.5h1M602 98.5h1M603 98.5h1M605 98.5h1M606 98.5h1M607 98.5h1M609 98.5h1M599 99.5h1M602 99.5h1M604 99.5h1M607 99.5h1M609 99.5h1M599 100.5h1M602 100.5h1M603 100.5h1M605 100.5h1M606 100.5h1M609 100.5h1M603 102.5h1M605 102.5h1M606 102.5h1M604 103.5h1M605 103.5h1M599 113.5h1M597 114.5h1M599 114.5h1M601 114.5h1M603 114.5h1M604 114.5h1M596 115.5h1M597 115.5h1M599 115.5h1M600 115.5h1M603 115.5h1M604 115.5h1M605 115.5h1M594 116.5h1M595 116.5h1M603 116.5h1M604 117.5h1M605 117.5h1M593 118.5h1M594 118.5h1M604 118.5h1M605 118.5h1M606 118.5h1M594 119.5h1M606 119.5h1M607 119.5h1M608 119.5h1M593 120.5h1M594 120.5h1M605 120.5h1M606 120.5h1M607 120.5h1M594 121.5h1M605 121.5h1M607 121.5h1M595 122.5h1M603 122.5h1M604 122.5h1M595 123.5h1M596 123.5h1M603 123.5h1M604 123.5h1M597 124.5h1M598 124.5h1M599 124.5h1M600 124.5h1M603 124.5h1M604 124.5h1" stroke="#2e2eff" stroke-opacity="0.85" stroke-width="1"/>
<path d="M601 82.5h1M602 83.5h1M605 83.5h1M601 84.5h1M604 84.5h1M605 84.5h1M599 85.5h1M607 85.5h1M600 86.5h1M602 86.5h1M603 86.5h1M604 86.5h1M609 87.5h1M606 88.5h1M599 89.5h1M602 89.5h1M603 89.5h1M597 90.5h1M598 90.5h1M605 90.5h1M606 90.5h1M609 90.5h1M605 91.5h1M609 92.5h1M609 93.5h1M603 94.5h1M604 94.5h1M605 94.5h1M600 95.5h1M603 99.5h1M603 101.5h1M606 101.5h1M598 115.5h1M595 117.5h1M607 118.5h1M604 121.5h1M601 124.5h1" stroke="#30c8a0" stroke-opacity=".8" stroke-width="1"/>
<path d="M601 116.5h1M595 118.5h1M603 118.5h1M603 121.5h1M596 122.5h1M602 122.5h1M601 123.5h1" stroke="#004cff" stroke-width="1"/>
<path d="M602 117.5h1" stroke="#0065ff" stroke-width="1"/>
<path d="M602 116.5h1M598 123.5h1" stroke="#007fff" stroke-width="1"/>
<path d="M595 119.5h1" stroke="#0099ff" stroke-width="1"/>
<path d="M596 116.5h1M601 117.5h1" stroke="#00b2ff" stroke-width="1"/>
<path d="M600 116.5h1M596 117.5h1M595 120.5h1M597 123.5h1M600 123.5h1" stroke="#00ccff" stroke-width="1"/>
<path d="M597 117.5h1M597 122.5h1" stroke="#00ffff" stroke-width="1"/>
<path d="M602 118.5h1" stroke="#19ffe5" stroke-width="1"/>
<path d="M597 116.5h1M599 116.5h1M603 117.5h1M597 119.5h1M603 120.5h1" stroke="#32ffcc" stroke-width="1"/>
<path d="M599 117.5h1M596 118.5h1M601 118.5h1M602 119.5h1M597 120.5h1" stroke="#65ff99" stroke-width="1"/>
<path d="M603 119.5h1M596 120.5h1M600 120.5h1" stroke="#7fff7f" stroke-width="1"/>
<path d="M598 116.5h1M600 119.5h1M595 121.5h1M599 121.5h1M601 121.5h1M599 122.5h1" stroke="#99ff65" stroke-width="1"/>
<path d="M600 118.5h1M599 119.5h1M601 119.5h1M600 122.5h1" stroke="#b2ff4c" stroke-width="1"/>
<path d="M600 117.5h1M597 118.5h1M596 119.5h1M597 121.5h1M598 122.5h1M599 123.5h1" stroke="#cbff33" stroke-width="1"/>
<path d="M598 120.5h1M602 120.5h1M596 121.5h1M598 121.5h1M601 122.5h1" stroke="#e5ff19" stroke-width="1"/>
<path d="M598 117.5h1M598 118.5h1M599 118.5h1M598 119.5h1M599 120.5h1M601 120.5h1M600 121.5h1M602 121.5h1" stroke="#ffe500" stroke-width="1"/>
<rect x="555.6" y="49.6" width="81.4" height="80.4" fill="none" stroke="#8a8a8a" stroke-width="1"/>
<path d="M555.6 57.6h-1.8M555.6 71.3h-1.8M555.6 85h-1.8M555.6 98.6h-1.8M555.6 112.3h-1.8M555.6 126h-1.8M563.6 130v1.8M577.5 130v1.8M591.4 130v1.8M605.2 130v1.8M619.1 130v1.8M633 130v1.8" stroke="#888" stroke-width=".8"/>
<rect x="554" y="116" width="2" height="2" fill="#000"/>
<rect x="571.6" y="130.8" width="3" height="1.5" fill="#000"/>
<rect x="595.6" y="65.8" width="22" height="42.7" fill="none" stroke="#4a4a4a" stroke-width="1"/>
<rect x="595.6" y="110.3" width="22.8" height="19.3" fill="none" stroke="#8a8a8a" stroke-width="1.2"/>
<path d="M603.6 65.8L603.6 129.6" stroke="#4a4a4a" stroke-width="1"/>
<path d="M608.6 65.8L608.6 129.6" stroke="#4a4a4a" stroke-width="1"/>
<path d="M556.6 110L571.6 110" stroke="#777" stroke-width="2"/>
<path d="M406 150.5h1M393 154.5h1M397 155.5h1M378 158.5h1M400 158.5h1M406 158.5h1M394 160.5h1M399 160.5h1M400 160.5h1M404 160.5h1M408 160.5h1M410 160.5h1M391 162.5h1M400 162.5h1M404 162.5h1M412 162.5h1M413 162.5h1M386 163.5h1M388 163.5h1M391 163.5h1M399 163.5h1M403 163.5h1M404 163.5h1M382 164.5h1M388 164.5h1M389 164.5h1M391 164.5h1M395 164.5h1M401 164.5h1M403 164.5h1M407 164.5h1M417 164.5h1M390 165.5h1M395 165.5h1M398 165.5h1M399 165.5h1M400 165.5h1M402 165.5h1M406 165.5h1M409 165.5h1M411 165.5h1M395 166.5h1M404 166.5h1M405 166.5h1M389 167.5h1M391 167.5h1M393 167.5h1M404 167.5h1M406 167.5h1M412 167.5h1M390 168.5h1M391 168.5h1M393 168.5h1M409 168.5h1M411 168.5h1M416 168.5h1M388 169.5h1M389 169.5h1M390 169.5h1M392 169.5h1M415 169.5h1M417 169.5h1M423 169.5h1M386 170.5h1M388 170.5h1M391 170.5h1M406 170.5h1M407 170.5h1M408 170.5h1M387 171.5h1M391 171.5h1M407 171.5h1M409 171.5h1M408 172.5h1M412 172.5h1M417 172.5h1M381 173.5h1M388 173.5h1M385 174.5h1M409 174.5h1M412 174.5h1M410 175.5h1M417 175.5h1M411 176.5h1M412 176.5h1M414 176.5h1M418 176.5h1M409 177.5h1M412 177.5h1M413 177.5h1M414 177.5h1M389 178.5h1M416 178.5h1M388 179.5h1M415 179.5h1M387 180.5h1M389 180.5h1M410 180.5h1M424 180.5h1M389 181.5h1M387 182.5h1M410 182.5h1M411 182.5h1M386 183.5h1M390 183.5h1M415 183.5h1M383 184.5h1M412 184.5h1M388 185.5h1M409 185.5h1M410 185.5h1M409 186.5h1M410 186.5h1M408 187.5h1M414 187.5h1M415 187.5h1M391 188.5h1M409 188.5h1M385 189.5h1M388 189.5h1M414 189.5h1M415 189.5h1M389 190.5h1M392 190.5h1M393 190.5h1M407 190.5h1M413 190.5h1M391 191.5h1M394 191.5h1M406 191.5h1M407 191.5h1M410 191.5h1M411 191.5h1M412 191.5h1M392 192.5h1M395 192.5h1M404 192.5h1M405 192.5h1M406 192.5h1M407 192.5h1M408 192.5h1M409 192.5h1M391 193.5h1M392 193.5h1M394 193.5h1M396 193.5h1M404 193.5h1M407 193.5h1M387 194.5h1M388 194.5h1M390 194.5h1M394 194.5h1M396 194.5h1M398 194.5h1M403 194.5h1M412 194.5h1M388 195.5h1M389 195.5h1M394 195.5h1M398 195.5h1M403 195.5h1M411 195.5h1M382 196.5h1M400 196.5h1M412 196.5h1M416 196.5h1M396 197.5h1M397 197.5h1M401 197.5h1M407 197.5h1M409 197.5h1M387 198.5h1M391 198.5h1M395 198.5h1M396 198.5h1M400 198.5h1M407 198.5h1M396 199.5h1M397 199.5h1M398 199.5h1M402 199.5h1M409 199.5h1M416 199.5h1M393 200.5h1M394 200.5h1M398 200.5h1M401 200.5h1M405 201.5h1M393 203.5h1M399 203.5h1M404 203.5h1M419 203.5h1M403 204.5h1M395 205.5h1M401 205.5h1M404 205.5h1M408 205.5h1M394 206.5h1M400 206.5h1M405 206.5h1M410 206.5h1M391 207.5h1M409 207.5h1M410 207.5h1M410 208.5h1M414 208.5h1M384 209.5h1M412 209.5h1M414 209.5h1M384 210.5h1M413 210.5h1M417 210.5h1M383 212.5h1M413 212.5h1M381 213.5h1M383 213.5h1M414 213.5h1M418 213.5h1M381 214.5h1M413 214.5h1M415 214.5h1M384 215.5h1M415 215.5h1M417 215.5h1M384 216.5h1M412 216.5h1M413 216.5h1M384 217.5h1M412 217.5h1M414 217.5h1M422 217.5h1M384 218.5h1M386 218.5h1M409 218.5h1M410 218.5h1M415 218.5h1M423 218.5h1M389 219.5h1M408 219.5h1M409 219.5h1M410 219.5h1M413 219.5h1M389 220.5h1M390 220.5h1M391 220.5h1M392 220.5h1M408 220.5h1M410 220.5h1M411 220.5h1M400 221.5h1M402 221.5h1M405 221.5h1M409 221.5h1M400 222.5h1M401 222.5h1M409 222.5h1M410 222.5h1M411 222.5h1M414 222.5h1M395 223.5h1M408 223.5h1M419 223.5h1" stroke="#3a3aff" stroke-opacity="0.5" stroke-width="1"/>
<path d="M397 166.5h1M399 166.5h1M399 167.5h1M400 167.5h1M394 168.5h1M404 168.5h1M396 169.5h1M400 169.5h1M403 169.5h1M393 170.5h1M394 170.5h1M395 170.5h1M398 170.5h1M401 170.5h1M402 170.5h1M403 170.5h1M392 171.5h1M394 171.5h1M396 171.5h1M397 171.5h1M398 171.5h1M400 171.5h1M402 171.5h1M403 171.5h1M404 171.5h1M406 171.5h1M393 172.5h1M395 172.5h1M396 172.5h1M397 172.5h1M399 172.5h1M401 172.5h1M403 172.5h1M404 172.5h1M407 172.5h1M391 173.5h1M394 173.5h1M397 173.5h1M398 173.5h1M400 173.5h1M401 173.5h1M403 173.5h1M406 173.5h1M392 174.5h1M393 174.5h1M396 174.5h1M397 174.5h1M398 174.5h1M399 174.5h1M400 174.5h1M403 174.5h1M404 174.5h1M406 174.5h1M390 175.5h1M391 175.5h1M393 175.5h1M396 175.5h1M397 175.5h1M398 175.5h1M399 175.5h1M400 175.5h1M401 175.5h1M402 175.5h1M404 175.5h1M407 175.5h1M395 176.5h1M396 176.5h1M398 176.5h1M399 176.5h1M400 176.5h1M401 176.5h1M402 176.5h1M403 176.5h1M404 176.5h1M407 176.5h1M393 177.5h1M394 177.5h1M395 177.5h1M396 177.5h1M399 177.5h1M400 177.5h1M401 177.5h1M402 177.5h1M404 177.5h1M407 177.5h1M392 178.5h1M393 178.5h1M395 178.5h1M396 178.5h1M397 178.5h1M398 178.5h1M399 178.5h1M400 178.5h1M401 178.5h1M403 178.5h1M405 178.5h1M407 178.5h1M408 178.5h1M392 179.5h1M393 179.5h1M394 179.5h1M395 179.5h1M396 179.5h1M397 179.5h1M398 179.5h1M399 179.5h1M400 179.5h1M401 179.5h1M403 179.5h1M405 179.5h1M406 179.5h1M407 179.5h1M408 179.5h1M409 179.5h1M390 180.5h1M393 180.5h1M394 180.5h1M395 180.5h1M399 180.5h1M401 180.5h1M402 180.5h1M406 180.5h1M390 181.5h1M394 181.5h1M395 181.5h1M396 181.5h1M397 181.5h1M399 181.5h1M401 181.5h1M402 181.5h1M403 181.5h1M405 181.5h1M406 181.5h1M409 181.5h1M393 182.5h1M395 182.5h1M397 182.5h1M398 182.5h1M399 182.5h1M401 182.5h1M402 182.5h1M405 182.5h1M407 182.5h1M409 182.5h1M391 183.5h1M397 183.5h1M399 183.5h1M402 183.5h1M408 183.5h1M392 184.5h1M393 184.5h1M395 184.5h1M396 184.5h1M397 184.5h1M398 184.5h1M399 184.5h1M400 184.5h1M401 184.5h1M402 184.5h1M403 184.5h1M404 184.5h1M406 184.5h1M407 184.5h1M391 185.5h1M393 185.5h1M396 185.5h1M398 185.5h1M399 185.5h1M400 185.5h1M405 185.5h1M406 185.5h1M392 186.5h1M393 186.5h1M395 186.5h1M397 186.5h1M399 186.5h1M400 186.5h1M402 186.5h1M405 186.5h1M406 186.5h1M407 186.5h1M394 187.5h1M395 187.5h1M396 187.5h1M397 187.5h1M399 187.5h1M401 187.5h1M403 187.5h1M405 187.5h1M392 188.5h1M395 188.5h1M397 188.5h1M398 188.5h1M399 188.5h1M405 188.5h1M407 188.5h1M393 189.5h1M394 189.5h1M395 189.5h1M396 189.5h1M398 189.5h1M400 189.5h1M402 189.5h1M405 189.5h1M406 189.5h1M395 190.5h1M396 190.5h1M397 190.5h1M400 190.5h1M402 190.5h1M403 190.5h1M396 191.5h1M403 191.5h1M405 191.5h1M401 192.5h1M398 193.5h1M399 193.5h1M401 193.5h1M393 207.5h1M397 207.5h1M402 207.5h1M406 207.5h1M390 208.5h1M391 208.5h1M392 208.5h1M393 208.5h1M400 208.5h1M404 208.5h1M406 208.5h1M407 208.5h1M387 209.5h1M389 209.5h1M405 209.5h1M407 209.5h1M409 209.5h1M410 209.5h1M387 210.5h1M405 210.5h1M407 210.5h1M385 211.5h1M386 211.5h1M407 211.5h1M410 211.5h1M412 211.5h1M385 212.5h1M386 212.5h1M407 212.5h1M408 212.5h1M409 212.5h1M384 213.5h1M385 213.5h1M412 213.5h1M385 214.5h1M408 214.5h1M410 214.5h1M385 215.5h1M386 215.5h1M407 215.5h1M409 215.5h1M411 215.5h1M385 216.5h1M407 216.5h1M411 216.5h1M387 217.5h1M405 217.5h1M407 217.5h1M408 217.5h1M409 217.5h1M389 218.5h1M403 218.5h1M404 218.5h1M406 218.5h1M407 218.5h1M390 219.5h1M391 219.5h1M392 219.5h1M398 219.5h1M402 219.5h1M404 219.5h1M395 220.5h1M397 220.5h1M399 220.5h1M400 220.5h1" stroke="#2e2eff" stroke-opacity="0.85" stroke-width="1"/>
<path d="M397 167.5h1M401 168.5h1M394 169.5h1M398 169.5h1M397 170.5h1M398 172.5h1M393 173.5h1M399 173.5h1M395 174.5h1M401 174.5h1M395 175.5h1M391 177.5h1M392 177.5h1M403 177.5h1M406 177.5h1M394 178.5h1M402 178.5h1M404 178.5h1M402 179.5h1M392 180.5h1M396 180.5h1M397 180.5h1M408 181.5h1M394 182.5h1M400 182.5h1M392 183.5h1M396 183.5h1M400 183.5h1M401 183.5h1M404 183.5h1M403 185.5h1M404 185.5h1M394 186.5h1M400 187.5h1M400 188.5h1M402 188.5h1M403 188.5h1M397 191.5h1M399 192.5h1M403 207.5h1M401 208.5h1M402 208.5h1M403 208.5h1M404 209.5h1M406 210.5h1M408 211.5h1M408 213.5h1M409 213.5h1M410 213.5h1M409 214.5h1M393 219.5h1M399 219.5h1M400 219.5h1M401 219.5h1M398 220.5h1" stroke="#30c8a0" stroke-opacity=".8" stroke-width="1"/>
<path d="M394 208.5h1M395 208.5h1M397 208.5h1M398 208.5h1M390 209.5h1M402 209.5h1M387 212.5h1M406 213.5h1M407 213.5h1M407 214.5h1M388 217.5h1M403 217.5h1M390 218.5h1M402 218.5h1M395 219.5h1M397 219.5h1" stroke="#0032ff" stroke-width="1"/>
<path d="M404 211.5h1M390 217.5h1M401 218.5h1" stroke="#004cff" stroke-width="1"/>
<path d="M388 210.5h1M389 210.5h1M406 212.5h1M386 214.5h1M387 215.5h1M405 216.5h1M389 217.5h1M402 217.5h1" stroke="#0065ff" stroke-width="1"/>
<path d="M396 208.5h1M399 208.5h1M393 209.5h1M405 211.5h1M404 212.5h1M405 214.5h1M389 216.5h1M397 218.5h1M400 218.5h1" stroke="#007fff" stroke-width="1"/>
<path d="M391 209.5h1M392 209.5h1M401 209.5h1M403 209.5h1M403 210.5h1M387 211.5h1M386 213.5h1M406 214.5h1M406 215.5h1M387 216.5h1M393 218.5h1" stroke="#0099ff" stroke-width="1"/>
<path d="M404 210.5h1M388 211.5h1M387 213.5h1M399 218.5h1M396 219.5h1" stroke="#00b2ff" stroke-width="1"/>
<path d="M406 211.5h1M404 213.5h1M405 213.5h1M403 216.5h1M392 218.5h1M396 218.5h1" stroke="#00ccff" stroke-width="1"/>
<path d="M394 209.5h1M396 209.5h1M391 210.5h1M399 210.5h1M402 210.5h1M405 212.5h1M390 216.5h1M404 216.5h1M391 217.5h1M401 217.5h1M394 218.5h1" stroke="#00e5ff" stroke-width="1"/>
<path d="M397 209.5h1M399 209.5h1M400 209.5h1M390 210.5h1M388 212.5h1M387 214.5h1M388 215.5h1M405 215.5h1M388 216.5h1M400 217.5h1M404 217.5h1" stroke="#00ffff" stroke-width="1"/>
<path d="M398 209.5h1M398 210.5h1M390 211.5h1M401 211.5h1M403 211.5h1M389 212.5h1M403 212.5h1M399 217.5h1M391 218.5h1M395 218.5h1" stroke="#19ffe5" stroke-width="1"/>
<path d="M395 209.5h1M393 210.5h1M394 210.5h1M401 210.5h1M403 215.5h1M402 216.5h1M395 217.5h1M398 218.5h1" stroke="#32ffcc" stroke-width="1"/>
<path d="M397 210.5h1M400 210.5h1M400 211.5h1M388 214.5h1M403 214.5h1M389 215.5h1M390 215.5h1M404 215.5h1" stroke="#4cffb2" stroke-width="1"/>
<path d="M392 210.5h1M396 210.5h1M391 211.5h1M393 211.5h1M402 211.5h1M390 212.5h1M399 212.5h1M401 213.5h1M400 216.5h1M393 217.5h1" stroke="#65ff99" stroke-width="1"/>
<path d="M389 211.5h1M392 211.5h1M388 213.5h1M389 214.5h1M401 214.5h1M404 214.5h1M401 215.5h1M402 215.5h1M391 216.5h1M392 216.5h1M401 216.5h1M397 217.5h1M398 217.5h1" stroke="#7fff7f" stroke-width="1"/>
<path d="M403 213.5h1M393 216.5h1M396 216.5h1M392 217.5h1" stroke="#99ff65" stroke-width="1"/>
<path d="M390 213.5h1M402 213.5h1M390 214.5h1M402 214.5h1M396 217.5h1" stroke="#b2ff4c" stroke-width="1"/>
<path d="M394 211.5h1M395 211.5h1M402 212.5h1M400 213.5h1M398 214.5h1M399 214.5h1M391 215.5h1M392 215.5h1M393 215.5h1M400 215.5h1M398 216.5h1" stroke="#cbff33" stroke-width="1"/>
<path d="M395 210.5h1M399 211.5h1M391 212.5h1M400 212.5h1M389 213.5h1M391 213.5h1M391 214.5h1M400 214.5h1M394 215.5h1M399 215.5h1M397 216.5h1" stroke="#e5ff19" stroke-width="1"/>
<path d="M397 211.5h1M401 212.5h1M398 215.5h1M394 216.5h1M399 216.5h1M394 217.5h1" stroke="#ffff00" stroke-width="1"/>
<path d="M396 211.5h1M397 212.5h1M395 215.5h1M397 215.5h1" stroke="#ffe500" stroke-width="1"/>
<path d="M398 211.5h1" stroke="#ffcb00" stroke-width="1"/>
<path d="M398 213.5h1M392 214.5h1M395 214.5h1M396 214.5h1M396 215.5h1" stroke="#ffb200" stroke-width="1"/>
<path d="M392 212.5h1M395 213.5h1M393 214.5h1M395 216.5h1" stroke="#ff9900" stroke-width="1"/>
<path d="M394 212.5h1M394 213.5h1" stroke="#ff7f00" stroke-width="1"/>
<path d="M393 212.5h1M398 212.5h1" stroke="#ff6500" stroke-width="1"/>
<path d="M395 212.5h1M396 213.5h1" stroke="#ff3300" stroke-width="1"/>
<path d="M396 212.5h1M392 213.5h1M393 213.5h1M397 213.5h1M399 213.5h1M394 214.5h1M397 214.5h1" stroke="#ff1900" stroke-width="1"/>
<rect x="368.5" y="143.6" width="81" height="80.4" fill="none" stroke="#8a8a8a" stroke-width="1"/>
<path d="M368.5 151.6h-1.8M368.5 165.3h-1.8M368.5 179h-1.8M368.5 192.6h-1.8M368.5 206.3h-1.8M368.5 220h-1.8M376.5 224v1.8M390.3 224v1.8M404.1 224v1.8M417.9 224v1.8M431.7 224v1.8M445.5 224v1.8" stroke="#888" stroke-width=".8"/>
<rect x="366.9" y="210" width="2" height="2" fill="#000"/>
<rect x="384.5" y="224.8" width="3" height="1.5" fill="#000"/>
<rect x="388" y="160" width="42.6" height="43" fill="none" stroke="#4a4a4a" stroke-width="1"/>
<rect x="388" y="205" width="43.4" height="18.6" fill="none" stroke="#8a8a8a" stroke-width="1.2"/>
<path d="M396 160L396 223.6" stroke="#4a4a4a" stroke-width="1"/>
<path d="M402.6 160L402.6 223.6" stroke="#4a4a4a" stroke-width="1"/>
<path d="M409 160L409 223.6" stroke="#4a4a4a" stroke-width="1"/>
<path d="M416 160L416 223.6" stroke="#4a4a4a" stroke-width="1"/>
<path d="M421.4 160L421.4 223.6" stroke="#4a4a4a" stroke-width="1"/>
<path d="M369.5 204.2L384.5 204.2" stroke="#111" stroke-width="1"/>
<path d="M517 149.5h1M509 152.5h1M516 157.5h1M511 160.5h1M507 161.5h1M500 162.5h1M503 162.5h1M506 163.5h1M509 163.5h1M512 163.5h1M521 163.5h1M522 163.5h1M507 164.5h1M512 164.5h1M495 165.5h1M505 165.5h1M506 165.5h1M507 165.5h1M522 165.5h1M523 165.5h1M535 165.5h1M497 166.5h1M499 166.5h1M503 166.5h1M507 166.5h1M508 166.5h1M509 166.5h1M510 166.5h1M514 166.5h1M500 167.5h1M504 167.5h1M506 167.5h1M507 167.5h1M508 167.5h1M511 167.5h1M513 167.5h1M514 167.5h1M516 167.5h1M498 168.5h1M501 168.5h1M504 168.5h1M507 168.5h1M509 168.5h1M518 168.5h1M523 168.5h1M499 169.5h1M501 169.5h1M503 169.5h1M504 169.5h1M506 169.5h1M508 169.5h1M509 169.5h1M513 169.5h1M514 169.5h1M515 169.5h1M486 170.5h1M498 170.5h1M502 170.5h1M503 170.5h1M512 170.5h1M496 171.5h1M499 171.5h1M515 171.5h1M499 172.5h1M492 173.5h1M494 173.5h1M495 173.5h1M499 173.5h1M516 173.5h1M517 173.5h1M522 173.5h1M529 173.5h1M493 174.5h1M498 174.5h1M517 174.5h1M519 174.5h1M520 174.5h1M533 174.5h1M489 175.5h1M497 175.5h1M517 175.5h1M518 175.5h1M519 175.5h1M520 175.5h1M523 175.5h1M496 176.5h1M520 176.5h1M521 176.5h1M523 176.5h1M525 176.5h1M494 177.5h1M497 177.5h1M518 177.5h1M519 177.5h1M522 177.5h1M489 178.5h1M493 178.5h1M494 178.5h1M519 178.5h1M521 178.5h1M491 179.5h1M494 179.5h1M495 179.5h1M519 179.5h1M530 179.5h1M494 180.5h1M522 180.5h1M496 181.5h1M519 181.5h1M523 181.5h1M524 181.5h1M490 182.5h1M492 182.5h1M521 182.5h1M523 182.5h1M494 183.5h1M495 184.5h1M496 184.5h1M519 184.5h1M522 184.5h1M525 184.5h1M486 185.5h1M491 185.5h1M519 185.5h1M520 185.5h1M524 185.5h1M487 186.5h1M494 186.5h1M519 186.5h1M521 186.5h1M523 186.5h1M526 186.5h1M491 187.5h1M521 187.5h1M522 187.5h1M524 187.5h1M492 188.5h1M518 188.5h1M522 188.5h1M525 188.5h1M526 188.5h1M489 189.5h1M493 189.5h1M494 189.5h1M496 189.5h1M497 189.5h1M518 189.5h1M519 189.5h1M520 189.5h1M524 189.5h1M490 190.5h1M491 190.5h1M492 190.5h1M496 190.5h1M497 190.5h1M518 190.5h1M519 190.5h1M521 190.5h1M492 191.5h1M495 191.5h1M517 191.5h1M518 191.5h1M521 191.5h1M494 192.5h1M498 192.5h1M517 192.5h1M496 193.5h1M517 193.5h1M518 193.5h1M519 193.5h1M520 193.5h1M486 194.5h1M487 194.5h1M494 194.5h1M495 194.5h1M497 194.5h1M498 194.5h1M515 194.5h1M517 194.5h1M518 194.5h1M522 194.5h1M498 195.5h1M499 195.5h1M501 195.5h1M516 195.5h1M517 195.5h1M520 195.5h1M500 196.5h1M501 196.5h1M512 196.5h1M513 196.5h1M518 196.5h1M521 196.5h1M492 197.5h1M496 197.5h1M504 197.5h1M505 197.5h1M507 197.5h1M508 197.5h1M510 197.5h1M521 197.5h1M526 197.5h1M502 198.5h1M503 198.5h1M507 198.5h1M508 198.5h1M509 198.5h1M511 198.5h1M512 198.5h1M516 198.5h1M517 198.5h1M523 198.5h1M496 199.5h1M506 199.5h1M507 199.5h1M511 199.5h1M513 199.5h1M514 199.5h1M518 199.5h1M526 199.5h1M498 200.5h1M505 200.5h1M506 200.5h1M515 200.5h1M525 200.5h1M488 201.5h1M496 201.5h1M509 201.5h1M517 201.5h1M525 201.5h1M496 202.5h1M507 202.5h1M491 203.5h1M493 203.5h1M504 203.5h1M508 203.5h1M520 203.5h1M521 203.5h1M522 203.5h1M484 204.5h1M496 204.5h1M502 204.5h1M505 204.5h1M506 204.5h1M507 204.5h1M514 204.5h1M522 204.5h1M523 204.5h1M482 205.5h1M486 205.5h1M487 205.5h1M488 205.5h1M493 205.5h1M497 205.5h1M498 205.5h1M501 205.5h1M508 205.5h1M515 205.5h1M500 206.5h1M507 206.5h1M510 206.5h1M512 206.5h1M481 207.5h1M482 208.5h1M507 208.5h1M510 208.5h1M479 209.5h1M510 209.5h1M513 209.5h1M477 210.5h1M508 210.5h1M521 210.5h1M476 211.5h1M477 211.5h1M509 211.5h1M510 211.5h1M511 211.5h1M515 211.5h1M476 212.5h1M477 212.5h1M511 212.5h1M478 213.5h1M510 213.5h1M511 213.5h1M512 213.5h1M472 214.5h1M474 214.5h1M478 214.5h1M509 214.5h1M511 214.5h1M512 214.5h1M513 214.5h1M514 214.5h1M477 215.5h1M478 216.5h1M479 216.5h1M509 216.5h1M510 216.5h1M480 217.5h1M513 217.5h1M503 218.5h1M504 218.5h1M506 218.5h1M507 218.5h1M513 218.5h1M481 219.5h1M500 219.5h1M501 219.5h1M507 219.5h1M508 219.5h1M478 220.5h1M494 220.5h1M495 220.5h1M496 220.5h1M499 220.5h1M500 220.5h1M503 220.5h1M505 220.5h1M490 221.5h1M494 221.5h1M490 222.5h1M496 222.5h1M504 223.5h1" stroke="#3a3aff" stroke-opacity="0.5" stroke-width="1"/>
<path d="M507 169.5h1M509 170.5h1M510 170.5h1M505 171.5h1M506 171.5h1M507 171.5h1M509 171.5h1M513 171.5h1M502 172.5h1M503 172.5h1M504 172.5h1M506 172.5h1M510 172.5h1M511 172.5h1M512 172.5h1M513 172.5h1M502 173.5h1M503 173.5h1M504 173.5h1M506 173.5h1M509 173.5h1M510 173.5h1M512 173.5h1M515 173.5h1M500 174.5h1M501 174.5h1M505 174.5h1M506 174.5h1M509 174.5h1M510 174.5h1M511 174.5h1M513 174.5h1M514 174.5h1M499 175.5h1M501 175.5h1M507 175.5h1M508 175.5h1M514 175.5h1M500 176.5h1M502 176.5h1M504 176.5h1M506 176.5h1M507 176.5h1M508 176.5h1M509 176.5h1M510 176.5h1M511 176.5h1M515 176.5h1M501 177.5h1M502 177.5h1M503 177.5h1M504 177.5h1M505 177.5h1M508 177.5h1M509 177.5h1M510 177.5h1M511 177.5h1M512 177.5h1M514 177.5h1M498 178.5h1M501 178.5h1M503 178.5h1M506 178.5h1M508 178.5h1M510 178.5h1M511 178.5h1M512 178.5h1M513 178.5h1M498 179.5h1M499 179.5h1M500 179.5h1M501 179.5h1M502 179.5h1M503 179.5h1M504 179.5h1M505 179.5h1M506 179.5h1M507 179.5h1M508 179.5h1M509 179.5h1M511 179.5h1M514 179.5h1M515 179.5h1M499 180.5h1M500 180.5h1M501 180.5h1M503 180.5h1M504 180.5h1M505 180.5h1M506 180.5h1M507 180.5h1M508 180.5h1M509 180.5h1M511 180.5h1M513 180.5h1M515 180.5h1M516 180.5h1M497 181.5h1M498 181.5h1M499 181.5h1M503 181.5h1M505 181.5h1M506 181.5h1M507 181.5h1M508 181.5h1M509 181.5h1M510 181.5h1M513 181.5h1M514 181.5h1M516 181.5h1M517 181.5h1M498 182.5h1M499 182.5h1M500 182.5h1M501 182.5h1M502 182.5h1M505 182.5h1M506 182.5h1M507 182.5h1M509 182.5h1M510 182.5h1M511 182.5h1M512 182.5h1M516 182.5h1M517 182.5h1M518 182.5h1M497 183.5h1M501 183.5h1M502 183.5h1M504 183.5h1M505 183.5h1M507 183.5h1M511 183.5h1M512 183.5h1M498 184.5h1M500 184.5h1M501 184.5h1M502 184.5h1M503 184.5h1M506 184.5h1M510 184.5h1M511 184.5h1M514 184.5h1M516 184.5h1M499 185.5h1M502 185.5h1M503 185.5h1M504 185.5h1M505 185.5h1M506 185.5h1M509 185.5h1M511 185.5h1M512 185.5h1M513 185.5h1M516 185.5h1M517 185.5h1M518 185.5h1M499 186.5h1M501 186.5h1M502 186.5h1M504 186.5h1M505 186.5h1M507 186.5h1M508 186.5h1M509 186.5h1M513 186.5h1M514 186.5h1M515 186.5h1M517 186.5h1M497 187.5h1M498 187.5h1M499 187.5h1M502 187.5h1M504 187.5h1M505 187.5h1M506 187.5h1M507 187.5h1M508 187.5h1M509 187.5h1M511 187.5h1M513 187.5h1M516 187.5h1M517 187.5h1M498 188.5h1M500 188.5h1M501 188.5h1M504 188.5h1M505 188.5h1M508 188.5h1M509 188.5h1M510 188.5h1M511 188.5h1M514 188.5h1M515 188.5h1M517 188.5h1M500 189.5h1M501 189.5h1M505 189.5h1M508 189.5h1M510 189.5h1M501 190.5h1M503 190.5h1M505 190.5h1M508 190.5h1M511 190.5h1M513 190.5h1M514 190.5h1M504 191.5h1M506 191.5h1M509 191.5h1M512 191.5h1M514 191.5h1M515 191.5h1M502 192.5h1M503 192.5h1M504 192.5h1M509 192.5h1M510 192.5h1M512 192.5h1M500 193.5h1M507 193.5h1M508 193.5h1M509 193.5h1M512 193.5h1M514 193.5h1M501 194.5h1M504 194.5h1M505 194.5h1M506 194.5h1M507 194.5h1M510 194.5h1M512 194.5h1M507 195.5h1M509 195.5h1M510 195.5h1M512 195.5h1M508 196.5h1M490 206.5h1M491 206.5h1M495 206.5h1M496 206.5h1M498 206.5h1M487 207.5h1M491 207.5h1M495 207.5h1M497 207.5h1M498 207.5h1M499 207.5h1M500 207.5h1M503 207.5h1M483 208.5h1M485 208.5h1M496 208.5h1M497 208.5h1M498 208.5h1M500 208.5h1M501 208.5h1M504 208.5h1M505 208.5h1M481 209.5h1M501 209.5h1M502 209.5h1M505 209.5h1M502 210.5h1M505 210.5h1M506 210.5h1M507 210.5h1M479 211.5h1M480 211.5h1M502 211.5h1M503 211.5h1M479 212.5h1M480 212.5h1M502 212.5h1M503 212.5h1M504 212.5h1M505 212.5h1M507 212.5h1M508 212.5h1M502 213.5h1M504 213.5h1M505 213.5h1M507 213.5h1M479 214.5h1M480 214.5h1M503 214.5h1M505 214.5h1M506 214.5h1M507 214.5h1M480 215.5h1M501 215.5h1M504 215.5h1M505 215.5h1M481 216.5h1M500 216.5h1M503 216.5h1M504 216.5h1M482 217.5h1M500 217.5h1M501 217.5h1M503 217.5h1M505 217.5h1M482 218.5h1M483 218.5h1M496 218.5h1M497 218.5h1M498 218.5h1M499 218.5h1M500 218.5h1M486 219.5h1M487 219.5h1M489 219.5h1M490 219.5h1M491 219.5h1M492 219.5h1M493 219.5h1M497 219.5h1M498 219.5h1M499 219.5h1M490 220.5h1M491 220.5h1M493 220.5h1" stroke="#2e2eff" stroke-opacity="0.85" stroke-width="1"/>
<path d="M505 172.5h1M511 173.5h1M514 173.5h1M502 174.5h1M508 174.5h1M502 175.5h1M506 175.5h1M515 175.5h1M513 176.5h1M506 177.5h1M502 178.5h1M504 178.5h1M507 178.5h1M509 178.5h1M516 178.5h1M510 179.5h1M502 180.5h1M510 180.5h1M514 180.5h1M502 181.5h1M504 181.5h1M512 181.5h1M515 181.5h1M503 182.5h1M504 182.5h1M508 182.5h1M515 182.5h1M503 183.5h1M508 183.5h1M509 183.5h1M517 183.5h1M505 184.5h1M507 184.5h1M508 184.5h1M509 184.5h1M512 184.5h1M507 185.5h1M510 185.5h1M500 186.5h1M506 186.5h1M511 186.5h1M503 187.5h1M510 187.5h1M515 187.5h1M503 188.5h1M513 188.5h1M499 189.5h1M506 189.5h1M507 189.5h1M509 189.5h1M507 190.5h1M509 190.5h1M505 191.5h1M510 191.5h1M508 192.5h1M503 193.5h1M494 207.5h1M484 208.5h1M486 208.5h1M499 208.5h1M483 209.5h1M499 209.5h1M500 209.5h1M480 210.5h1M501 210.5h1M503 213.5h1M502 214.5h1M502 215.5h1M501 216.5h1M502 216.5h1M481 217.5h1M499 217.5h1M484 218.5h1M485 218.5h1M485 219.5h1M488 219.5h1M494 219.5h1" stroke="#30c8a0" stroke-opacity=".8" stroke-width="1"/>
<path d="M493 208.5h1M482 210.5h1M498 210.5h1M499 210.5h1M499 211.5h1M501 211.5h1M501 212.5h1M501 213.5h1M483 217.5h1M498 217.5h1M486 218.5h1M488 218.5h1M495 218.5h1" stroke="#0032ff" stroke-width="1"/>
<path d="M491 208.5h1M494 208.5h1M495 208.5h1M484 209.5h1M483 210.5h1M500 210.5h1M481 214.5h1M482 216.5h1M487 218.5h1" stroke="#004cff" stroke-width="1"/>
<path d="M492 208.5h1M500 212.5h1M499 216.5h1" stroke="#0065ff" stroke-width="1"/>
<path d="M497 209.5h1M498 209.5h1M500 214.5h1M500 215.5h1" stroke="#007fff" stroke-width="1"/>
<path d="M487 208.5h1M489 208.5h1M485 209.5h1M495 209.5h1M481 213.5h1M501 214.5h1M481 215.5h1M498 216.5h1M484 217.5h1M494 218.5h1" stroke="#0099ff" stroke-width="1"/>
<path d="M488 208.5h1M481 211.5h1M482 211.5h1M497 211.5h1M500 211.5h1M483 215.5h1M489 218.5h1" stroke="#00b2ff" stroke-width="1"/>
<path d="M490 208.5h1M494 209.5h1M496 209.5h1M481 212.5h1M499 213.5h1M482 214.5h1M483 214.5h1M499 214.5h1M495 217.5h1M497 217.5h1" stroke="#00ccff" stroke-width="1"/>
<path d="M484 210.5h1M485 210.5h1M495 210.5h1M483 211.5h1M498 211.5h1M499 215.5h1M485 217.5h1M488 217.5h1M496 217.5h1M493 218.5h1" stroke="#00e5ff" stroke-width="1"/>
<path d="M496 210.5h1M498 212.5h1M482 213.5h1M498 215.5h1M483 216.5h1M486 217.5h1M492 218.5h1" stroke="#00ffff" stroke-width="1"/>
<path d="M486 209.5h1M491 210.5h1M484 211.5h1M483 213.5h1M500 213.5h1M482 215.5h1M486 216.5h1M492 217.5h1M493 217.5h1M494 217.5h1" stroke="#19ffe5" stroke-width="1"/>
<path d="M491 209.5h1M493 209.5h1M497 210.5h1M496 211.5h1M483 212.5h1M499 212.5h1M484 215.5h1M484 216.5h1M487 217.5h1M490 217.5h1" stroke="#32ffcc" stroke-width="1"/>
<path d="M487 209.5h1M489 209.5h1M490 209.5h1M492 209.5h1M486 210.5h1M488 210.5h1M485 211.5h1M482 212.5h1M498 214.5h1M486 215.5h1M495 216.5h1M490 218.5h1" stroke="#4cffb2" stroke-width="1"/>
<path d="M484 212.5h1M497 212.5h1M497 213.5h1M497 214.5h1M496 215.5h1M496 216.5h1M491 218.5h1" stroke="#65ff99" stroke-width="1"/>
<path d="M488 209.5h1M487 210.5h1M492 210.5h1M493 210.5h1M494 210.5h1M488 211.5h1M496 212.5h1M484 213.5h1M498 213.5h1M485 214.5h1M497 215.5h1M497 216.5h1M489 217.5h1" stroke="#7fff7f" stroke-width="1"/>
<path d="M487 211.5h1M485 212.5h1M494 213.5h1M496 213.5h1M486 214.5h1M495 214.5h1M496 214.5h1M493 215.5h1M487 216.5h1M491 217.5h1" stroke="#99ff65" stroke-width="1"/>
<path d="M489 210.5h1M494 211.5h1M494 212.5h1M485 213.5h1M494 215.5h1M485 216.5h1M489 216.5h1M492 216.5h1M493 216.5h1" stroke="#b2ff4c" stroke-width="1"/>
<path d="M490 210.5h1M487 212.5h1M494 214.5h1M495 215.5h1M488 216.5h1M494 216.5h1" stroke="#cbff33" stroke-width="1"/>
<path d="M486 211.5h1M492 211.5h1M492 213.5h1M484 214.5h1M491 214.5h1M485 215.5h1M488 215.5h1" stroke="#e5ff19" stroke-width="1"/>
<path d="M493 211.5h1M495 211.5h1M486 212.5h1M488 212.5h1M492 212.5h1M495 213.5h1M491 215.5h1M490 216.5h1" stroke="#ffff00" stroke-width="1"/>
<path d="M492 215.5h1M491 216.5h1" stroke="#ffe500" stroke-width="1"/>
<path d="M491 211.5h1M495 212.5h1M489 215.5h1" stroke="#ffcb00" stroke-width="1"/>
<path d="M490 211.5h1M486 213.5h1M487 214.5h1M493 214.5h1" stroke="#ffb200" stroke-width="1"/>
<path d="M490 212.5h1M493 212.5h1M488 213.5h1M488 214.5h1" stroke="#ff9900" stroke-width="1"/>
<path d="M487 215.5h1" stroke="#ff6500" stroke-width="1"/>
<path d="M489 212.5h1M489 213.5h1M490 215.5h1" stroke="#ff4c00" stroke-width="1"/>
<path d="M489 211.5h1M491 212.5h1M487 213.5h1M490 213.5h1M491 213.5h1M493 213.5h1M489 214.5h1M490 214.5h1M492 214.5h1" stroke="#ff1900" stroke-width="1"/>
<rect x="462.5" y="143.6" width="81.1" height="80.4" fill="none" stroke="#8a8a8a" stroke-width="1"/>
<path d="M462.5 151.6h-1.8M462.5 165.3h-1.8M462.5 179h-1.8M462.5 192.6h-1.8M462.5 206.3h-1.8M462.5 220h-1.8M470.5 224v1.8M484.3 224v1.8M498.1 224v1.8M512 224v1.8M525.8 224v1.8M539.6 224v1.8" stroke="#888" stroke-width=".8"/>
<rect x="460.9" y="210" width="2" height="2" fill="#000"/>
<rect x="478.5" y="224.8" width="3" height="1.5" fill="#000"/>
<rect x="481.6" y="160" width="43" height="43" fill="none" stroke="#4a4a4a" stroke-width="1"/>
<rect x="481.6" y="205" width="43.8" height="18.6" fill="none" stroke="#8a8a8a" stroke-width="1.2"/>
<path d="M489.6 160L489.6 223.6" stroke="#4a4a4a" stroke-width="1"/>
<path d="M496.4 160L496.4 223.6" stroke="#4a4a4a" stroke-width="1"/>
<path d="M502.6 160L502.6 223.6" stroke="#4a4a4a" stroke-width="1"/>
<path d="M510 160L510 223.6" stroke="#4a4a4a" stroke-width="1"/>
<path d="M515.6 160L515.6 223.6" stroke="#4a4a4a" stroke-width="1"/>
<path d="M463.5 204.2L478.5 204.2" stroke="#111" stroke-width="1"/>
<path d="M593 151.5h1M588 155.5h1M602 156.5h1M604 156.5h1M582 157.5h1M591 158.5h1M595 158.5h1M607 159.5h1M592 160.5h1M604 162.5h1M602 163.5h1M610 163.5h1M588 164.5h1M597 164.5h1M588 165.5h1M594 165.5h1M595 165.5h1M599 165.5h1M588 166.5h1M592 166.5h1M594 166.5h1M596 166.5h1M600 166.5h1M605 166.5h1M614 166.5h1M587 167.5h1M594 167.5h1M597 167.5h1M603 167.5h1M604 167.5h1M595 168.5h1M597 168.5h1M598 168.5h1M600 168.5h1M610 168.5h1M585 169.5h1M590 169.5h1M593 169.5h1M595 169.5h1M599 169.5h1M600 169.5h1M604 169.5h1M605 169.5h1M587 170.5h1M590 170.5h1M591 170.5h1M592 170.5h1M593 170.5h1M594 170.5h1M595 170.5h1M600 170.5h1M601 170.5h1M608 170.5h1M613 170.5h1M615 170.5h1M584 171.5h1M586 171.5h1M587 171.5h1M588 171.5h1M590 171.5h1M591 171.5h1M604 171.5h1M605 171.5h1M609 171.5h1M611 171.5h1M579 172.5h1M585 172.5h1M587 172.5h1M590 172.5h1M604 172.5h1M605 172.5h1M606 172.5h1M610 172.5h1M582 173.5h1M584 173.5h1M585 173.5h1M587 173.5h1M605 173.5h1M611 173.5h1M615 173.5h1M585 174.5h1M606 174.5h1M608 174.5h1M618 174.5h1M607 175.5h1M608 175.5h1M609 175.5h1M613 175.5h1M578 176.5h1M582 176.5h1M585 176.5h1M617 176.5h1M624 176.5h1M574 177.5h1M583 177.5h1M609 177.5h1M610 177.5h1M612 177.5h1M584 178.5h1M609 178.5h1M576 179.5h1M580 179.5h1M581 179.5h1M584 179.5h1M585 179.5h1M610 179.5h1M614 179.5h1M573 180.5h1M584 180.5h1M585 180.5h1M613 180.5h1M614 180.5h1M619 180.5h1M578 181.5h1M580 181.5h1M610 181.5h1M612 181.5h1M574 182.5h1M584 182.5h1M627 182.5h1M583 183.5h1M610 183.5h1M621 183.5h1M613 184.5h1M616 184.5h1M579 185.5h1M582 185.5h1M583 185.5h1M611 185.5h1M613 185.5h1M581 186.5h1M583 186.5h1M610 186.5h1M612 186.5h1M573 187.5h1M575 187.5h1M580 187.5h1M583 187.5h1M585 187.5h1M613 187.5h1M614 187.5h1M616 187.5h1M617 187.5h1M583 188.5h1M584 188.5h1M611 188.5h1M613 188.5h1M615 188.5h1M626 188.5h1M582 189.5h1M616 189.5h1M580 190.5h1M583 190.5h1M585 190.5h1M610 190.5h1M612 190.5h1M578 191.5h1M580 191.5h1M608 191.5h1M611 191.5h1M613 191.5h1M620 191.5h1M580 192.5h1M583 192.5h1M584 192.5h1M608 192.5h1M611 192.5h1M580 193.5h1M583 193.5h1M587 193.5h1M607 193.5h1M609 193.5h1M588 194.5h1M606 194.5h1M608 194.5h1M589 195.5h1M605 195.5h1M607 195.5h1M609 195.5h1M579 196.5h1M584 196.5h1M586 196.5h1M588 196.5h1M606 196.5h1M607 196.5h1M620 196.5h1M581 197.5h1M585 197.5h1M589 197.5h1M591 197.5h1M603 197.5h1M604 197.5h1M609 197.5h1M615 197.5h1M576 198.5h1M589 198.5h1M591 198.5h1M592 198.5h1M593 198.5h1M595 198.5h1M596 198.5h1M598 198.5h1M599 198.5h1M604 198.5h1M606 198.5h1M607 198.5h1M584 199.5h1M588 199.5h1M589 199.5h1M592 199.5h1M595 199.5h1M601 199.5h1M602 199.5h1M606 199.5h1M618 199.5h1M586 200.5h1M587 200.5h1M588 200.5h1M595 200.5h1M596 200.5h1M602 200.5h1M608 200.5h1M586 201.5h1M589 201.5h1M593 201.5h1M596 201.5h1M597 201.5h1M606 201.5h1M608 201.5h1M576 202.5h1M598 202.5h1M602 202.5h1M614 202.5h1M582 203.5h1M584 203.5h1M588 203.5h1M590 203.5h1M593 203.5h1M594 203.5h1M598 203.5h1M602 203.5h1M583 204.5h1M585 204.5h1M586 204.5h1M587 204.5h1M589 204.5h1M590 204.5h1M596 204.5h1M597 204.5h1M603 204.5h1M576 205.5h1M581 205.5h1M582 205.5h1M583 205.5h1M599 205.5h1M600 205.5h1M610 205.5h1M578 206.5h1M600 206.5h1M601 206.5h1M602 206.5h1M605 206.5h1M606 206.5h1M575 207.5h1M601 207.5h1M605 207.5h1M606 207.5h1M607 207.5h1M615 207.5h1M603 208.5h1M604 208.5h1M606 208.5h1M608 208.5h1M572 209.5h1M573 209.5h1M604 209.5h1M564 210.5h1M572 210.5h1M612 210.5h1M604 211.5h1M606 211.5h1M607 211.5h1M615 211.5h1M561 212.5h1M606 212.5h1M608 212.5h1M609 212.5h1M605 213.5h1M571 214.5h1M573 214.5h1M603 214.5h1M605 214.5h1M602 215.5h1M604 215.5h1M605 215.5h1M606 215.5h1M574 216.5h1M603 216.5h1M612 216.5h1M574 217.5h1M576 217.5h1M600 217.5h1M603 217.5h1M604 217.5h1M608 217.5h1M574 218.5h1M576 218.5h1M578 218.5h1M595 218.5h1M603 218.5h1M610 218.5h1M579 219.5h1M586 219.5h1M589 219.5h1M590 219.5h1M596 219.5h1M600 219.5h1M581 220.5h1M584 220.5h1M586 220.5h1M588 220.5h1M589 220.5h1M596 220.5h1M598 220.5h1M604 220.5h1M587 221.5h1M592 221.5h1M597 221.5h1M606 221.5h1M582 222.5h1M587 223.5h1" stroke="#3a3aff" stroke-opacity="0.5" stroke-width="1"/>
<path d="M598 170.5h1M601 171.5h1M591 172.5h1M594 172.5h1M595 172.5h1M597 172.5h1M598 172.5h1M600 172.5h1M602 172.5h1M603 172.5h1M592 173.5h1M595 173.5h1M598 173.5h1M600 173.5h1M589 174.5h1M593 174.5h1M594 174.5h1M597 174.5h1M600 174.5h1M601 174.5h1M603 174.5h1M590 175.5h1M591 175.5h1M594 175.5h1M597 175.5h1M599 175.5h1M600 175.5h1M601 175.5h1M602 175.5h1M606 175.5h1M587 176.5h1M588 176.5h1M590 176.5h1M593 176.5h1M596 176.5h1M597 176.5h1M598 176.5h1M600 176.5h1M601 176.5h1M604 176.5h1M605 176.5h1M589 177.5h1M591 177.5h1M593 177.5h1M596 177.5h1M597 177.5h1M598 177.5h1M600 177.5h1M602 177.5h1M603 177.5h1M605 177.5h1M607 177.5h1M587 178.5h1M591 178.5h1M593 178.5h1M594 178.5h1M595 178.5h1M596 178.5h1M599 178.5h1M601 178.5h1M603 178.5h1M605 178.5h1M607 178.5h1M587 179.5h1M591 179.5h1M592 179.5h1M593 179.5h1M595 179.5h1M597 179.5h1M598 179.5h1M599 179.5h1M601 179.5h1M602 179.5h1M604 179.5h1M606 179.5h1M591 180.5h1M593 180.5h1M598 180.5h1M599 180.5h1M601 180.5h1M604 180.5h1M586 181.5h1M588 181.5h1M589 181.5h1M590 181.5h1M591 181.5h1M592 181.5h1M596 181.5h1M598 181.5h1M603 181.5h1M605 181.5h1M606 181.5h1M608 181.5h1M609 181.5h1M586 182.5h1M590 182.5h1M591 182.5h1M592 182.5h1M593 182.5h1M596 182.5h1M597 182.5h1M598 182.5h1M599 182.5h1M600 182.5h1M601 182.5h1M605 182.5h1M606 182.5h1M607 182.5h1M586 183.5h1M592 183.5h1M593 183.5h1M594 183.5h1M596 183.5h1M598 183.5h1M603 183.5h1M604 183.5h1M606 183.5h1M608 183.5h1M587 184.5h1M589 184.5h1M591 184.5h1M593 184.5h1M595 184.5h1M597 184.5h1M598 184.5h1M601 184.5h1M602 184.5h1M607 184.5h1M609 184.5h1M585 185.5h1M586 185.5h1M588 185.5h1M589 185.5h1M593 185.5h1M595 185.5h1M596 185.5h1M598 185.5h1M601 185.5h1M604 185.5h1M605 185.5h1M607 185.5h1M609 185.5h1M589 186.5h1M592 186.5h1M593 186.5h1M594 186.5h1M595 186.5h1M598 186.5h1M599 186.5h1M600 186.5h1M603 186.5h1M605 186.5h1M608 186.5h1M609 186.5h1M590 187.5h1M593 187.5h1M594 187.5h1M597 187.5h1M599 187.5h1M601 187.5h1M603 187.5h1M589 188.5h1M592 188.5h1M594 188.5h1M595 188.5h1M597 188.5h1M598 188.5h1M600 188.5h1M601 188.5h1M602 188.5h1M603 188.5h1M605 188.5h1M609 188.5h1M587 189.5h1M588 189.5h1M589 189.5h1M594 189.5h1M596 189.5h1M597 189.5h1M598 189.5h1M599 189.5h1M600 189.5h1M601 189.5h1M604 189.5h1M605 189.5h1M608 189.5h1M586 190.5h1M587 190.5h1M588 190.5h1M589 190.5h1M590 190.5h1M591 190.5h1M592 190.5h1M593 190.5h1M594 190.5h1M596 190.5h1M597 190.5h1M601 190.5h1M602 190.5h1M605 190.5h1M607 190.5h1M608 190.5h1M589 191.5h1M592 191.5h1M593 191.5h1M594 191.5h1M595 191.5h1M599 191.5h1M601 191.5h1M602 191.5h1M604 191.5h1M605 191.5h1M607 191.5h1M589 192.5h1M594 192.5h1M596 192.5h1M598 192.5h1M599 192.5h1M604 192.5h1M605 192.5h1M606 192.5h1M589 193.5h1M592 193.5h1M593 193.5h1M596 193.5h1M598 193.5h1M604 193.5h1M606 193.5h1M589 194.5h1M590 194.5h1M591 194.5h1M592 194.5h1M593 194.5h1M595 194.5h1M598 194.5h1M601 194.5h1M602 194.5h1M605 194.5h1M591 195.5h1M595 195.5h1M596 195.5h1M597 195.5h1M598 195.5h1M599 195.5h1M600 195.5h1M603 195.5h1M604 195.5h1M596 196.5h1M599 196.5h1M600 196.5h1M594 197.5h1M595 197.5h1M596 197.5h1M600 197.5h1M585 205.5h1M589 205.5h1M593 205.5h1M595 205.5h1M580 206.5h1M581 206.5h1M582 206.5h1M583 206.5h1M584 206.5h1M585 206.5h1M586 206.5h1M588 206.5h1M591 206.5h1M593 206.5h1M594 206.5h1M595 206.5h1M597 206.5h1M598 206.5h1M577 207.5h1M578 207.5h1M580 207.5h1M592 207.5h1M593 207.5h1M596 207.5h1M599 207.5h1M576 208.5h1M577 208.5h1M594 208.5h1M595 208.5h1M598 208.5h1M599 208.5h1M596 209.5h1M597 209.5h1M596 210.5h1M597 210.5h1M598 210.5h1M599 210.5h1M574 211.5h1M597 211.5h1M599 211.5h1M600 211.5h1M601 211.5h1M603 211.5h1M574 212.5h1M597 212.5h1M598 212.5h1M600 212.5h1M574 213.5h1M597 213.5h1M599 213.5h1M602 213.5h1M575 214.5h1M597 214.5h1M602 214.5h1M575 215.5h1M576 215.5h1M595 215.5h1M596 215.5h1M597 215.5h1M600 215.5h1M577 216.5h1M593 216.5h1M595 216.5h1M579 217.5h1M580 217.5h1M592 217.5h1M593 217.5h1M583 218.5h1M584 218.5h1M585 218.5h1M586 218.5h1M588 218.5h1M589 218.5h1M590 218.5h1M592 218.5h1" stroke="#2e2eff" stroke-opacity="0.85" stroke-width="1"/>
<path d="M596 171.5h1M594 173.5h1M596 174.5h1M598 174.5h1M595 175.5h1M596 175.5h1M605 175.5h1M599 176.5h1M603 176.5h1M594 177.5h1M595 177.5h1M599 177.5h1M601 177.5h1M592 178.5h1M597 178.5h1M598 178.5h1M600 178.5h1M594 179.5h1M596 179.5h1M590 180.5h1M596 180.5h1M597 180.5h1M600 180.5h1M602 180.5h1M594 181.5h1M600 181.5h1M601 181.5h1M602 181.5h1M604 181.5h1M589 182.5h1M594 182.5h1M595 183.5h1M597 183.5h1M605 183.5h1M596 184.5h1M599 184.5h1M600 184.5h1M603 184.5h1M604 184.5h1M606 184.5h1M591 185.5h1M599 185.5h1M600 185.5h1M602 185.5h1M603 185.5h1M606 185.5h1M591 186.5h1M596 186.5h1M597 186.5h1M601 186.5h1M602 186.5h1M589 187.5h1M592 187.5h1M595 187.5h1M596 187.5h1M600 187.5h1M602 187.5h1M604 187.5h1M587 188.5h1M591 188.5h1M596 188.5h1M604 188.5h1M606 188.5h1M592 189.5h1M593 189.5h1M603 189.5h1M607 189.5h1M598 190.5h1M603 190.5h1M604 190.5h1M588 191.5h1M591 191.5h1M596 191.5h1M606 191.5h1M590 192.5h1M595 192.5h1M602 192.5h1M599 193.5h1M597 194.5h1M599 194.5h1M600 194.5h1M592 195.5h1M587 205.5h1M588 205.5h1M590 206.5h1M579 207.5h1M591 207.5h1M600 208.5h1M576 209.5h1M601 209.5h1M575 210.5h1M600 210.5h1M601 212.5h1M598 213.5h1M596 214.5h1M598 214.5h1M598 215.5h1M596 216.5h1M590 217.5h1M591 217.5h1M582 218.5h1M587 218.5h1" stroke="#30c8a0" stroke-opacity=".8" stroke-width="1"/>
<path d="M590 207.5h1M595 210.5h1M575 211.5h1M596 211.5h1M596 213.5h1M577 215.5h1M587 217.5h1" stroke="#0032ff" stroke-width="1"/>
<path d="M594 209.5h1M594 211.5h1M595 211.5h1M579 216.5h1" stroke="#004cff" stroke-width="1"/>
<path d="M581 207.5h1M588 207.5h1M578 208.5h1M594 210.5h1M575 213.5h1M594 215.5h1" stroke="#0065ff" stroke-width="1"/>
<path d="M582 207.5h1M577 209.5h1M575 212.5h1M596 212.5h1M595 213.5h1M592 216.5h1M581 217.5h1M584 217.5h1M585 217.5h1" stroke="#007fff" stroke-width="1"/>
<path d="M586 207.5h1M594 213.5h1M595 214.5h1M591 216.5h1M582 217.5h1M588 217.5h1" stroke="#0099ff" stroke-width="1"/>
<path d="M579 208.5h1M590 208.5h1M593 210.5h1M593 213.5h1M576 214.5h1M594 214.5h1M578 215.5h1M593 215.5h1M583 217.5h1M586 217.5h1M589 217.5h1" stroke="#00b2ff" stroke-width="1"/>
<path d="M587 207.5h1M589 207.5h1M591 208.5h1M577 210.5h1M594 212.5h1M576 213.5h1M593 214.5h1M578 216.5h1" stroke="#00ccff" stroke-width="1"/>
<path d="M584 207.5h1M582 208.5h1M592 208.5h1M578 209.5h1M593 209.5h1M577 212.5h1M592 212.5h1M592 215.5h1M581 216.5h1M583 216.5h1M588 216.5h1M590 216.5h1" stroke="#00e5ff" stroke-width="1"/>
<path d="M583 207.5h1M585 207.5h1M581 208.5h1M583 208.5h1M591 209.5h1M576 210.5h1M592 210.5h1M593 211.5h1M591 212.5h1M595 212.5h1M577 214.5h1M578 214.5h1M588 215.5h1M582 216.5h1" stroke="#00ffff" stroke-width="1"/>
<path d="M580 208.5h1M584 208.5h1M586 208.5h1M588 208.5h1M593 208.5h1M590 209.5h1M576 212.5h1M593 212.5h1M577 213.5h1M578 213.5h1M591 213.5h1M592 214.5h1M580 215.5h1M580 216.5h1M587 216.5h1" stroke="#19ffe5" stroke-width="1"/>
<path d="M579 209.5h1M583 209.5h1M592 209.5h1M591 210.5h1M576 211.5h1M577 211.5h1M592 213.5h1M590 215.5h1M591 215.5h1" stroke="#32ffcc" stroke-width="1"/>
<path d="M585 208.5h1M587 208.5h1M589 209.5h1M579 210.5h1M591 211.5h1M590 212.5h1M591 214.5h1M586 216.5h1M589 216.5h1" stroke="#4cffb2" stroke-width="1"/>
<path d="M589 208.5h1M581 209.5h1M582 209.5h1M578 211.5h1M579 213.5h1M579 214.5h1M590 214.5h1" stroke="#65ff99" stroke-width="1"/>
<path d="M586 209.5h1M587 209.5h1M578 210.5h1M580 210.5h1M586 210.5h1M579 211.5h1M592 211.5h1M581 214.5h1M585 215.5h1M589 215.5h1" stroke="#7fff7f" stroke-width="1"/>
<path d="M580 209.5h1M578 212.5h1M589 213.5h1M586 214.5h1M579 215.5h1M584 216.5h1M585 216.5h1" stroke="#99ff65" stroke-width="1"/>
<path d="M585 209.5h1M588 209.5h1M581 210.5h1M590 211.5h1M580 212.5h1M582 212.5h1M581 215.5h1M584 215.5h1" stroke="#b2ff4c" stroke-width="1"/>
<path d="M580 211.5h1M579 212.5h1M581 213.5h1M588 213.5h1M590 213.5h1M587 214.5h1M582 215.5h1M583 215.5h1" stroke="#cbff33" stroke-width="1"/>
<path d="M582 210.5h1M584 210.5h1M585 210.5h1M589 210.5h1M590 210.5h1M589 211.5h1M582 213.5h1M589 214.5h1M586 215.5h1" stroke="#e5ff19" stroke-width="1"/>
<path d="M583 210.5h1M587 210.5h1M585 211.5h1M586 212.5h1M583 213.5h1M584 213.5h1M585 214.5h1M587 215.5h1" stroke="#ffff00" stroke-width="1"/>
<path d="M584 209.5h1M581 211.5h1M589 212.5h1M580 213.5h1M587 213.5h1M588 214.5h1" stroke="#ffe500" stroke-width="1"/>
<path d="M580 214.5h1" stroke="#ffcb00" stroke-width="1"/>
<path d="M588 210.5h1M587 211.5h1M585 213.5h1M584 214.5h1" stroke="#ffb200" stroke-width="1"/>
<path d="M588 211.5h1M581 212.5h1" stroke="#ff9900" stroke-width="1"/>
<path d="M587 212.5h1" stroke="#ff7f00" stroke-width="1"/>
<path d="M583 211.5h1M584 212.5h1" stroke="#ff4c00" stroke-width="1"/>
<path d="M586 213.5h1" stroke="#ff3300" stroke-width="1"/>
<path d="M582 211.5h1M584 211.5h1M586 211.5h1M583 212.5h1M585 212.5h1M588 212.5h1M582 214.5h1M583 214.5h1" stroke="#ff1900" stroke-width="1"/>
<rect x="555.6" y="143.6" width="81.4" height="80.4" fill="none" stroke="#8a8a8a" stroke-width="1"/>
<path d="M555.6 151.6h-1.8M555.6 165.3h-1.8M555.6 179h-1.8M555.6 192.6h-1.8M555.6 206.3h-1.8M555.6 220h-1.8M563.6 224v1.8M577.5 224v1.8M591.4 224v1.8M605.2 224v1.8M619.1 224v1.8M633 224v1.8" stroke="#888" stroke-width=".8"/>
<rect x="554" y="210" width="2" height="2" fill="#000"/>
<rect x="571.6" y="224.8" width="3" height="1.5" fill="#000"/>
<rect x="575" y="160" width="42.6" height="43" fill="none" stroke="#4a4a4a" stroke-width="1"/>
<rect x="575" y="205" width="43.4" height="18.6" fill="none" stroke="#8a8a8a" stroke-width="1.2"/>
<path d="M583 160L583 223.6" stroke="#4a4a4a" stroke-width="1"/>
<path d="M589.6 160L589.6 223.6" stroke="#4a4a4a" stroke-width="1"/>
<path d="M596 160L596 223.6" stroke="#4a4a4a" stroke-width="1"/>
<path d="M603.6 160L603.6 223.6" stroke="#4a4a4a" stroke-width="1"/>
<path d="M609 160L609 223.6" stroke="#4a4a4a" stroke-width="1"/>
<path d="M556.6 204.2L571.6 204.2" stroke="#111" stroke-width="1"/>
<text transform="translate(371 62.6) scale(1 1.04)" fill="#111" font-size="7.6">Division:</text>
<text transform="translate(412 62.6) scale(1 1.04)" text-anchor="middle" fill="#111" font-size="8.4">2</text>
<text transform="translate(418.6 62.6) scale(1 1.04)" text-anchor="middle" fill="#111" font-size="8.4">1</text>
<text transform="translate(426.8 62.6) scale(1 1.04)" text-anchor="middle" fill="#111" font-size="8.4">0</text>
<text transform="translate(392.1 156.2) scale(1 1.04)" text-anchor="middle" fill="#111" font-size="8.4">5</text>
<text transform="translate(398.3 156.2) scale(1 1.04)" text-anchor="middle" fill="#111" font-size="8.4">4</text>
<text transform="translate(405.4 156.2) scale(1 1.04)" text-anchor="middle" fill="#111" font-size="8.4">3</text>
<text transform="translate(411.6 156.2) scale(1 1.04)" text-anchor="middle" fill="#111" font-size="8.4">2</text>
<text transform="translate(418.2 156.2) scale(1 1.04)" text-anchor="middle" fill="#111" font-size="8.4">1</text>
<text transform="translate(427 156.2) scale(1 1.04)" text-anchor="middle" fill="#111" font-size="8.4">0</text>
<text transform="translate(371.2 90.2) scale(1 1.04)" fill="#e42b2b" font-size="7.6">mCherry<tspan font-size="5" dy="-3">+</tspan></text>
<text transform="translate(385.7 98.6) scale(1 1.04)" text-anchor="middle" fill="#e42b2b" font-size="8">43.3</text>
<text transform="translate(371.2 118.6) scale(1 1.04)" fill="#111" font-size="7.6">mCherry<tspan font-size="5" dy="-3">-</tspan></text>
<text transform="translate(386.3 127.8) scale(1 1.04)" text-anchor="middle" fill="#111" font-size="8">55.4</text>
<text transform="translate(464.3 99) scale(1 1.04)" fill="#e42b2b" font-size="8">51.0</text>
<text transform="translate(464.3 127.6) scale(1 1.04)" fill="#111" font-size="8">48.0</text>
<text transform="translate(558.2 99) scale(1 1.04)" fill="#e42b2b" font-size="8">47.6</text>
<text transform="translate(558.2 127.6) scale(1 1.04)" fill="#111" font-size="8">51.4</text>
<text transform="translate(369.8 193) scale(1 1.04)" fill="#e42b2b" font-size="8">43.0</text>
<text transform="translate(369.8 222.4) scale(1 1.04)" fill="#111" font-size="8">56.6</text>
<text transform="translate(464.3 193) scale(1 1.04)" fill="#e42b2b" font-size="8">29.0</text>
<text transform="translate(464.3 222.4) scale(1 1.04)" fill="#111" font-size="8">70.0</text>
<text transform="translate(558.2 193) scale(1 1.04)" fill="#e42b2b" font-size="8">30.4</text>
<text transform="translate(558.2 222.4) scale(1 1.04)" fill="#111" font-size="8">68.5</text>
<text transform="translate(652 89) rotate(-90) scale(1 1.04)" text-anchor="middle" fill="#111" font-size="10.5">Day 2</text>
<text transform="translate(652 185.5) rotate(-90) scale(1 1.04)" text-anchor="middle" fill="#111" font-size="10.5">Day 4</text>
<path d="M357.6 145.5L357.6 54" stroke="#333" stroke-width="1"/>
<path d="M356.3 55.5L357.6 52L358.9 55.5Z" fill="#333"/>
<text transform="translate(360.6 184) rotate(-90) scale(1 1.04)" text-anchor="middle" fill="#111" font-size="9">mCherry (sgRNA)</text>
<text transform="translate(370.4 240.2) scale(1 1.04)" fill="#111" font-size="9">Celltrace</text>
<path d="M409.6 237.4L611 237.4" stroke="#333" stroke-width="1"/>
<path d="M609.5 236.1L613 237.4L609.5 238.7Z" fill="#333"/>
<text transform="translate(333.4 279.4) scale(1.12 1)" font-size="17.5" font-weight="bold" fill="#000">E</text>
<rect x="382.5" y="397.6" width="13.8" height="10.1" fill="#000000"/>
<rect x="382.5" y="369" width="13.8" height="28.9" fill="#80ffff"/>
<rect x="382.5" y="314.6" width="13.8" height="54.7" fill="#2a14ff"/>
<rect x="402.5" y="398" width="13.8" height="9.7" fill="#000000"/>
<rect x="402.5" y="366.6" width="13.8" height="31.7" fill="#80ffff"/>
<rect x="402.5" y="315" width="13.8" height="51.9" fill="#2a14ff"/>
<rect x="422.5" y="393.5" width="13.8" height="14.2" fill="#000000"/>
<rect x="422.5" y="359" width="13.8" height="34.8" fill="#80ffff"/>
<rect x="422.5" y="314.2" width="13.8" height="45.1" fill="#2a14ff"/>
<rect x="442.5" y="395.6" width="13.8" height="12.1" fill="#000000"/>
<rect x="442.5" y="364" width="13.8" height="31.9" fill="#80ffff"/>
<rect x="442.5" y="315" width="13.8" height="49.3" fill="#2a14ff"/>
<rect x="462.5" y="396.6" width="13.8" height="11.1" fill="#000000"/>
<rect x="462.5" y="363.6" width="13.8" height="33.3" fill="#80ffff"/>
<rect x="462.5" y="314.4" width="13.8" height="49.5" fill="#2a14ff"/>
<rect x="482.5" y="397.6" width="13.8" height="10.1" fill="#000000"/>
<rect x="482.5" y="366.6" width="13.8" height="31.3" fill="#80ffff"/>
<rect x="482.5" y="315.4" width="13.8" height="51.5" fill="#2a14ff"/>
<rect x="522.3" y="401" width="13.8" height="6.7" fill="#2a14ff"/>
<rect x="522.3" y="377.6" width="13.8" height="23.7" fill="#ff45ff"/>
<rect x="522.3" y="335.6" width="13.8" height="42.3" fill="#ee9127"/>
<rect x="522.3" y="314.6" width="13.8" height="21.3" fill="#ff2b12"/>
<rect x="542.3" y="400" width="13.8" height="7.7" fill="#2a14ff"/>
<rect x="542.3" y="377" width="13.8" height="23.3" fill="#ff45ff"/>
<rect x="542.3" y="334" width="13.8" height="43.3" fill="#ee9127"/>
<rect x="542.3" y="311.4" width="13.8" height="22.9" fill="#ff2b12"/>
<rect x="562.3" y="391.6" width="13.8" height="16.1" fill="#000000"/>
<rect x="562.3" y="359" width="13.8" height="32.9" fill="#80ffff"/>
<rect x="562.3" y="324.4" width="13.8" height="34.9" fill="#2a14ff"/>
<rect x="562.3" y="315" width="13.8" height="9.7" fill="#ff45ff"/>
<rect x="562.3" y="313.6" width="13.8" height="1.7" fill="#ee9127"/>
<rect x="582.3" y="393" width="13.8" height="14.7" fill="#000000"/>
<rect x="582.3" y="365" width="13.8" height="28.3" fill="#80ffff"/>
<rect x="582.3" y="327" width="13.8" height="38.3" fill="#2a14ff"/>
<rect x="582.3" y="316.4" width="13.8" height="10.9" fill="#ff45ff"/>
<rect x="582.3" y="313" width="13.8" height="3.7" fill="#ee9127"/>
<rect x="602.3" y="399.4" width="13.8" height="8.3" fill="#000000"/>
<rect x="602.3" y="380" width="13.8" height="19.7" fill="#80ffff"/>
<rect x="602.3" y="348" width="13.8" height="32.3" fill="#2a14ff"/>
<rect x="602.3" y="327" width="13.8" height="21.3" fill="#ff45ff"/>
<rect x="602.3" y="317" width="13.8" height="10.3" fill="#ee9127"/>
<rect x="602.3" y="314" width="13.8" height="3.3" fill="#ff2b12"/>
<rect x="622.3" y="400" width="13.8" height="7.7" fill="#000000"/>
<rect x="622.3" y="382" width="13.8" height="18.3" fill="#80ffff"/>
<rect x="622.3" y="349" width="13.8" height="33.3" fill="#2a14ff"/>
<rect x="622.3" y="329" width="13.8" height="20.3" fill="#ff45ff"/>
<rect x="622.3" y="318" width="13.8" height="11.3" fill="#ee9127"/>
<rect x="622.3" y="315" width="13.8" height="3.3" fill="#ff2b12"/>
<path d="M376.4 295L376.4 408.2" stroke="#222" stroke-width="1.6"/>
<path d="M375.6 407.4L641.6 407.4" stroke="#222" stroke-width="1.6"/>
<path d="M371.8 407.4L376.4 407.4" stroke="#222" stroke-width="1.2"/>
<text transform="translate(369.8 411) scale(1 1.04)" text-anchor="end" fill="#111" font-size="10">0</text>
<path d="M371.8 388.7L376.4 388.7" stroke="#222" stroke-width="1.2"/>
<text transform="translate(369.8 392.3) scale(1 1.04)" text-anchor="end" fill="#111" font-size="10">20</text>
<path d="M371.8 369.9L376.4 369.9" stroke="#222" stroke-width="1.2"/>
<text transform="translate(369.8 373.5) scale(1 1.04)" text-anchor="end" fill="#111" font-size="10">40</text>
<path d="M371.8 351.2L376.4 351.2" stroke="#222" stroke-width="1.2"/>
<text transform="translate(369.8 354.8) scale(1 1.04)" text-anchor="end" fill="#111" font-size="10">60</text>
<path d="M371.8 332.5L376.4 332.5" stroke="#222" stroke-width="1.2"/>
<text transform="translate(369.8 336.1) scale(1 1.04)" text-anchor="end" fill="#111" font-size="10">80</text>
<path d="M371.8 313.7L376.4 313.7" stroke="#222" stroke-width="1.2"/>
<text transform="translate(369.8 317.3) scale(1 1.04)" text-anchor="end" fill="#111" font-size="10">100</text>
<path d="M371.8 295L376.4 295" stroke="#222" stroke-width="1.2"/>
<text transform="translate(369.8 298.6) scale(1 1.04)" text-anchor="end" fill="#111" font-size="10">120</text>
<path d="M389.2 407.4L389.2 411.4" stroke="#222" stroke-width="1"/>
<path d="M409.2 407.4L409.2 411.4" stroke="#222" stroke-width="1"/>
<path d="M429.2 407.4L429.2 411.4" stroke="#222" stroke-width="1"/>
<path d="M449.2 407.4L449.2 411.4" stroke="#222" stroke-width="1"/>
<path d="M469.2 407.4L469.2 411.4" stroke="#222" stroke-width="1"/>
<path d="M489.2 407.4L489.2 411.4" stroke="#222" stroke-width="1"/>
<path d="M509.2 407.4L509.2 411.4" stroke="#222" stroke-width="1"/>
<path d="M529.2 407.4L529.2 411.4" stroke="#222" stroke-width="1"/>
<path d="M549.2 407.4L549.2 411.4" stroke="#222" stroke-width="1"/>
<path d="M569.2 407.4L569.2 411.4" stroke="#222" stroke-width="1"/>
<path d="M589.2 407.4L589.2 411.4" stroke="#222" stroke-width="1"/>
<path d="M609.2 407.4L609.2 411.4" stroke="#222" stroke-width="1"/>
<path d="M629.2 407.4L629.2 411.4" stroke="#222" stroke-width="1"/>
<text transform="translate(348.4 349.6) rotate(-90) scale(1 1.04)" text-anchor="middle" fill="#111" font-size="9.7">Frequency (%)</text>
<path d="M378 295.5L460.4 295.5" stroke="#333" stroke-width="1"/>
<path d="M535.6 295.5L634.7 295.5" stroke="#333" stroke-width="1"/>
<text transform="translate(463.8 299.1) scale(1 1.04)" fill="#e42b2b" font-size="10.5">mCherry<tspan font-size="6.5" dy="-3.8">+</tspan><tspan dy="3.8"> cells</tspan></text>
<rect x="382.5" y="541" width="13.8" height="6.9" fill="#000000"/>
<rect x="382.5" y="516" width="13.8" height="25.3" fill="#80ffff"/>
<rect x="382.5" y="458.4" width="13.8" height="57.9" fill="#2a14ff"/>
<rect x="402.5" y="537" width="13.8" height="10.9" fill="#000000"/>
<rect x="402.5" y="509" width="13.8" height="28.3" fill="#80ffff"/>
<rect x="402.5" y="455.6" width="13.8" height="53.7" fill="#2a14ff"/>
<rect x="422.5" y="539.6" width="13.8" height="8.3" fill="#000000"/>
<rect x="422.5" y="516" width="13.8" height="23.9" fill="#80ffff"/>
<rect x="422.5" y="459.6" width="13.8" height="56.7" fill="#2a14ff"/>
<rect x="442.5" y="539" width="13.8" height="8.9" fill="#000000"/>
<rect x="442.5" y="515.4" width="13.8" height="23.9" fill="#80ffff"/>
<rect x="442.5" y="459" width="13.8" height="56.7" fill="#2a14ff"/>
<rect x="462.5" y="538" width="13.8" height="9.9" fill="#000000"/>
<rect x="462.5" y="511.2" width="13.8" height="27.1" fill="#80ffff"/>
<rect x="462.5" y="458" width="13.8" height="53.5" fill="#2a14ff"/>
<rect x="482.5" y="539" width="13.8" height="8.9" fill="#000000"/>
<rect x="482.5" y="511.7" width="13.8" height="27.6" fill="#80ffff"/>
<rect x="482.5" y="457.8" width="13.8" height="54.2" fill="#2a14ff"/>
<rect x="522.3" y="546" width="13.8" height="1.9" fill="#2a14ff"/>
<rect x="522.3" y="532" width="13.8" height="14.3" fill="#ff45ff"/>
<rect x="522.3" y="490" width="13.8" height="42.3" fill="#ee9127"/>
<rect x="522.3" y="454.6" width="13.8" height="35.7" fill="#ff2b12"/>
<rect x="542.3" y="544.6" width="13.8" height="3.3" fill="#2a14ff"/>
<rect x="542.3" y="530" width="13.8" height="14.9" fill="#ff45ff"/>
<rect x="542.3" y="487.2" width="13.8" height="43.1" fill="#ee9127"/>
<rect x="542.3" y="454" width="13.8" height="33.5" fill="#ff2b12"/>
<rect x="562.3" y="542.6" width="13.8" height="5.3" fill="#2a14ff"/>
<rect x="562.3" y="524" width="13.8" height="18.9" fill="#ff45ff"/>
<rect x="562.3" y="481" width="13.8" height="43.3" fill="#ee9127"/>
<rect x="562.3" y="453.6" width="13.8" height="27.7" fill="#ff2b12"/>
<rect x="582.3" y="543.6" width="13.8" height="4.3" fill="#2a14ff"/>
<rect x="582.3" y="527" width="13.8" height="16.9" fill="#ff45ff"/>
<rect x="582.3" y="485" width="13.8" height="42.3" fill="#ee9127"/>
<rect x="582.3" y="456" width="13.8" height="29.3" fill="#ff2b12"/>
<rect x="602.3" y="543.6" width="13.8" height="4.3" fill="#2a14ff"/>
<rect x="602.3" y="525.4" width="13.8" height="18.5" fill="#ff45ff"/>
<rect x="602.3" y="483.6" width="13.8" height="42.1" fill="#ee9127"/>
<rect x="602.3" y="453" width="13.8" height="30.9" fill="#ff2b12"/>
<rect x="622.3" y="543" width="13.8" height="4.9" fill="#2a14ff"/>
<rect x="622.3" y="524" width="13.8" height="19.3" fill="#ff45ff"/>
<rect x="622.3" y="482.6" width="13.8" height="41.7" fill="#ee9127"/>
<rect x="622.3" y="454.6" width="13.8" height="28.3" fill="#ff2b12"/>
<path d="M376.4 435.2L376.4 548.4" stroke="#222" stroke-width="1.6"/>
<path d="M375.6 547.6L641.6 547.6" stroke="#222" stroke-width="1.6"/>
<path d="M371.8 547.6L376.4 547.6" stroke="#222" stroke-width="1.2"/>
<text transform="translate(369.8 551.2) scale(1 1.04)" text-anchor="end" fill="#111" font-size="10">0</text>
<path d="M371.8 528.9L376.4 528.9" stroke="#222" stroke-width="1.2"/>
<text transform="translate(369.8 532.5) scale(1 1.04)" text-anchor="end" fill="#111" font-size="10">20</text>
<path d="M371.8 510.1L376.4 510.1" stroke="#222" stroke-width="1.2"/>
<text transform="translate(369.8 513.7) scale(1 1.04)" text-anchor="end" fill="#111" font-size="10">40</text>
<path d="M371.8 491.4L376.4 491.4" stroke="#222" stroke-width="1.2"/>
<text transform="translate(369.8 495) scale(1 1.04)" text-anchor="end" fill="#111" font-size="10">60</text>
<path d="M371.8 472.7L376.4 472.7" stroke="#222" stroke-width="1.2"/>
<text transform="translate(369.8 476.3) scale(1 1.04)" text-anchor="end" fill="#111" font-size="10">80</text>
<path d="M371.8 453.9L376.4 453.9" stroke="#222" stroke-width="1.2"/>
<text transform="translate(369.8 457.5) scale(1 1.04)" text-anchor="end" fill="#111" font-size="10">100</text>
<path d="M371.8 435.2L376.4 435.2" stroke="#222" stroke-width="1.2"/>
<text transform="translate(369.8 438.8) scale(1 1.04)" text-anchor="end" fill="#111" font-size="10">120</text>
<path d="M389.2 547.6L389.2 551.6" stroke="#222" stroke-width="1"/>
<path d="M409.2 547.6L409.2 551.6" stroke="#222" stroke-width="1"/>
<path d="M429.2 547.6L429.2 551.6" stroke="#222" stroke-width="1"/>
<path d="M449.2 547.6L449.2 551.6" stroke="#222" stroke-width="1"/>
<path d="M469.2 547.6L469.2 551.6" stroke="#222" stroke-width="1"/>
<path d="M489.2 547.6L489.2 551.6" stroke="#222" stroke-width="1"/>
<path d="M509.2 547.6L509.2 551.6" stroke="#222" stroke-width="1"/>
<path d="M529.2 547.6L529.2 551.6" stroke="#222" stroke-width="1"/>
<path d="M549.2 547.6L549.2 551.6" stroke="#222" stroke-width="1"/>
<path d="M569.2 547.6L569.2 551.6" stroke="#222" stroke-width="1"/>
<path d="M589.2 547.6L589.2 551.6" stroke="#222" stroke-width="1"/>
<path d="M609.2 547.6L609.2 551.6" stroke="#222" stroke-width="1"/>
<path d="M629.2 547.6L629.2 551.6" stroke="#222" stroke-width="1"/>
<text transform="translate(348.4 489.8) rotate(-90) scale(1 1.04)" text-anchor="middle" fill="#111" font-size="9.7">Frequency (%)</text>
<path d="M378 436.2L460.4 436.2" stroke="#333" stroke-width="1"/>
<path d="M535.6 436.2L634.7 436.2" stroke="#333" stroke-width="1"/>
<text transform="translate(463.8 439.8) scale(1 1.04)" fill="#111" font-size="10.5">mCherry<tspan font-size="6.5" dy="-3.8">-</tspan><tspan dy="3.8"> cells</tspan></text>
<text transform="translate(393 553.5) rotate(-90) scale(1 1.04)" text-anchor="end" fill="#111" font-size="10">sgRosa26-1</text>
<text transform="translate(413 553.5) rotate(-90) scale(1 1.04)" text-anchor="end" fill="#111" font-size="10">sgRosa26-2</text>
<text transform="translate(433 553.5) rotate(-90) scale(1 1.04)" text-anchor="end" fill="#111" font-size="10">sgTfdp1-1</text>
<text transform="translate(453 553.5) rotate(-90) scale(1 1.04)" text-anchor="end" fill="#111" font-size="10">sgTfdp1-2</text>
<text transform="translate(473 553.5) rotate(-90) scale(1 1.04)" text-anchor="end" fill="#111" font-size="10">sgE2f4-2</text>
<text transform="translate(493 553.5) rotate(-90) scale(1 1.04)" text-anchor="end" fill="#111" font-size="10">sgE2f4-3</text>
<text transform="translate(532.8 553.5) rotate(-90) scale(1 1.04)" text-anchor="end" fill="#111" font-size="10">sgRosa26-1</text>
<text transform="translate(552.8 553.5) rotate(-90) scale(1 1.04)" text-anchor="end" fill="#111" font-size="10">sgRosa26-2</text>
<text transform="translate(572.8 553.5) rotate(-90) scale(1 1.04)" text-anchor="end" fill="#111" font-size="10">sgTfdp1-1</text>
<text transform="translate(592.8 553.5) rotate(-90) scale(1 1.04)" text-anchor="end" fill="#111" font-size="10">sgTfdp1-2</text>
<text transform="translate(612.8 553.5) rotate(-90) scale(1 1.04)" text-anchor="end" fill="#111" font-size="10">sgE2f4-2</text>
<text transform="translate(632.8 553.5) rotate(-90) scale(1 1.04)" text-anchor="end" fill="#111" font-size="10">sgE2f4-3</text>
<path d="M381 611L497.4 611" stroke="#222" stroke-width="1"/>
<path d="M522.4 611L635.4 611" stroke="#222" stroke-width="1"/>
<text transform="translate(438 622.2) scale(1 1.04)" text-anchor="middle" fill="#111" font-size="10.5">Day 2</text>
<text transform="translate(580.5 622.2) scale(1 1.04)" text-anchor="middle" fill="#111" font-size="10.5">Day 4</text>
<text transform="translate(662.7 389.4) scale(1 1.04)" text-anchor="middle" fill="#111" font-size="10">Cell</text>
<text transform="translate(664.2 400.9) scale(1 1.04)" text-anchor="middle" fill="#111" font-size="10">divisions:</text>
<rect x="653" y="406" width="11" height="6.6" fill="#000000"/>
<text transform="translate(667.6 412.8) scale(1 1.04)" fill="#111" font-size="10">0</text>
<rect x="653" y="421.9" width="11" height="6.6" fill="#80ffff"/>
<text transform="translate(667.6 428.7) scale(1 1.04)" fill="#111" font-size="10">1</text>
<rect x="653" y="437.8" width="11" height="6.6" fill="#2a14ff"/>
<text transform="translate(667.6 444.6) scale(1 1.04)" fill="#111" font-size="10">2</text>
<rect x="653" y="453.7" width="11" height="6.6" fill="#ff45ff"/>
<text transform="translate(667.6 460.5) scale(1 1.04)" fill="#111" font-size="10">3</text>
<rect x="653" y="469.6" width="11" height="6.6" fill="#ee9127"/>
<text transform="translate(667.6 476.4) scale(1 1.04)" fill="#111" font-size="10">4</text>
<rect x="653" y="485.5" width="11" height="6.6" fill="#ff2b12"/>
<text transform="translate(667.6 492.3) scale(1 1.04)" fill="#111" font-size="10">5</text>
</svg>
</body></html>
